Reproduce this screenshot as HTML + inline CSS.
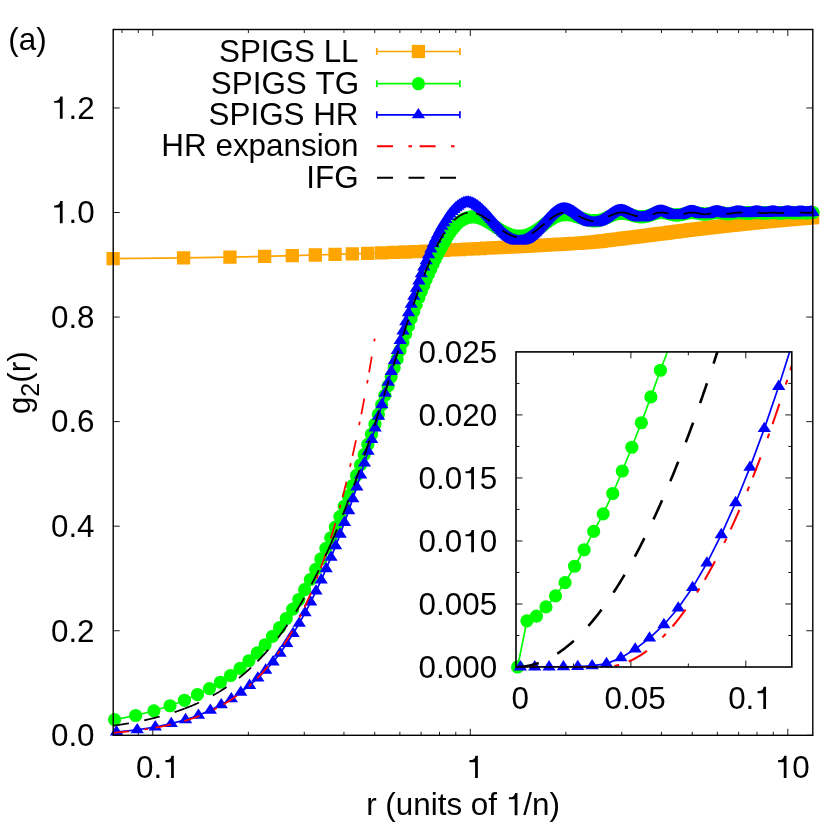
<!DOCTYPE html>
<html><head><meta charset="utf-8"><title>g2(r)</title>
<style>html,body{margin:0;padding:0;background:#fff}svg{display:block}</style></head>
<body><svg width="830" height="830" viewBox="0 0 830 830">
<rect width="830" height="830" fill="#fff"/>
<filter id="gf" x="0" y="0" width="830" height="830" filterUnits="userSpaceOnUse"><feOffset dx="0" dy="0"/></filter>
<path fill="none" stroke="#000" stroke-width="0.9" d="M122.03,735.3v-3.5M122.03,29.5v3.5M138.27,735.3v-3.5M138.27,29.5v3.5M152.8,735.3v-6.5M152.8,29.5v6.5M248.38,735.3v-3.5M248.38,29.5v3.5M304.29,735.3v-3.5M304.29,29.5v3.5M343.95,735.3v-3.5M343.95,29.5v3.5M374.72,735.3v-3.5M374.72,29.5v3.5M399.86,735.3v-3.5M399.86,29.5v3.5M421.12,735.3v-3.5M421.12,29.5v3.5M439.53,735.3v-3.5M439.53,29.5v3.5M455.77,735.3v-3.5M455.77,29.5v3.5M470.3,735.3v-6.5M470.3,29.5v6.5M565.88,735.3v-3.5M565.88,29.5v3.5M621.79,735.3v-3.5M621.79,29.5v3.5M661.45,735.3v-3.5M661.45,29.5v3.5M692.22,735.3v-3.5M692.22,29.5v3.5M717.36,735.3v-3.5M717.36,29.5v3.5M738.62,735.3v-3.5M738.62,29.5v3.5M757.03,735.3v-3.5M757.03,29.5v3.5M773.27,735.3v-3.5M773.27,29.5v3.5M787.8,735.3v-6.5M787.8,29.5v6.5M113.2,735.3h6.5M812.8,735.3h-6.5M113.2,630.74h6.5M812.8,630.74h-6.5M113.2,526.18h6.5M812.8,526.18h-6.5M113.2,421.62h6.5M812.8,421.62h-6.5M113.2,317.06h6.5M812.8,317.06h-6.5M113.2,212.5h6.5M812.8,212.5h-6.5M113.2,107.94h6.5M812.8,107.94h-6.5"/>
<g fill="none" stroke-width="1.7" stroke-linejoin="round">
<path stroke="#ffa500" d="M113.13,258.59L183.57,257.79L229.96,257.07L264.62,256.39L292.29,255.67L315.32,254.99L335.05,254.38L352.31,253.83L367.65,253.34L381.45,252.88L393.99,252.44L405.49,251.99L416.1,251.56L425.96,251.12L435.15,250.72L443.77,250.32L451.89,249.94L459.55,249.57L466.81,249.21L473.7,248.85L480.27,248.53L486.54,248.22L492.54,247.93L498.28,247.65L503.8,247.39L509.1,247.12L514.21,246.87L519.14,246.61L523.89,246.35L528.49,246.1L532.94,245.85L537.25,245.61L541.42,245.37L545.48,245.15L549.42,244.92L553.25,244.7L556.98,244.48L560.61,244.26L564.14,244.04L567.59,243.83L570.95,243.64L574.24,243.47L577.44,243.29L580.58,243.11L583.64,242.91L586.64,242.69L589.57,242.44L592.45,242.15L595.26,241.85L598.02,241.54L600.72,241.23L603.37,240.92L605.98,240.6L608.53,240.29L611.04,239.97L613.5,239.67L615.92,239.36L618.29,239.07L620.63,238.78L622.93,238.49L625.19,238.22L627.41,237.94L629.6,237.67L631.76,237.4L633.88,237.14L635.97,236.87L638.03,236.62L640.05,236.36L642.05,236.11L644.02,235.86L645.97,235.61L647.88,235.37L649.77,235.13L651.63,234.89L653.47,234.65L655.29,234.42L657.08,234.19L658.84,233.95L660.59,233.73L662.31,233.5L664.02,233.28L665.7,233.06L667.36,232.84L669,232.63L670.62,232.41L672.23,232.21L673.81,232L675.38,231.8L676.93,231.6L678.46,231.4L679.97,231.21L681.47,231.02L682.96,230.83L684.42,230.65L685.87,230.46L687.31,230.29L688.73,230.11L690.14,229.94L691.53,229.77L692.91,229.61L694.28,229.45L695.63,229.28L696.97,229.13L698.29,228.97L699.61,228.81L700.91,228.66L702.2,228.51L703.47,228.36L704.74,228.21L705.99,228.06L707.23,227.92L708.46,227.78L709.68,227.64L710.89,227.5L712.09,227.36L713.28,227.22L714.46,227.09L715.63,226.95L716.79,226.82L717.94,226.69L719.08,226.56L720.21,226.44L721.33,226.31L722.44,226.18L723.54,226.06L724.64,225.94L725.72,225.82L726.8,225.7L727.87,225.58L728.93,225.47L729.98,225.35L731.03,225.24L732.06,225.12L733.09,225.01L734.11,224.9L735.13,224.79L736.13,224.68L737.13,224.58L738.13,224.47L739.11,224.36L740.09,224.26L741.06,224.16L742.02,224.06L742.98,223.96L743.93,223.86L744.88,223.76L745.81,223.66L746.75,223.56L747.67,223.47L748.59,223.37L749.5,223.28L750.41,223.19L751.31,223.09L752.21,223L753.1,222.91L753.98,222.82L754.86,222.73L755.73,222.65L756.6,222.56L757.46,222.47L758.32,222.39L759.17,222.3L760.01,222.22L760.86,222.14L761.69,222.06L762.52,221.97L763.35,221.89L764.17,221.81L764.98,221.73L765.8,221.66L766.6,221.58L767.4,221.5L768.2,221.42L768.99,221.35L769.78,221.27L770.56,221.2L771.34,221.12L772.12,221.05L772.89,220.98L773.65,220.91L774.42,220.83L775.17,220.76L775.93,220.69L776.68,220.62L777.42,220.56L778.16,220.49L778.9,220.42L779.63,220.35L780.36,220.29L781.09,220.22L781.81,220.15L782.53,220.09L783.24,220.03L783.95,219.96L784.66,219.9L785.37,219.84L786.07,219.77L786.76,219.71L787.45,219.65L788.14,219.59L788.83,219.53L789.51,219.47L790.19,219.41L790.87,219.36L791.54,219.3L792.21,219.24L792.88,219.18L793.54,219.13L794.2,219.07L794.86,219.02L795.51,218.96L796.16,218.91L796.81,218.85L797.45,218.8L798.09,218.75L798.73,218.69L799.37,218.64L800,218.59L800.63,218.54L801.26,218.49L801.88,218.44L802.5,218.39L803.12,218.34L803.73,218.29L804.35,218.24L804.96,218.19L805.56,218.15L806.17,218.1L806.77,218.05L807.37,218.01L807.97,217.96L808.56,217.91L809.15,217.87L809.74,217.82L810.33,217.78L810.91,217.73L811.5,217.69L812.08,217.65L812.65,217.6"/>
<path fill="#ffa500" stroke="none" d="M106.48,251.94h13.3v13.3h-13.3zM176.92,251.14h13.3v13.3h-13.3zM223.31,250.42h13.3v13.3h-13.3zM257.97,249.74h13.3v13.3h-13.3zM285.64,249.02h13.3v13.3h-13.3zM308.67,248.34h13.3v13.3h-13.3zM328.4,247.73h13.3v13.3h-13.3zM345.66,247.18h13.3v13.3h-13.3zM361,246.69h13.3v13.3h-13.3zM374.8,246.23h13.3v13.3h-13.3zM387.34,245.79h13.3v13.3h-13.3zM398.84,245.34h13.3v13.3h-13.3zM409.45,244.91h13.3v13.3h-13.3zM419.31,244.47h13.3v13.3h-13.3zM428.5,244.07h13.3v13.3h-13.3zM437.12,243.67h13.3v13.3h-13.3zM445.24,243.29h13.3v13.3h-13.3zM452.9,242.92h13.3v13.3h-13.3zM460.16,242.56h13.3v13.3h-13.3zM467.05,242.2h13.3v13.3h-13.3zM473.62,241.88h13.3v13.3h-13.3zM479.89,241.57h13.3v13.3h-13.3zM485.89,241.28h13.3v13.3h-13.3zM491.63,241h13.3v13.3h-13.3zM497.15,240.74h13.3v13.3h-13.3zM502.45,240.47h13.3v13.3h-13.3zM507.56,240.22h13.3v13.3h-13.3zM512.49,239.96h13.3v13.3h-13.3zM517.24,239.7h13.3v13.3h-13.3zM521.84,239.45h13.3v13.3h-13.3zM526.29,239.2h13.3v13.3h-13.3zM530.6,238.96h13.3v13.3h-13.3zM534.77,238.72h13.3v13.3h-13.3zM538.83,238.5h13.3v13.3h-13.3zM542.77,238.27h13.3v13.3h-13.3zM546.6,238.05h13.3v13.3h-13.3zM550.33,237.83h13.3v13.3h-13.3zM553.96,237.61h13.3v13.3h-13.3zM557.49,237.39h13.3v13.3h-13.3zM560.94,237.18h13.3v13.3h-13.3zM564.3,236.99h13.3v13.3h-13.3zM567.59,236.82h13.3v13.3h-13.3zM570.79,236.64h13.3v13.3h-13.3zM573.93,236.46h13.3v13.3h-13.3zM576.99,236.26h13.3v13.3h-13.3zM579.99,236.04h13.3v13.3h-13.3zM582.92,235.79h13.3v13.3h-13.3zM585.8,235.5h13.3v13.3h-13.3zM588.61,235.2h13.3v13.3h-13.3zM591.37,234.89h13.3v13.3h-13.3zM594.07,234.58h13.3v13.3h-13.3zM596.72,234.27h13.3v13.3h-13.3zM599.33,233.95h13.3v13.3h-13.3zM601.88,233.64h13.3v13.3h-13.3zM604.39,233.32h13.3v13.3h-13.3zM606.85,233.02h13.3v13.3h-13.3zM609.27,232.71h13.3v13.3h-13.3zM611.64,232.42h13.3v13.3h-13.3zM613.98,232.13h13.3v13.3h-13.3zM616.28,231.84h13.3v13.3h-13.3zM618.54,231.57h13.3v13.3h-13.3zM620.76,231.29h13.3v13.3h-13.3zM622.95,231.02h13.3v13.3h-13.3zM625.11,230.75h13.3v13.3h-13.3zM627.23,230.49h13.3v13.3h-13.3zM629.32,230.22h13.3v13.3h-13.3zM631.38,229.97h13.3v13.3h-13.3zM633.4,229.71h13.3v13.3h-13.3zM635.4,229.46h13.3v13.3h-13.3zM637.37,229.21h13.3v13.3h-13.3zM639.32,228.96h13.3v13.3h-13.3zM641.23,228.72h13.3v13.3h-13.3zM643.12,228.48h13.3v13.3h-13.3zM644.98,228.24h13.3v13.3h-13.3zM646.82,228h13.3v13.3h-13.3zM648.64,227.77h13.3v13.3h-13.3zM650.43,227.54h13.3v13.3h-13.3zM652.19,227.3h13.3v13.3h-13.3zM653.94,227.08h13.3v13.3h-13.3zM655.66,226.85h13.3v13.3h-13.3zM657.37,226.63h13.3v13.3h-13.3zM659.05,226.41h13.3v13.3h-13.3zM660.71,226.19h13.3v13.3h-13.3zM662.35,225.98h13.3v13.3h-13.3zM663.97,225.76h13.3v13.3h-13.3zM665.58,225.56h13.3v13.3h-13.3zM667.16,225.35h13.3v13.3h-13.3zM668.73,225.15h13.3v13.3h-13.3zM670.28,224.95h13.3v13.3h-13.3zM671.81,224.75h13.3v13.3h-13.3zM673.32,224.56h13.3v13.3h-13.3zM674.82,224.37h13.3v13.3h-13.3zM676.31,224.18h13.3v13.3h-13.3zM677.77,224h13.3v13.3h-13.3zM679.22,223.81h13.3v13.3h-13.3zM680.66,223.64h13.3v13.3h-13.3zM682.08,223.46h13.3v13.3h-13.3zM683.49,223.29h13.3v13.3h-13.3zM684.88,223.12h13.3v13.3h-13.3zM686.26,222.96h13.3v13.3h-13.3zM687.63,222.8h13.3v13.3h-13.3zM688.98,222.63h13.3v13.3h-13.3zM690.32,222.48h13.3v13.3h-13.3zM691.64,222.32h13.3v13.3h-13.3zM692.96,222.16h13.3v13.3h-13.3zM694.26,222.01h13.3v13.3h-13.3zM695.55,221.86h13.3v13.3h-13.3zM696.82,221.71h13.3v13.3h-13.3zM698.09,221.56h13.3v13.3h-13.3zM699.34,221.41h13.3v13.3h-13.3zM700.58,221.27h13.3v13.3h-13.3zM701.81,221.13h13.3v13.3h-13.3zM703.03,220.99h13.3v13.3h-13.3zM704.24,220.85h13.3v13.3h-13.3zM705.44,220.71h13.3v13.3h-13.3zM706.63,220.57h13.3v13.3h-13.3zM707.81,220.44h13.3v13.3h-13.3zM708.98,220.3h13.3v13.3h-13.3zM710.14,220.17h13.3v13.3h-13.3zM711.29,220.04h13.3v13.3h-13.3zM712.43,219.91h13.3v13.3h-13.3zM713.56,219.79h13.3v13.3h-13.3zM714.68,219.66h13.3v13.3h-13.3zM715.79,219.53h13.3v13.3h-13.3zM716.89,219.41h13.3v13.3h-13.3zM717.99,219.29h13.3v13.3h-13.3zM719.07,219.17h13.3v13.3h-13.3zM720.15,219.05h13.3v13.3h-13.3zM721.22,218.93h13.3v13.3h-13.3zM722.28,218.82h13.3v13.3h-13.3zM723.33,218.7h13.3v13.3h-13.3zM724.38,218.59h13.3v13.3h-13.3zM725.41,218.47h13.3v13.3h-13.3zM726.44,218.36h13.3v13.3h-13.3zM727.46,218.25h13.3v13.3h-13.3zM728.48,218.14h13.3v13.3h-13.3zM729.48,218.03h13.3v13.3h-13.3zM730.48,217.93h13.3v13.3h-13.3zM731.48,217.82h13.3v13.3h-13.3zM732.46,217.71h13.3v13.3h-13.3zM733.44,217.61h13.3v13.3h-13.3zM734.41,217.51h13.3v13.3h-13.3zM735.37,217.41h13.3v13.3h-13.3zM736.33,217.31h13.3v13.3h-13.3zM737.28,217.21h13.3v13.3h-13.3zM738.23,217.11h13.3v13.3h-13.3zM739.16,217.01h13.3v13.3h-13.3zM740.1,216.91h13.3v13.3h-13.3zM741.02,216.82h13.3v13.3h-13.3zM741.94,216.72h13.3v13.3h-13.3zM742.85,216.63h13.3v13.3h-13.3zM743.76,216.54h13.3v13.3h-13.3zM744.66,216.44h13.3v13.3h-13.3zM745.56,216.35h13.3v13.3h-13.3zM746.45,216.26h13.3v13.3h-13.3zM747.33,216.17h13.3v13.3h-13.3zM748.21,216.08h13.3v13.3h-13.3zM749.08,216h13.3v13.3h-13.3zM749.95,215.91h13.3v13.3h-13.3zM750.81,215.82h13.3v13.3h-13.3zM751.67,215.74h13.3v13.3h-13.3zM752.52,215.65h13.3v13.3h-13.3zM753.36,215.57h13.3v13.3h-13.3zM754.21,215.49h13.3v13.3h-13.3zM755.04,215.41h13.3v13.3h-13.3zM755.87,215.32h13.3v13.3h-13.3zM756.7,215.24h13.3v13.3h-13.3zM757.52,215.16h13.3v13.3h-13.3zM758.33,215.08h13.3v13.3h-13.3zM759.15,215.01h13.3v13.3h-13.3zM759.95,214.93h13.3v13.3h-13.3zM760.75,214.85h13.3v13.3h-13.3zM761.55,214.77h13.3v13.3h-13.3zM762.34,214.7h13.3v13.3h-13.3zM763.13,214.62h13.3v13.3h-13.3zM763.91,214.55h13.3v13.3h-13.3zM764.69,214.47h13.3v13.3h-13.3zM765.47,214.4h13.3v13.3h-13.3zM766.24,214.33h13.3v13.3h-13.3zM767,214.26h13.3v13.3h-13.3zM767.77,214.18h13.3v13.3h-13.3zM768.52,214.11h13.3v13.3h-13.3zM769.28,214.04h13.3v13.3h-13.3zM770.03,213.97h13.3v13.3h-13.3zM770.77,213.91h13.3v13.3h-13.3zM771.51,213.84h13.3v13.3h-13.3zM772.25,213.77h13.3v13.3h-13.3zM772.98,213.7h13.3v13.3h-13.3zM773.71,213.64h13.3v13.3h-13.3zM774.44,213.57h13.3v13.3h-13.3zM775.16,213.5h13.3v13.3h-13.3zM775.88,213.44h13.3v13.3h-13.3zM776.59,213.38h13.3v13.3h-13.3zM777.3,213.31h13.3v13.3h-13.3zM778.01,213.25h13.3v13.3h-13.3zM778.72,213.19h13.3v13.3h-13.3zM779.42,213.12h13.3v13.3h-13.3zM780.11,213.06h13.3v13.3h-13.3zM780.8,213h13.3v13.3h-13.3zM781.49,212.94h13.3v13.3h-13.3zM782.18,212.88h13.3v13.3h-13.3zM782.86,212.82h13.3v13.3h-13.3zM783.54,212.76h13.3v13.3h-13.3zM784.22,212.71h13.3v13.3h-13.3zM784.89,212.65h13.3v13.3h-13.3zM785.56,212.59h13.3v13.3h-13.3zM786.23,212.53h13.3v13.3h-13.3zM786.89,212.48h13.3v13.3h-13.3zM787.55,212.42h13.3v13.3h-13.3zM788.21,212.37h13.3v13.3h-13.3zM788.86,212.31h13.3v13.3h-13.3zM789.51,212.26h13.3v13.3h-13.3zM790.16,212.2h13.3v13.3h-13.3zM790.8,212.15h13.3v13.3h-13.3zM791.44,212.1h13.3v13.3h-13.3zM792.08,212.04h13.3v13.3h-13.3zM792.72,211.99h13.3v13.3h-13.3zM793.35,211.94h13.3v13.3h-13.3zM793.98,211.89h13.3v13.3h-13.3zM794.61,211.84h13.3v13.3h-13.3zM795.23,211.79h13.3v13.3h-13.3zM795.85,211.74h13.3v13.3h-13.3zM796.47,211.69h13.3v13.3h-13.3zM797.08,211.64h13.3v13.3h-13.3zM797.7,211.59h13.3v13.3h-13.3zM798.31,211.54h13.3v13.3h-13.3zM798.91,211.5h13.3v13.3h-13.3zM799.52,211.45h13.3v13.3h-13.3zM800.12,211.4h13.3v13.3h-13.3zM800.72,211.36h13.3v13.3h-13.3zM801.32,211.31h13.3v13.3h-13.3zM801.91,211.26h13.3v13.3h-13.3zM802.5,211.22h13.3v13.3h-13.3zM803.09,211.17h13.3v13.3h-13.3zM803.68,211.13h13.3v13.3h-13.3zM804.26,211.08h13.3v13.3h-13.3zM804.85,211.04h13.3v13.3h-13.3zM805.43,211h13.3v13.3h-13.3zM806,210.95h13.3v13.3h-13.3z"/>
<path stroke="#00ff00" d="M114.59,719.64L135.64,715.5L153.9,710.8L170.02,705.74L184.45,700.29L197.51,694.54L209.44,688.56L220.42,682.23L230.59,675.48L240.06,668.31L248.93,660.74L257.25,652.87L265.11,644.73L272.54,636.29L279.59,627.55L286.29,618.5L292.69,609.16L298.8,599.54L304.65,589.67L310.27,579.59L315.66,569.34L320.85,558.94L325.86,548.43L330.68,537.83L335.35,527.17L339.86,516.62L344.23,506.23L348.46,495.93L352.57,485.63L356.56,475.3L360.44,464.94L364.21,454.63L367.88,444.4L371.46,434.27L374.94,424.27L378.34,414.43L381.66,404.76L384.9,395.26L388.07,385.92L391.16,376.73L394.19,367.72L397.15,358.92L400.05,350.34L402.89,342.01L405.67,333.94L408.4,326.15L411.07,318.65L413.69,311.44L416.27,304.5L418.79,297.85L421.28,291.48L423.71,285.43L426.11,279.69L428.46,274.2L430.78,268.92L433.06,263.9L435.3,259.19L437.5,254.78L439.67,250.67L441.8,246.66L443.91,242.73L445.98,239.02L448.02,235.67L450.03,232.65L452.01,229.91L453.97,227.46L455.89,225.31L457.79,223.44L459.67,221.83L461.52,220.47L463.34,219.36L465.14,218.49L466.92,217.84L468.68,217.38L470.41,217.09L472.12,216.94L473.81,216.94L475.48,217.08L477.13,217.36L478.76,217.77L480.37,218.29L481.97,218.9L483.54,219.6L485.1,220.38L486.64,221.21L488.16,222.09L489.67,223.01L491.16,223.96L492.63,224.92L494.09,225.88L495.53,226.84L496.96,227.77L498.37,228.67L499.77,229.53L501.16,230.35L502.53,231.12L503.89,231.84L505.23,232.51L506.56,233.13L507.88,233.69L509.19,234.19L510.48,234.64L511.76,235.02L513.03,235.35L514.29,235.62L515.54,235.83L516.77,235.98L518,236.08L519.21,236.12L520.42,236.11L521.61,236.04L522.79,235.92L523.97,235.73L525.13,235.48L526.28,235.18L527.43,234.82L528.56,234.41L529.69,233.95L530.8,233.45L531.91,232.9L533.01,232.3L534.1,231.68L535.18,231.01L536.25,230.32L537.31,229.6L538.37,228.86L539.42,228.11L540.46,227.33L541.49,226.55L542.52,225.76L543.53,224.97L544.54,224.18L545.54,223.42L546.54,222.67L547.53,221.94L548.51,221.24L549.48,220.56L550.45,219.92L551.41,219.3L552.36,218.72L553.31,218.18L554.25,217.67L555.19,217.2L556.11,216.77L557.04,216.37L557.95,216.02L558.86,215.71L559.77,215.43L560.66,215.2L561.56,215.01L562.44,214.85L563.32,214.73L564.2,214.65L565.07,214.61L565.93,214.59L566.79,214.61L567.64,214.65L568.49,214.72L569.34,214.81L570.17,214.93L571.01,215.07L571.83,215.23L572.66,215.41L573.48,215.61L574.29,215.82L575.1,216.05L575.9,216.29L576.7,216.53L577.49,216.79L578.28,217.05L579.07,217.32L579.85,217.59L580.63,217.86L581.4,218.12L582.17,218.38L582.93,218.64L583.69,218.88L584.45,219.12L585.2,219.35L585.94,219.56L586.69,219.76L587.43,219.95L588.16,220.12L588.89,220.27L589.62,220.41L590.34,220.53L591.06,220.63L591.78,220.71L592.49,220.78L593.2,220.82L593.91,220.85L594.61,220.86L595.3,220.84L596,220.8L596.69,220.74L597.38,220.66L598.06,220.55L598.74,220.43L599.42,220.28L600.09,220.12L600.76,219.94L601.43,219.74L602.1,219.53L602.76,219.3L603.42,219.07L604.07,218.82L604.72,218.56L605.37,218.29L606.02,218.02L606.66,217.75L607.3,217.47L607.94,217.19L608.57,216.91L609.2,216.63L609.83,216.36L610.45,216.09L611.08,215.82L611.7,215.57L612.31,215.32L612.93,215.09L613.54,214.86L614.15,214.65L614.75,214.45L615.36,214.26L615.96,214.09L616.55,213.94L617.15,213.8L617.74,213.68L618.33,213.57L618.92,213.48L619.51,213.41L620.09,213.35L620.67,213.31L621.25,213.29L621.82,213.28L622.4,213.29L622.97,213.32L623.54,213.35L624.1,213.4L624.67,213.47L625.23,213.54L625.79,213.63L626.34,213.73L626.9,213.83L627.45,213.95L628,214.08L628.55,214.21L629.09,214.35L629.64,214.49L630.18,214.63L630.72,214.78L631.26,214.93L631.79,215.09L632.33,215.24L632.86,215.39L633.39,215.53L633.91,215.68L634.44,215.81L634.96,215.95L635.48,216.07L636,216.19L636.52,216.3L637.03,216.41L637.55,216.5L638.06,216.58L638.57,216.66L639.08,216.72L639.58,216.77L640.09,216.81L640.59,216.84L641.09,216.86L641.59,216.87L642.08,216.86L642.58,216.85L643.07,216.82L643.56,216.78L644.05,216.73L644.54,216.67L645.03,216.6L645.51,216.51L646,216.41L646.48,216.31L646.96,216.19L647.43,216.06L647.91,215.93L648.39,215.79L648.86,215.65L649.33,215.5L649.8,215.34L650.27,215.18L650.73,215.02L651.2,214.86L651.66,214.7L652.12,214.53L652.58,214.37L653.04,214.21L653.5,214.06L653.96,213.91L654.41,213.76L654.86,213.62L655.31,213.48L655.76,213.35L656.21,213.23L656.66,213.12L657.1,213.01L657.55,212.91L657.99,212.83L658.43,212.75L658.87,212.68L659.31,212.63L659.75,212.58L660.18,212.54L660.62,212.52L661.05,212.5L661.48,212.5L661.91,212.51L662.34,212.52L662.77,212.55L663.19,212.58L663.62,212.63L664.04,212.68L664.46,212.74L664.89,212.81L665.31,212.88L665.72,212.96L666.14,213.05L666.56,213.14L666.97,213.24L667.38,213.34L667.8,213.44L668.21,213.54L668.62,213.65L669.03,213.76L669.43,213.87L669.84,213.97L670.24,214.08L670.65,214.18L671.05,214.28L671.45,214.38L671.85,214.47L672.25,214.56L672.65,214.65L673.05,214.73L673.44,214.8L673.84,214.87L674.23,214.93L674.62,214.98L675.01,215.02L675.4,215.06L675.79,215.09L676.18,215.11L676.57,215.12L676.95,215.13L677.34,215.13L677.72,215.11L678.1,215.1L678.48,215.07L678.86,215.03L679.24,214.99L679.62,214.94L680,214.89L680.37,214.83L680.75,214.76L681.12,214.69L681.5,214.61L681.87,214.53L682.24,214.44L682.61,214.35L682.98,214.26L683.35,214.16L683.71,214.06L684.08,213.96L684.45,213.87L684.81,213.77L685.17,213.67L685.54,213.57L685.9,213.47L686.26,213.38L686.62,213.29L686.98,213.2L687.33,213.12L687.69,213.04L688.05,212.96L688.4,212.89L688.75,212.82L689.11,212.76L689.46,212.71L689.81,212.66L690.16,212.62L690.51,212.58L690.86,212.55L691.21,212.53L691.55,212.51L691.9,212.5L692.25,212.5L692.59,212.5L692.93,212.51L693.28,212.53L693.62,212.55L693.96,212.58L694.3,212.61L694.64,212.65L694.98,212.7L695.31,212.75L695.65,212.8L695.99,212.86L696.32,212.92L696.65,212.98L696.99,213.04L697.32,213.11L697.65,213.18L697.98,213.25L698.31,213.32L698.64,213.39L698.97,213.47L699.3,213.54L699.63,213.61L699.95,213.67L700.28,213.74L700.6,213.8L700.93,213.86L701.25,213.92L701.57,213.97L701.89,214.02L702.22,214.07L702.54,214.11L702.86,214.15L703.17,214.18L703.49,214.2L703.81,214.22L704.13,214.24L704.44,214.25L704.76,214.26L705.07,214.26L705.39,214.25L705.7,214.24L706.01,214.22L706.32,214.2L706.63,214.18L706.94,214.14L707.25,214.11L707.56,214.07L707.87,214.02L708.18,213.98L708.48,213.93L708.79,213.87L709.09,213.81L709.4,213.75L709.7,213.69L710.01,213.63L710.31,213.56L710.61,213.5L710.91,213.43L711.21,213.36L711.51,213.3L711.81,213.23L712.11,213.17L712.41,213.1L712.71,213.04L713,212.98L713.3,212.92L713.6,212.87L713.89,212.82L714.19,212.77L714.48,212.72L714.77,212.68L715.06,212.64L715.36,212.61L715.65,212.58L715.94,212.56L716.23,212.54L716.52,212.52L716.81,212.51L717.09,212.5L717.38,212.5L717.67,212.5L717.95,212.51L718.24,212.52L718.53,212.54L718.81,212.56L719.09,212.58L719.38,212.61L719.66,212.64L719.94,212.67L720.22,212.71L720.51,212.75L720.79,212.79L721.07,212.84L721.35,212.88L721.62,212.93L721.9,212.98L722.18,213.03L722.46,213.08L722.73,213.13L723.01,213.18L723.29,213.23L723.56,213.28L723.83,213.33L724.11,213.38L724.38,213.42L724.65,213.47L724.93,213.51L725.2,213.55L725.47,213.58L725.74,213.61L726.01,213.64L726.28,213.67L726.55,213.69L726.82,213.71L727.08,213.73L727.35,213.74L727.62,213.75L727.89,213.76L728.15,213.76L728.42,213.75L728.68,213.75L728.95,213.74L729.21,213.72L729.47,213.7L729.74,213.68L730,213.66L730.26,213.63L730.52,213.6L730.78,213.56L731.04,213.53L731.3,213.49L731.56,213.45L731.82,213.41L732.08,213.36L732.34,213.32L732.6,213.27L732.85,213.22L733.11,213.17L733.36,213.13L733.62,213.08L733.88,213.03L734.13,212.98L734.38,212.94L734.64,212.89L734.89,212.85L735.14,212.81L735.4,212.77L735.65,212.73L735.9,212.69L736.15,212.66L736.4,212.63L736.65,212.6L736.9,212.58L737.15,212.56L737.4,212.54L737.65,212.53L737.89,212.51L738.14,212.51L738.39,212.5L738.63,212.5L738.88,212.5L739.13,212.51L739.37,212.52L739.62,212.53L739.86,212.54L740.1,212.56L740.35,212.58L740.59,212.6L740.83,212.63L741.07,212.65L741.32,212.68L741.56,212.72L741.8,212.75L742.04,212.78L742.28,212.82L742.52,212.86L742.76,212.89L743,212.93L743.23,212.97L743.47,213.01L743.71,213.04L743.95,213.08L744.18,213.12L744.42,213.15L744.66,213.19L744.89,213.22L745.13,213.25L745.36,213.28L745.6,213.31L745.83,213.33L746.06,213.36L746.3,213.38L746.53,213.39L746.76,213.41L746.99,213.42L747.22,213.43L747.46,213.44L747.69,213.44L747.92,213.44L748.15,213.44L748.38,213.44L748.61,213.43L748.83,213.42L749.06,213.41L749.29,213.39L749.52,213.37L749.75,213.35L749.97,213.33L750.2,213.3L750.43,213.28L750.65,213.25L750.88,213.22L751.1,213.18L751.33,213.15L751.55,213.12L751.78,213.08L752,213.05L752.22,213.01L752.44,212.97L752.67,212.94L752.89,212.9L753.11,212.87L753.33,212.83L753.55,212.8L753.77,212.77L754,212.73L754.22,212.7L754.44,212.68L754.65,212.65L754.87,212.62L755.09,212.6L755.31,212.58L755.53,212.56L755.75,212.54L755.96,212.53L756.18,212.52L756.4,212.51L756.61,212.5L756.83,212.5L757.04,212.5L757.26,212.5L757.48,212.51L757.69,212.51L757.9,212.52L758.12,212.53L758.33,212.55L758.54,212.56L758.76,212.58L758.97,212.6L759.18,212.62L759.39,212.64L759.61,212.67L759.82,212.69L760.03,212.72L760.24,212.75L760.45,212.77L760.66,212.8L760.87,212.83L761.08,212.86L761.29,212.89L761.5,212.92L761.7,212.95L761.91,212.98L762.12,213.01L762.33,213.03L762.54,213.06L762.74,213.08L762.95,213.1L763.15,213.13L763.36,213.15L763.57,213.16L763.77,213.18L763.98,213.19L764.18,213.21L764.39,213.22L764.59,213.22L764.79,213.23L765,213.23L765.2,213.23L765.4,213.23L765.61,213.23L765.81,213.22L766.01,213.22L766.21,213.21L766.41,213.19L766.61,213.18L766.82,213.16L767.02,213.15L767.22,213.13L767.42,213.11L767.62,213.08L767.82,213.06L768.01,213.04L768.21,213.01L768.41,212.98L768.61,212.96L768.81,212.93L769.01,212.9L769.2,212.87L769.4,212.84L769.6,212.82L769.79,212.79L769.99,212.76L770.19,212.73L770.38,212.71L770.58,212.68L770.77,212.66L770.97,212.64L771.16,212.62L771.36,212.6L771.55,212.58L771.74,212.56L771.94,212.55L772.13,212.54L772.32,212.52L772.52,212.52L772.71,212.51L772.9,212.5L773.09,212.5L773.28,212.5L773.48,212.5L773.67,212.5L773.86,212.51L774.05,212.52L774.24,212.53L774.43,212.54L774.62,212.55L774.81,212.56L775,212.58L775.19,212.59L775.37,212.61L775.56,212.63L775.75,212.65L775.94,212.67L776.13,212.7L776.31,212.72L776.5,212.74L776.69,212.76L776.88,212.79L777.06,212.81L777.25,212.83L777.43,212.86L777.62,212.88L777.81,212.9L777.99,212.92L778.18,212.94L778.36,212.96L778.54,212.98L778.73,213L778.91,213.02L779.1,213.03L779.28,213.04L779.46,213.05L779.65,213.06L779.83,213.07L780.01,213.08L780.19,213.08L780.38,213.09L780.56,213.09L780.74,213.09L780.92,213.08L781.1,213.08L781.28,213.07L781.46,213.07L781.64,213.06L781.82,213.05L782,213.03L782.18,213.02L782.36,213L782.54,212.99L782.72,212.97L782.9,212.95L783.08,212.93L783.26,212.91L783.43,212.89L783.61,212.87L783.79,212.84L783.97,212.82L784.14,212.8L784.32,212.78L784.5,212.75L784.67,212.73L784.85,212.71L785.03,212.69L785.2,212.67L785.38,212.65L785.55,212.63L785.73,212.61L785.9,212.59L786.08,212.58L786.25,212.56L786.43,212.55L786.6,212.54L786.77,212.53L786.95,212.52L787.12,212.51L787.29,212.51L787.47,212.5L787.64,212.5L787.81,212.5L787.98,212.5L788.16,212.5L788.33,212.51L788.5,212.51L788.67,212.52L788.84,212.53L789.01,212.54L789.18,212.55L789.35,212.56L789.52,212.58L789.69,212.59L789.86,212.61L790.03,212.62L790.2,212.64L790.37,212.66L790.54,212.68L790.71,212.7L790.88,212.71L791.05,212.73L791.22,212.75L791.38,212.77L791.55,212.79L791.72,212.81L791.89,212.83L792.05,212.85L792.22,212.86L792.39,212.88L792.55,212.89L792.72,212.91L792.89,212.92L793.05,212.93L793.22,212.94L793.38,212.95L793.55,212.96L793.71,212.97L793.88,212.97L794.04,212.98L794.21,212.98L794.37,212.98L794.54,212.98L794.7,212.98L794.87,212.97L795.03,212.97L795.19,212.96L795.36,212.96L795.52,212.95L795.68,212.94L795.85,212.93L796.01,212.91L796.17,212.9L796.33,212.89L796.49,212.87L796.66,212.85L796.82,212.84L796.98,212.82L797.14,212.8L797.3,212.78L797.46,212.77L797.62,212.75L797.78,212.73L797.94,212.71L798.1,212.69L798.26,212.67L798.42,212.66L798.58,212.64L798.74,212.62L798.9,212.61L799.06,212.59L799.22,212.58L799.38,212.56L799.53,212.55L799.69,212.54L799.85,212.53L800.01,212.52L800.17,212.52L800.32,212.51L800.48,212.51L800.64,212.5L800.8,212.5L800.95,212.5L801.11,212.5L801.27,212.5L801.42,212.51L801.58,212.51L801.73,212.52L801.89,212.52L802.04,212.53L802.2,212.54L802.36,212.55L802.51,212.56L802.67,212.58L802.82,212.59L802.97,212.6L803.13,212.62L803.28,212.63L803.44,212.65L803.59,212.66L803.74,212.68L803.9,212.69L804.05,212.71L804.2,212.73L804.36,212.74L804.51,212.76L804.66,212.77L804.81,212.79L804.97,212.8L805.12,212.81L805.27,212.83L805.42,212.84L805.57,212.85L805.73,212.86L805.88,212.87L806.03,212.88L806.18,212.88L806.33,212.89L806.48,212.89L806.63,212.9L806.78,212.9L806.93,212.9L807.08,212.9L807.23,212.9L807.38,212.9L807.53,212.89L807.68,212.89L807.83,212.88L807.98,212.87L808.13,212.86L808.27,212.86L808.42,212.85L808.57,212.83L808.72,212.82L808.87,212.81L809.02,212.8L809.16,212.78L809.31,212.77L809.46,212.75L809.61,212.74L809.75,212.72L809.9,212.71L810.05,212.69L810.19,212.68L810.34,212.66L810.49,212.65L810.63,212.63L810.78,212.62L810.92,212.6L811.07,212.59L811.21,212.58L811.36,212.57L811.51,212.55L811.65,212.54L811.8,212.54L811.94,212.53L812.08,212.52L812.23,212.51L812.37,212.51L812.52,212.5L812.66,212.5L812.81,212.5L812.95,212.5L813.09,212.5"/>
<path fill="#00ff00" stroke="none" d="M107.99,719.64a6.6,6.6 0 1,0 13.2,0a6.6,6.6 0 1,0 -13.2,0zM129.04,715.5a6.6,6.6 0 1,0 13.2,0a6.6,6.6 0 1,0 -13.2,0zM147.3,710.8a6.6,6.6 0 1,0 13.2,0a6.6,6.6 0 1,0 -13.2,0zM163.42,705.74a6.6,6.6 0 1,0 13.2,0a6.6,6.6 0 1,0 -13.2,0zM177.85,700.29a6.6,6.6 0 1,0 13.2,0a6.6,6.6 0 1,0 -13.2,0zM190.91,694.54a6.6,6.6 0 1,0 13.2,0a6.6,6.6 0 1,0 -13.2,0zM202.84,688.56a6.6,6.6 0 1,0 13.2,0a6.6,6.6 0 1,0 -13.2,0zM213.82,682.23a6.6,6.6 0 1,0 13.2,0a6.6,6.6 0 1,0 -13.2,0zM223.99,675.48a6.6,6.6 0 1,0 13.2,0a6.6,6.6 0 1,0 -13.2,0zM233.46,668.31a6.6,6.6 0 1,0 13.2,0a6.6,6.6 0 1,0 -13.2,0zM242.33,660.74a6.6,6.6 0 1,0 13.2,0a6.6,6.6 0 1,0 -13.2,0zM250.65,652.87a6.6,6.6 0 1,0 13.2,0a6.6,6.6 0 1,0 -13.2,0zM258.51,644.73a6.6,6.6 0 1,0 13.2,0a6.6,6.6 0 1,0 -13.2,0zM265.94,636.29a6.6,6.6 0 1,0 13.2,0a6.6,6.6 0 1,0 -13.2,0zM272.99,627.55a6.6,6.6 0 1,0 13.2,0a6.6,6.6 0 1,0 -13.2,0zM279.69,618.5a6.6,6.6 0 1,0 13.2,0a6.6,6.6 0 1,0 -13.2,0zM286.09,609.16a6.6,6.6 0 1,0 13.2,0a6.6,6.6 0 1,0 -13.2,0zM292.2,599.54a6.6,6.6 0 1,0 13.2,0a6.6,6.6 0 1,0 -13.2,0zM298.05,589.67a6.6,6.6 0 1,0 13.2,0a6.6,6.6 0 1,0 -13.2,0zM303.67,579.59a6.6,6.6 0 1,0 13.2,0a6.6,6.6 0 1,0 -13.2,0zM309.06,569.34a6.6,6.6 0 1,0 13.2,0a6.6,6.6 0 1,0 -13.2,0zM314.25,558.94a6.6,6.6 0 1,0 13.2,0a6.6,6.6 0 1,0 -13.2,0zM319.26,548.43a6.6,6.6 0 1,0 13.2,0a6.6,6.6 0 1,0 -13.2,0zM324.08,537.83a6.6,6.6 0 1,0 13.2,0a6.6,6.6 0 1,0 -13.2,0zM328.75,527.17a6.6,6.6 0 1,0 13.2,0a6.6,6.6 0 1,0 -13.2,0zM333.26,516.62a6.6,6.6 0 1,0 13.2,0a6.6,6.6 0 1,0 -13.2,0zM337.63,506.23a6.6,6.6 0 1,0 13.2,0a6.6,6.6 0 1,0 -13.2,0zM341.86,495.93a6.6,6.6 0 1,0 13.2,0a6.6,6.6 0 1,0 -13.2,0zM345.97,485.63a6.6,6.6 0 1,0 13.2,0a6.6,6.6 0 1,0 -13.2,0zM349.96,475.3a6.6,6.6 0 1,0 13.2,0a6.6,6.6 0 1,0 -13.2,0zM353.84,464.94a6.6,6.6 0 1,0 13.2,0a6.6,6.6 0 1,0 -13.2,0zM357.61,454.63a6.6,6.6 0 1,0 13.2,0a6.6,6.6 0 1,0 -13.2,0zM361.28,444.4a6.6,6.6 0 1,0 13.2,0a6.6,6.6 0 1,0 -13.2,0zM364.86,434.27a6.6,6.6 0 1,0 13.2,0a6.6,6.6 0 1,0 -13.2,0zM368.34,424.27a6.6,6.6 0 1,0 13.2,0a6.6,6.6 0 1,0 -13.2,0zM371.74,414.43a6.6,6.6 0 1,0 13.2,0a6.6,6.6 0 1,0 -13.2,0zM375.06,404.76a6.6,6.6 0 1,0 13.2,0a6.6,6.6 0 1,0 -13.2,0zM378.3,395.26a6.6,6.6 0 1,0 13.2,0a6.6,6.6 0 1,0 -13.2,0zM381.47,385.92a6.6,6.6 0 1,0 13.2,0a6.6,6.6 0 1,0 -13.2,0zM384.56,376.73a6.6,6.6 0 1,0 13.2,0a6.6,6.6 0 1,0 -13.2,0zM387.59,367.72a6.6,6.6 0 1,0 13.2,0a6.6,6.6 0 1,0 -13.2,0zM390.55,358.92a6.6,6.6 0 1,0 13.2,0a6.6,6.6 0 1,0 -13.2,0zM393.45,350.34a6.6,6.6 0 1,0 13.2,0a6.6,6.6 0 1,0 -13.2,0zM396.29,342.01a6.6,6.6 0 1,0 13.2,0a6.6,6.6 0 1,0 -13.2,0zM399.07,333.94a6.6,6.6 0 1,0 13.2,0a6.6,6.6 0 1,0 -13.2,0zM401.8,326.15a6.6,6.6 0 1,0 13.2,0a6.6,6.6 0 1,0 -13.2,0zM404.47,318.65a6.6,6.6 0 1,0 13.2,0a6.6,6.6 0 1,0 -13.2,0zM407.09,311.44a6.6,6.6 0 1,0 13.2,0a6.6,6.6 0 1,0 -13.2,0zM409.67,304.5a6.6,6.6 0 1,0 13.2,0a6.6,6.6 0 1,0 -13.2,0zM412.19,297.85a6.6,6.6 0 1,0 13.2,0a6.6,6.6 0 1,0 -13.2,0zM414.68,291.48a6.6,6.6 0 1,0 13.2,0a6.6,6.6 0 1,0 -13.2,0zM417.11,285.43a6.6,6.6 0 1,0 13.2,0a6.6,6.6 0 1,0 -13.2,0zM419.51,279.69a6.6,6.6 0 1,0 13.2,0a6.6,6.6 0 1,0 -13.2,0zM421.86,274.2a6.6,6.6 0 1,0 13.2,0a6.6,6.6 0 1,0 -13.2,0zM424.18,268.92a6.6,6.6 0 1,0 13.2,0a6.6,6.6 0 1,0 -13.2,0zM426.46,263.9a6.6,6.6 0 1,0 13.2,0a6.6,6.6 0 1,0 -13.2,0zM428.7,259.19a6.6,6.6 0 1,0 13.2,0a6.6,6.6 0 1,0 -13.2,0zM430.9,254.78a6.6,6.6 0 1,0 13.2,0a6.6,6.6 0 1,0 -13.2,0zM433.07,250.67a6.6,6.6 0 1,0 13.2,0a6.6,6.6 0 1,0 -13.2,0zM435.2,246.66a6.6,6.6 0 1,0 13.2,0a6.6,6.6 0 1,0 -13.2,0zM437.31,242.73a6.6,6.6 0 1,0 13.2,0a6.6,6.6 0 1,0 -13.2,0zM439.38,239.02a6.6,6.6 0 1,0 13.2,0a6.6,6.6 0 1,0 -13.2,0zM441.42,235.67a6.6,6.6 0 1,0 13.2,0a6.6,6.6 0 1,0 -13.2,0zM443.43,232.65a6.6,6.6 0 1,0 13.2,0a6.6,6.6 0 1,0 -13.2,0zM445.41,229.91a6.6,6.6 0 1,0 13.2,0a6.6,6.6 0 1,0 -13.2,0zM447.37,227.46a6.6,6.6 0 1,0 13.2,0a6.6,6.6 0 1,0 -13.2,0zM449.29,225.31a6.6,6.6 0 1,0 13.2,0a6.6,6.6 0 1,0 -13.2,0zM451.19,223.44a6.6,6.6 0 1,0 13.2,0a6.6,6.6 0 1,0 -13.2,0zM453.07,221.83a6.6,6.6 0 1,0 13.2,0a6.6,6.6 0 1,0 -13.2,0zM454.92,220.47a6.6,6.6 0 1,0 13.2,0a6.6,6.6 0 1,0 -13.2,0zM456.74,219.36a6.6,6.6 0 1,0 13.2,0a6.6,6.6 0 1,0 -13.2,0zM458.54,218.49a6.6,6.6 0 1,0 13.2,0a6.6,6.6 0 1,0 -13.2,0zM460.32,217.84a6.6,6.6 0 1,0 13.2,0a6.6,6.6 0 1,0 -13.2,0zM462.08,217.38a6.6,6.6 0 1,0 13.2,0a6.6,6.6 0 1,0 -13.2,0zM463.81,217.09a6.6,6.6 0 1,0 13.2,0a6.6,6.6 0 1,0 -13.2,0zM465.52,216.94a6.6,6.6 0 1,0 13.2,0a6.6,6.6 0 1,0 -13.2,0zM467.21,216.94a6.6,6.6 0 1,0 13.2,0a6.6,6.6 0 1,0 -13.2,0zM468.88,217.08a6.6,6.6 0 1,0 13.2,0a6.6,6.6 0 1,0 -13.2,0zM470.53,217.36a6.6,6.6 0 1,0 13.2,0a6.6,6.6 0 1,0 -13.2,0zM472.16,217.77a6.6,6.6 0 1,0 13.2,0a6.6,6.6 0 1,0 -13.2,0zM473.77,218.29a6.6,6.6 0 1,0 13.2,0a6.6,6.6 0 1,0 -13.2,0zM475.37,218.9a6.6,6.6 0 1,0 13.2,0a6.6,6.6 0 1,0 -13.2,0zM476.94,219.6a6.6,6.6 0 1,0 13.2,0a6.6,6.6 0 1,0 -13.2,0zM478.5,220.38a6.6,6.6 0 1,0 13.2,0a6.6,6.6 0 1,0 -13.2,0zM480.04,221.21a6.6,6.6 0 1,0 13.2,0a6.6,6.6 0 1,0 -13.2,0zM481.56,222.09a6.6,6.6 0 1,0 13.2,0a6.6,6.6 0 1,0 -13.2,0zM483.07,223.01a6.6,6.6 0 1,0 13.2,0a6.6,6.6 0 1,0 -13.2,0zM484.56,223.96a6.6,6.6 0 1,0 13.2,0a6.6,6.6 0 1,0 -13.2,0zM486.03,224.92a6.6,6.6 0 1,0 13.2,0a6.6,6.6 0 1,0 -13.2,0zM487.49,225.88a6.6,6.6 0 1,0 13.2,0a6.6,6.6 0 1,0 -13.2,0zM488.93,226.84a6.6,6.6 0 1,0 13.2,0a6.6,6.6 0 1,0 -13.2,0zM490.36,227.77a6.6,6.6 0 1,0 13.2,0a6.6,6.6 0 1,0 -13.2,0zM491.77,228.67a6.6,6.6 0 1,0 13.2,0a6.6,6.6 0 1,0 -13.2,0zM493.17,229.53a6.6,6.6 0 1,0 13.2,0a6.6,6.6 0 1,0 -13.2,0zM494.56,230.35a6.6,6.6 0 1,0 13.2,0a6.6,6.6 0 1,0 -13.2,0zM495.93,231.12a6.6,6.6 0 1,0 13.2,0a6.6,6.6 0 1,0 -13.2,0zM497.29,231.84a6.6,6.6 0 1,0 13.2,0a6.6,6.6 0 1,0 -13.2,0zM498.63,232.51a6.6,6.6 0 1,0 13.2,0a6.6,6.6 0 1,0 -13.2,0zM499.96,233.13a6.6,6.6 0 1,0 13.2,0a6.6,6.6 0 1,0 -13.2,0zM501.28,233.69a6.6,6.6 0 1,0 13.2,0a6.6,6.6 0 1,0 -13.2,0zM502.59,234.19a6.6,6.6 0 1,0 13.2,0a6.6,6.6 0 1,0 -13.2,0zM503.88,234.64a6.6,6.6 0 1,0 13.2,0a6.6,6.6 0 1,0 -13.2,0zM505.16,235.02a6.6,6.6 0 1,0 13.2,0a6.6,6.6 0 1,0 -13.2,0zM506.43,235.35a6.6,6.6 0 1,0 13.2,0a6.6,6.6 0 1,0 -13.2,0zM507.69,235.62a6.6,6.6 0 1,0 13.2,0a6.6,6.6 0 1,0 -13.2,0zM508.94,235.83a6.6,6.6 0 1,0 13.2,0a6.6,6.6 0 1,0 -13.2,0zM510.17,235.98a6.6,6.6 0 1,0 13.2,0a6.6,6.6 0 1,0 -13.2,0zM511.4,236.08a6.6,6.6 0 1,0 13.2,0a6.6,6.6 0 1,0 -13.2,0zM512.61,236.12a6.6,6.6 0 1,0 13.2,0a6.6,6.6 0 1,0 -13.2,0zM513.82,236.11a6.6,6.6 0 1,0 13.2,0a6.6,6.6 0 1,0 -13.2,0zM515.01,236.04a6.6,6.6 0 1,0 13.2,0a6.6,6.6 0 1,0 -13.2,0zM516.19,235.92a6.6,6.6 0 1,0 13.2,0a6.6,6.6 0 1,0 -13.2,0zM517.37,235.73a6.6,6.6 0 1,0 13.2,0a6.6,6.6 0 1,0 -13.2,0zM518.53,235.48a6.6,6.6 0 1,0 13.2,0a6.6,6.6 0 1,0 -13.2,0zM519.68,235.18a6.6,6.6 0 1,0 13.2,0a6.6,6.6 0 1,0 -13.2,0zM520.83,234.82a6.6,6.6 0 1,0 13.2,0a6.6,6.6 0 1,0 -13.2,0zM521.96,234.41a6.6,6.6 0 1,0 13.2,0a6.6,6.6 0 1,0 -13.2,0zM523.09,233.95a6.6,6.6 0 1,0 13.2,0a6.6,6.6 0 1,0 -13.2,0zM524.2,233.45a6.6,6.6 0 1,0 13.2,0a6.6,6.6 0 1,0 -13.2,0zM525.31,232.9a6.6,6.6 0 1,0 13.2,0a6.6,6.6 0 1,0 -13.2,0zM526.41,232.3a6.6,6.6 0 1,0 13.2,0a6.6,6.6 0 1,0 -13.2,0zM527.5,231.68a6.6,6.6 0 1,0 13.2,0a6.6,6.6 0 1,0 -13.2,0zM528.58,231.01a6.6,6.6 0 1,0 13.2,0a6.6,6.6 0 1,0 -13.2,0zM529.65,230.32a6.6,6.6 0 1,0 13.2,0a6.6,6.6 0 1,0 -13.2,0zM530.71,229.6a6.6,6.6 0 1,0 13.2,0a6.6,6.6 0 1,0 -13.2,0zM531.77,228.86a6.6,6.6 0 1,0 13.2,0a6.6,6.6 0 1,0 -13.2,0zM532.82,228.11a6.6,6.6 0 1,0 13.2,0a6.6,6.6 0 1,0 -13.2,0zM533.86,227.33a6.6,6.6 0 1,0 13.2,0a6.6,6.6 0 1,0 -13.2,0zM534.89,226.55a6.6,6.6 0 1,0 13.2,0a6.6,6.6 0 1,0 -13.2,0zM535.92,225.76a6.6,6.6 0 1,0 13.2,0a6.6,6.6 0 1,0 -13.2,0zM536.93,224.97a6.6,6.6 0 1,0 13.2,0a6.6,6.6 0 1,0 -13.2,0zM537.94,224.18a6.6,6.6 0 1,0 13.2,0a6.6,6.6 0 1,0 -13.2,0zM538.94,223.42a6.6,6.6 0 1,0 13.2,0a6.6,6.6 0 1,0 -13.2,0zM539.94,222.67a6.6,6.6 0 1,0 13.2,0a6.6,6.6 0 1,0 -13.2,0zM540.93,221.94a6.6,6.6 0 1,0 13.2,0a6.6,6.6 0 1,0 -13.2,0zM541.91,221.24a6.6,6.6 0 1,0 13.2,0a6.6,6.6 0 1,0 -13.2,0zM542.88,220.56a6.6,6.6 0 1,0 13.2,0a6.6,6.6 0 1,0 -13.2,0zM543.85,219.92a6.6,6.6 0 1,0 13.2,0a6.6,6.6 0 1,0 -13.2,0zM544.81,219.3a6.6,6.6 0 1,0 13.2,0a6.6,6.6 0 1,0 -13.2,0zM545.76,218.72a6.6,6.6 0 1,0 13.2,0a6.6,6.6 0 1,0 -13.2,0zM546.71,218.18a6.6,6.6 0 1,0 13.2,0a6.6,6.6 0 1,0 -13.2,0zM547.65,217.67a6.6,6.6 0 1,0 13.2,0a6.6,6.6 0 1,0 -13.2,0zM548.59,217.2a6.6,6.6 0 1,0 13.2,0a6.6,6.6 0 1,0 -13.2,0zM549.51,216.77a6.6,6.6 0 1,0 13.2,0a6.6,6.6 0 1,0 -13.2,0zM550.44,216.37a6.6,6.6 0 1,0 13.2,0a6.6,6.6 0 1,0 -13.2,0zM551.35,216.02a6.6,6.6 0 1,0 13.2,0a6.6,6.6 0 1,0 -13.2,0zM552.26,215.71a6.6,6.6 0 1,0 13.2,0a6.6,6.6 0 1,0 -13.2,0zM553.17,215.43a6.6,6.6 0 1,0 13.2,0a6.6,6.6 0 1,0 -13.2,0zM554.06,215.2a6.6,6.6 0 1,0 13.2,0a6.6,6.6 0 1,0 -13.2,0zM554.96,215.01a6.6,6.6 0 1,0 13.2,0a6.6,6.6 0 1,0 -13.2,0zM555.84,214.85a6.6,6.6 0 1,0 13.2,0a6.6,6.6 0 1,0 -13.2,0zM556.72,214.73a6.6,6.6 0 1,0 13.2,0a6.6,6.6 0 1,0 -13.2,0zM557.6,214.65a6.6,6.6 0 1,0 13.2,0a6.6,6.6 0 1,0 -13.2,0zM558.47,214.61a6.6,6.6 0 1,0 13.2,0a6.6,6.6 0 1,0 -13.2,0zM559.33,214.59a6.6,6.6 0 1,0 13.2,0a6.6,6.6 0 1,0 -13.2,0zM560.19,214.61a6.6,6.6 0 1,0 13.2,0a6.6,6.6 0 1,0 -13.2,0zM561.04,214.65a6.6,6.6 0 1,0 13.2,0a6.6,6.6 0 1,0 -13.2,0zM561.89,214.72a6.6,6.6 0 1,0 13.2,0a6.6,6.6 0 1,0 -13.2,0zM562.74,214.81a6.6,6.6 0 1,0 13.2,0a6.6,6.6 0 1,0 -13.2,0zM563.57,214.93a6.6,6.6 0 1,0 13.2,0a6.6,6.6 0 1,0 -13.2,0zM564.41,215.07a6.6,6.6 0 1,0 13.2,0a6.6,6.6 0 1,0 -13.2,0zM565.23,215.23a6.6,6.6 0 1,0 13.2,0a6.6,6.6 0 1,0 -13.2,0zM566.06,215.41a6.6,6.6 0 1,0 13.2,0a6.6,6.6 0 1,0 -13.2,0zM566.88,215.61a6.6,6.6 0 1,0 13.2,0a6.6,6.6 0 1,0 -13.2,0zM567.69,215.82a6.6,6.6 0 1,0 13.2,0a6.6,6.6 0 1,0 -13.2,0zM568.5,216.05a6.6,6.6 0 1,0 13.2,0a6.6,6.6 0 1,0 -13.2,0zM569.3,216.29a6.6,6.6 0 1,0 13.2,0a6.6,6.6 0 1,0 -13.2,0zM570.1,216.53a6.6,6.6 0 1,0 13.2,0a6.6,6.6 0 1,0 -13.2,0zM570.89,216.79a6.6,6.6 0 1,0 13.2,0a6.6,6.6 0 1,0 -13.2,0zM571.68,217.05a6.6,6.6 0 1,0 13.2,0a6.6,6.6 0 1,0 -13.2,0zM572.47,217.32a6.6,6.6 0 1,0 13.2,0a6.6,6.6 0 1,0 -13.2,0zM573.25,217.59a6.6,6.6 0 1,0 13.2,0a6.6,6.6 0 1,0 -13.2,0zM574.03,217.86a6.6,6.6 0 1,0 13.2,0a6.6,6.6 0 1,0 -13.2,0zM574.8,218.12a6.6,6.6 0 1,0 13.2,0a6.6,6.6 0 1,0 -13.2,0zM575.57,218.38a6.6,6.6 0 1,0 13.2,0a6.6,6.6 0 1,0 -13.2,0zM576.33,218.64a6.6,6.6 0 1,0 13.2,0a6.6,6.6 0 1,0 -13.2,0zM577.09,218.88a6.6,6.6 0 1,0 13.2,0a6.6,6.6 0 1,0 -13.2,0zM577.85,219.12a6.6,6.6 0 1,0 13.2,0a6.6,6.6 0 1,0 -13.2,0zM578.6,219.35a6.6,6.6 0 1,0 13.2,0a6.6,6.6 0 1,0 -13.2,0zM579.34,219.56a6.6,6.6 0 1,0 13.2,0a6.6,6.6 0 1,0 -13.2,0zM580.09,219.76a6.6,6.6 0 1,0 13.2,0a6.6,6.6 0 1,0 -13.2,0zM580.83,219.95a6.6,6.6 0 1,0 13.2,0a6.6,6.6 0 1,0 -13.2,0zM581.56,220.12a6.6,6.6 0 1,0 13.2,0a6.6,6.6 0 1,0 -13.2,0zM582.29,220.27a6.6,6.6 0 1,0 13.2,0a6.6,6.6 0 1,0 -13.2,0zM583.02,220.41a6.6,6.6 0 1,0 13.2,0a6.6,6.6 0 1,0 -13.2,0zM583.74,220.53a6.6,6.6 0 1,0 13.2,0a6.6,6.6 0 1,0 -13.2,0zM584.46,220.63a6.6,6.6 0 1,0 13.2,0a6.6,6.6 0 1,0 -13.2,0zM585.18,220.71a6.6,6.6 0 1,0 13.2,0a6.6,6.6 0 1,0 -13.2,0zM585.89,220.78a6.6,6.6 0 1,0 13.2,0a6.6,6.6 0 1,0 -13.2,0zM586.6,220.82a6.6,6.6 0 1,0 13.2,0a6.6,6.6 0 1,0 -13.2,0zM587.31,220.85a6.6,6.6 0 1,0 13.2,0a6.6,6.6 0 1,0 -13.2,0zM588.01,220.86a6.6,6.6 0 1,0 13.2,0a6.6,6.6 0 1,0 -13.2,0zM588.7,220.84a6.6,6.6 0 1,0 13.2,0a6.6,6.6 0 1,0 -13.2,0zM589.4,220.8a6.6,6.6 0 1,0 13.2,0a6.6,6.6 0 1,0 -13.2,0zM590.09,220.74a6.6,6.6 0 1,0 13.2,0a6.6,6.6 0 1,0 -13.2,0zM590.78,220.66a6.6,6.6 0 1,0 13.2,0a6.6,6.6 0 1,0 -13.2,0zM591.46,220.55a6.6,6.6 0 1,0 13.2,0a6.6,6.6 0 1,0 -13.2,0zM592.14,220.43a6.6,6.6 0 1,0 13.2,0a6.6,6.6 0 1,0 -13.2,0zM592.82,220.28a6.6,6.6 0 1,0 13.2,0a6.6,6.6 0 1,0 -13.2,0zM593.49,220.12a6.6,6.6 0 1,0 13.2,0a6.6,6.6 0 1,0 -13.2,0zM594.16,219.94a6.6,6.6 0 1,0 13.2,0a6.6,6.6 0 1,0 -13.2,0zM594.83,219.74a6.6,6.6 0 1,0 13.2,0a6.6,6.6 0 1,0 -13.2,0zM595.5,219.53a6.6,6.6 0 1,0 13.2,0a6.6,6.6 0 1,0 -13.2,0zM596.16,219.3a6.6,6.6 0 1,0 13.2,0a6.6,6.6 0 1,0 -13.2,0zM596.82,219.07a6.6,6.6 0 1,0 13.2,0a6.6,6.6 0 1,0 -13.2,0zM597.47,218.82a6.6,6.6 0 1,0 13.2,0a6.6,6.6 0 1,0 -13.2,0zM598.12,218.56a6.6,6.6 0 1,0 13.2,0a6.6,6.6 0 1,0 -13.2,0zM598.77,218.29a6.6,6.6 0 1,0 13.2,0a6.6,6.6 0 1,0 -13.2,0zM599.42,218.02a6.6,6.6 0 1,0 13.2,0a6.6,6.6 0 1,0 -13.2,0zM600.06,217.75a6.6,6.6 0 1,0 13.2,0a6.6,6.6 0 1,0 -13.2,0zM600.7,217.47a6.6,6.6 0 1,0 13.2,0a6.6,6.6 0 1,0 -13.2,0zM601.34,217.19a6.6,6.6 0 1,0 13.2,0a6.6,6.6 0 1,0 -13.2,0zM601.97,216.91a6.6,6.6 0 1,0 13.2,0a6.6,6.6 0 1,0 -13.2,0zM602.6,216.63a6.6,6.6 0 1,0 13.2,0a6.6,6.6 0 1,0 -13.2,0zM603.23,216.36a6.6,6.6 0 1,0 13.2,0a6.6,6.6 0 1,0 -13.2,0zM603.85,216.09a6.6,6.6 0 1,0 13.2,0a6.6,6.6 0 1,0 -13.2,0zM604.48,215.82a6.6,6.6 0 1,0 13.2,0a6.6,6.6 0 1,0 -13.2,0zM605.1,215.57a6.6,6.6 0 1,0 13.2,0a6.6,6.6 0 1,0 -13.2,0zM605.71,215.32a6.6,6.6 0 1,0 13.2,0a6.6,6.6 0 1,0 -13.2,0zM606.33,215.09a6.6,6.6 0 1,0 13.2,0a6.6,6.6 0 1,0 -13.2,0zM606.94,214.86a6.6,6.6 0 1,0 13.2,0a6.6,6.6 0 1,0 -13.2,0zM607.55,214.65a6.6,6.6 0 1,0 13.2,0a6.6,6.6 0 1,0 -13.2,0zM608.15,214.45a6.6,6.6 0 1,0 13.2,0a6.6,6.6 0 1,0 -13.2,0zM608.76,214.26a6.6,6.6 0 1,0 13.2,0a6.6,6.6 0 1,0 -13.2,0zM609.36,214.09a6.6,6.6 0 1,0 13.2,0a6.6,6.6 0 1,0 -13.2,0zM609.95,213.94a6.6,6.6 0 1,0 13.2,0a6.6,6.6 0 1,0 -13.2,0zM610.55,213.8a6.6,6.6 0 1,0 13.2,0a6.6,6.6 0 1,0 -13.2,0zM611.14,213.68a6.6,6.6 0 1,0 13.2,0a6.6,6.6 0 1,0 -13.2,0zM611.73,213.57a6.6,6.6 0 1,0 13.2,0a6.6,6.6 0 1,0 -13.2,0zM612.32,213.48a6.6,6.6 0 1,0 13.2,0a6.6,6.6 0 1,0 -13.2,0zM612.91,213.41a6.6,6.6 0 1,0 13.2,0a6.6,6.6 0 1,0 -13.2,0zM613.49,213.35a6.6,6.6 0 1,0 13.2,0a6.6,6.6 0 1,0 -13.2,0zM614.07,213.31a6.6,6.6 0 1,0 13.2,0a6.6,6.6 0 1,0 -13.2,0zM614.65,213.29a6.6,6.6 0 1,0 13.2,0a6.6,6.6 0 1,0 -13.2,0zM615.22,213.28a6.6,6.6 0 1,0 13.2,0a6.6,6.6 0 1,0 -13.2,0zM615.8,213.29a6.6,6.6 0 1,0 13.2,0a6.6,6.6 0 1,0 -13.2,0zM616.37,213.32a6.6,6.6 0 1,0 13.2,0a6.6,6.6 0 1,0 -13.2,0zM616.94,213.35a6.6,6.6 0 1,0 13.2,0a6.6,6.6 0 1,0 -13.2,0zM617.5,213.4a6.6,6.6 0 1,0 13.2,0a6.6,6.6 0 1,0 -13.2,0zM618.07,213.47a6.6,6.6 0 1,0 13.2,0a6.6,6.6 0 1,0 -13.2,0zM618.63,213.54a6.6,6.6 0 1,0 13.2,0a6.6,6.6 0 1,0 -13.2,0zM619.19,213.63a6.6,6.6 0 1,0 13.2,0a6.6,6.6 0 1,0 -13.2,0zM619.74,213.73a6.6,6.6 0 1,0 13.2,0a6.6,6.6 0 1,0 -13.2,0zM620.3,213.83a6.6,6.6 0 1,0 13.2,0a6.6,6.6 0 1,0 -13.2,0zM620.85,213.95a6.6,6.6 0 1,0 13.2,0a6.6,6.6 0 1,0 -13.2,0zM621.4,214.08a6.6,6.6 0 1,0 13.2,0a6.6,6.6 0 1,0 -13.2,0zM621.95,214.21a6.6,6.6 0 1,0 13.2,0a6.6,6.6 0 1,0 -13.2,0zM622.49,214.35a6.6,6.6 0 1,0 13.2,0a6.6,6.6 0 1,0 -13.2,0zM623.04,214.49a6.6,6.6 0 1,0 13.2,0a6.6,6.6 0 1,0 -13.2,0zM623.58,214.63a6.6,6.6 0 1,0 13.2,0a6.6,6.6 0 1,0 -13.2,0zM624.12,214.78a6.6,6.6 0 1,0 13.2,0a6.6,6.6 0 1,0 -13.2,0zM624.66,214.93a6.6,6.6 0 1,0 13.2,0a6.6,6.6 0 1,0 -13.2,0zM625.19,215.09a6.6,6.6 0 1,0 13.2,0a6.6,6.6 0 1,0 -13.2,0zM625.73,215.24a6.6,6.6 0 1,0 13.2,0a6.6,6.6 0 1,0 -13.2,0zM626.26,215.39a6.6,6.6 0 1,0 13.2,0a6.6,6.6 0 1,0 -13.2,0zM626.79,215.53a6.6,6.6 0 1,0 13.2,0a6.6,6.6 0 1,0 -13.2,0zM627.31,215.68a6.6,6.6 0 1,0 13.2,0a6.6,6.6 0 1,0 -13.2,0zM627.84,215.81a6.6,6.6 0 1,0 13.2,0a6.6,6.6 0 1,0 -13.2,0zM628.36,215.95a6.6,6.6 0 1,0 13.2,0a6.6,6.6 0 1,0 -13.2,0zM628.88,216.07a6.6,6.6 0 1,0 13.2,0a6.6,6.6 0 1,0 -13.2,0zM629.4,216.19a6.6,6.6 0 1,0 13.2,0a6.6,6.6 0 1,0 -13.2,0zM629.92,216.3a6.6,6.6 0 1,0 13.2,0a6.6,6.6 0 1,0 -13.2,0zM630.43,216.41a6.6,6.6 0 1,0 13.2,0a6.6,6.6 0 1,0 -13.2,0zM630.95,216.5a6.6,6.6 0 1,0 13.2,0a6.6,6.6 0 1,0 -13.2,0zM631.46,216.58a6.6,6.6 0 1,0 13.2,0a6.6,6.6 0 1,0 -13.2,0zM631.97,216.66a6.6,6.6 0 1,0 13.2,0a6.6,6.6 0 1,0 -13.2,0zM632.48,216.72a6.6,6.6 0 1,0 13.2,0a6.6,6.6 0 1,0 -13.2,0zM632.98,216.77a6.6,6.6 0 1,0 13.2,0a6.6,6.6 0 1,0 -13.2,0zM633.49,216.81a6.6,6.6 0 1,0 13.2,0a6.6,6.6 0 1,0 -13.2,0zM633.99,216.84a6.6,6.6 0 1,0 13.2,0a6.6,6.6 0 1,0 -13.2,0zM634.49,216.86a6.6,6.6 0 1,0 13.2,0a6.6,6.6 0 1,0 -13.2,0zM634.99,216.87a6.6,6.6 0 1,0 13.2,0a6.6,6.6 0 1,0 -13.2,0zM635.48,216.86a6.6,6.6 0 1,0 13.2,0a6.6,6.6 0 1,0 -13.2,0zM635.98,216.85a6.6,6.6 0 1,0 13.2,0a6.6,6.6 0 1,0 -13.2,0zM636.47,216.82a6.6,6.6 0 1,0 13.2,0a6.6,6.6 0 1,0 -13.2,0zM636.96,216.78a6.6,6.6 0 1,0 13.2,0a6.6,6.6 0 1,0 -13.2,0zM637.45,216.73a6.6,6.6 0 1,0 13.2,0a6.6,6.6 0 1,0 -13.2,0zM637.94,216.67a6.6,6.6 0 1,0 13.2,0a6.6,6.6 0 1,0 -13.2,0zM638.43,216.6a6.6,6.6 0 1,0 13.2,0a6.6,6.6 0 1,0 -13.2,0zM638.91,216.51a6.6,6.6 0 1,0 13.2,0a6.6,6.6 0 1,0 -13.2,0zM639.4,216.41a6.6,6.6 0 1,0 13.2,0a6.6,6.6 0 1,0 -13.2,0zM639.88,216.31a6.6,6.6 0 1,0 13.2,0a6.6,6.6 0 1,0 -13.2,0zM640.36,216.19a6.6,6.6 0 1,0 13.2,0a6.6,6.6 0 1,0 -13.2,0zM640.83,216.06a6.6,6.6 0 1,0 13.2,0a6.6,6.6 0 1,0 -13.2,0zM641.31,215.93a6.6,6.6 0 1,0 13.2,0a6.6,6.6 0 1,0 -13.2,0zM641.79,215.79a6.6,6.6 0 1,0 13.2,0a6.6,6.6 0 1,0 -13.2,0zM642.26,215.65a6.6,6.6 0 1,0 13.2,0a6.6,6.6 0 1,0 -13.2,0zM642.73,215.5a6.6,6.6 0 1,0 13.2,0a6.6,6.6 0 1,0 -13.2,0zM643.2,215.34a6.6,6.6 0 1,0 13.2,0a6.6,6.6 0 1,0 -13.2,0zM643.67,215.18a6.6,6.6 0 1,0 13.2,0a6.6,6.6 0 1,0 -13.2,0zM644.13,215.02a6.6,6.6 0 1,0 13.2,0a6.6,6.6 0 1,0 -13.2,0zM644.6,214.86a6.6,6.6 0 1,0 13.2,0a6.6,6.6 0 1,0 -13.2,0zM645.06,214.7a6.6,6.6 0 1,0 13.2,0a6.6,6.6 0 1,0 -13.2,0zM645.52,214.53a6.6,6.6 0 1,0 13.2,0a6.6,6.6 0 1,0 -13.2,0zM645.98,214.37a6.6,6.6 0 1,0 13.2,0a6.6,6.6 0 1,0 -13.2,0zM646.44,214.21a6.6,6.6 0 1,0 13.2,0a6.6,6.6 0 1,0 -13.2,0zM646.9,214.06a6.6,6.6 0 1,0 13.2,0a6.6,6.6 0 1,0 -13.2,0zM647.36,213.91a6.6,6.6 0 1,0 13.2,0a6.6,6.6 0 1,0 -13.2,0zM647.81,213.76a6.6,6.6 0 1,0 13.2,0a6.6,6.6 0 1,0 -13.2,0zM648.26,213.62a6.6,6.6 0 1,0 13.2,0a6.6,6.6 0 1,0 -13.2,0zM648.71,213.48a6.6,6.6 0 1,0 13.2,0a6.6,6.6 0 1,0 -13.2,0zM649.16,213.35a6.6,6.6 0 1,0 13.2,0a6.6,6.6 0 1,0 -13.2,0zM649.61,213.23a6.6,6.6 0 1,0 13.2,0a6.6,6.6 0 1,0 -13.2,0zM650.06,213.12a6.6,6.6 0 1,0 13.2,0a6.6,6.6 0 1,0 -13.2,0zM650.5,213.01a6.6,6.6 0 1,0 13.2,0a6.6,6.6 0 1,0 -13.2,0zM650.95,212.91a6.6,6.6 0 1,0 13.2,0a6.6,6.6 0 1,0 -13.2,0zM651.39,212.83a6.6,6.6 0 1,0 13.2,0a6.6,6.6 0 1,0 -13.2,0zM651.83,212.75a6.6,6.6 0 1,0 13.2,0a6.6,6.6 0 1,0 -13.2,0zM652.27,212.68a6.6,6.6 0 1,0 13.2,0a6.6,6.6 0 1,0 -13.2,0zM652.71,212.63a6.6,6.6 0 1,0 13.2,0a6.6,6.6 0 1,0 -13.2,0zM653.15,212.58a6.6,6.6 0 1,0 13.2,0a6.6,6.6 0 1,0 -13.2,0zM653.58,212.54a6.6,6.6 0 1,0 13.2,0a6.6,6.6 0 1,0 -13.2,0zM654.02,212.52a6.6,6.6 0 1,0 13.2,0a6.6,6.6 0 1,0 -13.2,0zM654.45,212.5a6.6,6.6 0 1,0 13.2,0a6.6,6.6 0 1,0 -13.2,0zM654.88,212.5a6.6,6.6 0 1,0 13.2,0a6.6,6.6 0 1,0 -13.2,0zM655.31,212.51a6.6,6.6 0 1,0 13.2,0a6.6,6.6 0 1,0 -13.2,0zM655.74,212.52a6.6,6.6 0 1,0 13.2,0a6.6,6.6 0 1,0 -13.2,0zM656.17,212.55a6.6,6.6 0 1,0 13.2,0a6.6,6.6 0 1,0 -13.2,0zM656.59,212.58a6.6,6.6 0 1,0 13.2,0a6.6,6.6 0 1,0 -13.2,0zM657.02,212.63a6.6,6.6 0 1,0 13.2,0a6.6,6.6 0 1,0 -13.2,0zM657.44,212.68a6.6,6.6 0 1,0 13.2,0a6.6,6.6 0 1,0 -13.2,0zM657.86,212.74a6.6,6.6 0 1,0 13.2,0a6.6,6.6 0 1,0 -13.2,0zM658.29,212.81a6.6,6.6 0 1,0 13.2,0a6.6,6.6 0 1,0 -13.2,0zM658.71,212.88a6.6,6.6 0 1,0 13.2,0a6.6,6.6 0 1,0 -13.2,0zM659.12,212.96a6.6,6.6 0 1,0 13.2,0a6.6,6.6 0 1,0 -13.2,0zM659.54,213.05a6.6,6.6 0 1,0 13.2,0a6.6,6.6 0 1,0 -13.2,0zM659.96,213.14a6.6,6.6 0 1,0 13.2,0a6.6,6.6 0 1,0 -13.2,0zM660.37,213.24a6.6,6.6 0 1,0 13.2,0a6.6,6.6 0 1,0 -13.2,0zM660.78,213.34a6.6,6.6 0 1,0 13.2,0a6.6,6.6 0 1,0 -13.2,0zM661.2,213.44a6.6,6.6 0 1,0 13.2,0a6.6,6.6 0 1,0 -13.2,0zM661.61,213.54a6.6,6.6 0 1,0 13.2,0a6.6,6.6 0 1,0 -13.2,0zM662.02,213.65a6.6,6.6 0 1,0 13.2,0a6.6,6.6 0 1,0 -13.2,0zM662.43,213.76a6.6,6.6 0 1,0 13.2,0a6.6,6.6 0 1,0 -13.2,0zM662.83,213.87a6.6,6.6 0 1,0 13.2,0a6.6,6.6 0 1,0 -13.2,0zM663.24,213.97a6.6,6.6 0 1,0 13.2,0a6.6,6.6 0 1,0 -13.2,0zM663.64,214.08a6.6,6.6 0 1,0 13.2,0a6.6,6.6 0 1,0 -13.2,0zM664.05,214.18a6.6,6.6 0 1,0 13.2,0a6.6,6.6 0 1,0 -13.2,0zM664.45,214.28a6.6,6.6 0 1,0 13.2,0a6.6,6.6 0 1,0 -13.2,0zM664.85,214.38a6.6,6.6 0 1,0 13.2,0a6.6,6.6 0 1,0 -13.2,0zM665.25,214.47a6.6,6.6 0 1,0 13.2,0a6.6,6.6 0 1,0 -13.2,0zM665.65,214.56a6.6,6.6 0 1,0 13.2,0a6.6,6.6 0 1,0 -13.2,0zM666.05,214.65a6.6,6.6 0 1,0 13.2,0a6.6,6.6 0 1,0 -13.2,0zM666.45,214.73a6.6,6.6 0 1,0 13.2,0a6.6,6.6 0 1,0 -13.2,0zM666.84,214.8a6.6,6.6 0 1,0 13.2,0a6.6,6.6 0 1,0 -13.2,0zM667.24,214.87a6.6,6.6 0 1,0 13.2,0a6.6,6.6 0 1,0 -13.2,0zM667.63,214.93a6.6,6.6 0 1,0 13.2,0a6.6,6.6 0 1,0 -13.2,0zM668.02,214.98a6.6,6.6 0 1,0 13.2,0a6.6,6.6 0 1,0 -13.2,0zM668.41,215.02a6.6,6.6 0 1,0 13.2,0a6.6,6.6 0 1,0 -13.2,0zM668.8,215.06a6.6,6.6 0 1,0 13.2,0a6.6,6.6 0 1,0 -13.2,0zM669.19,215.09a6.6,6.6 0 1,0 13.2,0a6.6,6.6 0 1,0 -13.2,0zM669.58,215.11a6.6,6.6 0 1,0 13.2,0a6.6,6.6 0 1,0 -13.2,0zM669.97,215.12a6.6,6.6 0 1,0 13.2,0a6.6,6.6 0 1,0 -13.2,0zM670.35,215.13a6.6,6.6 0 1,0 13.2,0a6.6,6.6 0 1,0 -13.2,0zM670.74,215.13a6.6,6.6 0 1,0 13.2,0a6.6,6.6 0 1,0 -13.2,0zM671.12,215.11a6.6,6.6 0 1,0 13.2,0a6.6,6.6 0 1,0 -13.2,0zM671.5,215.1a6.6,6.6 0 1,0 13.2,0a6.6,6.6 0 1,0 -13.2,0zM671.88,215.07a6.6,6.6 0 1,0 13.2,0a6.6,6.6 0 1,0 -13.2,0zM672.26,215.03a6.6,6.6 0 1,0 13.2,0a6.6,6.6 0 1,0 -13.2,0zM672.64,214.99a6.6,6.6 0 1,0 13.2,0a6.6,6.6 0 1,0 -13.2,0zM673.02,214.94a6.6,6.6 0 1,0 13.2,0a6.6,6.6 0 1,0 -13.2,0zM673.4,214.89a6.6,6.6 0 1,0 13.2,0a6.6,6.6 0 1,0 -13.2,0zM673.77,214.83a6.6,6.6 0 1,0 13.2,0a6.6,6.6 0 1,0 -13.2,0zM674.15,214.76a6.6,6.6 0 1,0 13.2,0a6.6,6.6 0 1,0 -13.2,0zM674.52,214.69a6.6,6.6 0 1,0 13.2,0a6.6,6.6 0 1,0 -13.2,0zM674.9,214.61a6.6,6.6 0 1,0 13.2,0a6.6,6.6 0 1,0 -13.2,0zM675.27,214.53a6.6,6.6 0 1,0 13.2,0a6.6,6.6 0 1,0 -13.2,0zM675.64,214.44a6.6,6.6 0 1,0 13.2,0a6.6,6.6 0 1,0 -13.2,0zM676.01,214.35a6.6,6.6 0 1,0 13.2,0a6.6,6.6 0 1,0 -13.2,0zM676.38,214.26a6.6,6.6 0 1,0 13.2,0a6.6,6.6 0 1,0 -13.2,0zM676.75,214.16a6.6,6.6 0 1,0 13.2,0a6.6,6.6 0 1,0 -13.2,0zM677.11,214.06a6.6,6.6 0 1,0 13.2,0a6.6,6.6 0 1,0 -13.2,0zM677.48,213.96a6.6,6.6 0 1,0 13.2,0a6.6,6.6 0 1,0 -13.2,0zM677.85,213.87a6.6,6.6 0 1,0 13.2,0a6.6,6.6 0 1,0 -13.2,0zM678.21,213.77a6.6,6.6 0 1,0 13.2,0a6.6,6.6 0 1,0 -13.2,0zM678.57,213.67a6.6,6.6 0 1,0 13.2,0a6.6,6.6 0 1,0 -13.2,0zM678.94,213.57a6.6,6.6 0 1,0 13.2,0a6.6,6.6 0 1,0 -13.2,0zM679.3,213.47a6.6,6.6 0 1,0 13.2,0a6.6,6.6 0 1,0 -13.2,0zM679.66,213.38a6.6,6.6 0 1,0 13.2,0a6.6,6.6 0 1,0 -13.2,0zM680.02,213.29a6.6,6.6 0 1,0 13.2,0a6.6,6.6 0 1,0 -13.2,0zM680.38,213.2a6.6,6.6 0 1,0 13.2,0a6.6,6.6 0 1,0 -13.2,0zM680.73,213.12a6.6,6.6 0 1,0 13.2,0a6.6,6.6 0 1,0 -13.2,0zM681.09,213.04a6.6,6.6 0 1,0 13.2,0a6.6,6.6 0 1,0 -13.2,0zM681.45,212.96a6.6,6.6 0 1,0 13.2,0a6.6,6.6 0 1,0 -13.2,0zM681.8,212.89a6.6,6.6 0 1,0 13.2,0a6.6,6.6 0 1,0 -13.2,0zM682.15,212.82a6.6,6.6 0 1,0 13.2,0a6.6,6.6 0 1,0 -13.2,0zM682.51,212.76a6.6,6.6 0 1,0 13.2,0a6.6,6.6 0 1,0 -13.2,0zM682.86,212.71a6.6,6.6 0 1,0 13.2,0a6.6,6.6 0 1,0 -13.2,0zM683.21,212.66a6.6,6.6 0 1,0 13.2,0a6.6,6.6 0 1,0 -13.2,0zM683.56,212.62a6.6,6.6 0 1,0 13.2,0a6.6,6.6 0 1,0 -13.2,0zM683.91,212.58a6.6,6.6 0 1,0 13.2,0a6.6,6.6 0 1,0 -13.2,0zM684.26,212.55a6.6,6.6 0 1,0 13.2,0a6.6,6.6 0 1,0 -13.2,0zM684.61,212.53a6.6,6.6 0 1,0 13.2,0a6.6,6.6 0 1,0 -13.2,0zM684.95,212.51a6.6,6.6 0 1,0 13.2,0a6.6,6.6 0 1,0 -13.2,0zM685.3,212.5a6.6,6.6 0 1,0 13.2,0a6.6,6.6 0 1,0 -13.2,0zM685.65,212.5a6.6,6.6 0 1,0 13.2,0a6.6,6.6 0 1,0 -13.2,0zM685.99,212.5a6.6,6.6 0 1,0 13.2,0a6.6,6.6 0 1,0 -13.2,0zM686.33,212.51a6.6,6.6 0 1,0 13.2,0a6.6,6.6 0 1,0 -13.2,0zM686.68,212.53a6.6,6.6 0 1,0 13.2,0a6.6,6.6 0 1,0 -13.2,0zM687.02,212.55a6.6,6.6 0 1,0 13.2,0a6.6,6.6 0 1,0 -13.2,0zM687.36,212.58a6.6,6.6 0 1,0 13.2,0a6.6,6.6 0 1,0 -13.2,0zM687.7,212.61a6.6,6.6 0 1,0 13.2,0a6.6,6.6 0 1,0 -13.2,0zM688.04,212.65a6.6,6.6 0 1,0 13.2,0a6.6,6.6 0 1,0 -13.2,0zM688.38,212.7a6.6,6.6 0 1,0 13.2,0a6.6,6.6 0 1,0 -13.2,0zM688.71,212.75a6.6,6.6 0 1,0 13.2,0a6.6,6.6 0 1,0 -13.2,0zM689.05,212.8a6.6,6.6 0 1,0 13.2,0a6.6,6.6 0 1,0 -13.2,0zM689.39,212.86a6.6,6.6 0 1,0 13.2,0a6.6,6.6 0 1,0 -13.2,0zM689.72,212.92a6.6,6.6 0 1,0 13.2,0a6.6,6.6 0 1,0 -13.2,0zM690.05,212.98a6.6,6.6 0 1,0 13.2,0a6.6,6.6 0 1,0 -13.2,0zM690.39,213.04a6.6,6.6 0 1,0 13.2,0a6.6,6.6 0 1,0 -13.2,0zM690.72,213.11a6.6,6.6 0 1,0 13.2,0a6.6,6.6 0 1,0 -13.2,0zM691.05,213.18a6.6,6.6 0 1,0 13.2,0a6.6,6.6 0 1,0 -13.2,0zM691.38,213.25a6.6,6.6 0 1,0 13.2,0a6.6,6.6 0 1,0 -13.2,0zM691.71,213.32a6.6,6.6 0 1,0 13.2,0a6.6,6.6 0 1,0 -13.2,0zM692.04,213.39a6.6,6.6 0 1,0 13.2,0a6.6,6.6 0 1,0 -13.2,0zM692.37,213.47a6.6,6.6 0 1,0 13.2,0a6.6,6.6 0 1,0 -13.2,0zM692.7,213.54a6.6,6.6 0 1,0 13.2,0a6.6,6.6 0 1,0 -13.2,0zM693.03,213.61a6.6,6.6 0 1,0 13.2,0a6.6,6.6 0 1,0 -13.2,0zM693.35,213.67a6.6,6.6 0 1,0 13.2,0a6.6,6.6 0 1,0 -13.2,0zM693.68,213.74a6.6,6.6 0 1,0 13.2,0a6.6,6.6 0 1,0 -13.2,0zM694,213.8a6.6,6.6 0 1,0 13.2,0a6.6,6.6 0 1,0 -13.2,0zM694.33,213.86a6.6,6.6 0 1,0 13.2,0a6.6,6.6 0 1,0 -13.2,0zM694.65,213.92a6.6,6.6 0 1,0 13.2,0a6.6,6.6 0 1,0 -13.2,0zM694.97,213.97a6.6,6.6 0 1,0 13.2,0a6.6,6.6 0 1,0 -13.2,0zM695.29,214.02a6.6,6.6 0 1,0 13.2,0a6.6,6.6 0 1,0 -13.2,0zM695.62,214.07a6.6,6.6 0 1,0 13.2,0a6.6,6.6 0 1,0 -13.2,0zM695.94,214.11a6.6,6.6 0 1,0 13.2,0a6.6,6.6 0 1,0 -13.2,0zM696.26,214.15a6.6,6.6 0 1,0 13.2,0a6.6,6.6 0 1,0 -13.2,0zM696.57,214.18a6.6,6.6 0 1,0 13.2,0a6.6,6.6 0 1,0 -13.2,0zM696.89,214.2a6.6,6.6 0 1,0 13.2,0a6.6,6.6 0 1,0 -13.2,0zM697.21,214.22a6.6,6.6 0 1,0 13.2,0a6.6,6.6 0 1,0 -13.2,0zM697.53,214.24a6.6,6.6 0 1,0 13.2,0a6.6,6.6 0 1,0 -13.2,0zM697.84,214.25a6.6,6.6 0 1,0 13.2,0a6.6,6.6 0 1,0 -13.2,0zM698.16,214.26a6.6,6.6 0 1,0 13.2,0a6.6,6.6 0 1,0 -13.2,0zM698.47,214.26a6.6,6.6 0 1,0 13.2,0a6.6,6.6 0 1,0 -13.2,0zM698.79,214.25a6.6,6.6 0 1,0 13.2,0a6.6,6.6 0 1,0 -13.2,0zM699.1,214.24a6.6,6.6 0 1,0 13.2,0a6.6,6.6 0 1,0 -13.2,0zM699.41,214.22a6.6,6.6 0 1,0 13.2,0a6.6,6.6 0 1,0 -13.2,0zM699.72,214.2a6.6,6.6 0 1,0 13.2,0a6.6,6.6 0 1,0 -13.2,0zM700.03,214.18a6.6,6.6 0 1,0 13.2,0a6.6,6.6 0 1,0 -13.2,0zM700.34,214.14a6.6,6.6 0 1,0 13.2,0a6.6,6.6 0 1,0 -13.2,0zM700.65,214.11a6.6,6.6 0 1,0 13.2,0a6.6,6.6 0 1,0 -13.2,0zM700.96,214.07a6.6,6.6 0 1,0 13.2,0a6.6,6.6 0 1,0 -13.2,0zM701.27,214.02a6.6,6.6 0 1,0 13.2,0a6.6,6.6 0 1,0 -13.2,0zM701.58,213.98a6.6,6.6 0 1,0 13.2,0a6.6,6.6 0 1,0 -13.2,0zM701.88,213.93a6.6,6.6 0 1,0 13.2,0a6.6,6.6 0 1,0 -13.2,0zM702.19,213.87a6.6,6.6 0 1,0 13.2,0a6.6,6.6 0 1,0 -13.2,0zM702.49,213.81a6.6,6.6 0 1,0 13.2,0a6.6,6.6 0 1,0 -13.2,0zM702.8,213.75a6.6,6.6 0 1,0 13.2,0a6.6,6.6 0 1,0 -13.2,0zM703.1,213.69a6.6,6.6 0 1,0 13.2,0a6.6,6.6 0 1,0 -13.2,0zM703.41,213.63a6.6,6.6 0 1,0 13.2,0a6.6,6.6 0 1,0 -13.2,0zM703.71,213.56a6.6,6.6 0 1,0 13.2,0a6.6,6.6 0 1,0 -13.2,0zM704.01,213.5a6.6,6.6 0 1,0 13.2,0a6.6,6.6 0 1,0 -13.2,0zM704.31,213.43a6.6,6.6 0 1,0 13.2,0a6.6,6.6 0 1,0 -13.2,0zM704.61,213.36a6.6,6.6 0 1,0 13.2,0a6.6,6.6 0 1,0 -13.2,0zM704.91,213.3a6.6,6.6 0 1,0 13.2,0a6.6,6.6 0 1,0 -13.2,0zM705.21,213.23a6.6,6.6 0 1,0 13.2,0a6.6,6.6 0 1,0 -13.2,0zM705.51,213.17a6.6,6.6 0 1,0 13.2,0a6.6,6.6 0 1,0 -13.2,0zM705.81,213.1a6.6,6.6 0 1,0 13.2,0a6.6,6.6 0 1,0 -13.2,0zM706.11,213.04a6.6,6.6 0 1,0 13.2,0a6.6,6.6 0 1,0 -13.2,0zM706.4,212.98a6.6,6.6 0 1,0 13.2,0a6.6,6.6 0 1,0 -13.2,0zM706.7,212.92a6.6,6.6 0 1,0 13.2,0a6.6,6.6 0 1,0 -13.2,0zM707,212.87a6.6,6.6 0 1,0 13.2,0a6.6,6.6 0 1,0 -13.2,0zM707.29,212.82a6.6,6.6 0 1,0 13.2,0a6.6,6.6 0 1,0 -13.2,0zM707.59,212.77a6.6,6.6 0 1,0 13.2,0a6.6,6.6 0 1,0 -13.2,0zM707.88,212.72a6.6,6.6 0 1,0 13.2,0a6.6,6.6 0 1,0 -13.2,0zM708.17,212.68a6.6,6.6 0 1,0 13.2,0a6.6,6.6 0 1,0 -13.2,0zM708.46,212.64a6.6,6.6 0 1,0 13.2,0a6.6,6.6 0 1,0 -13.2,0zM708.76,212.61a6.6,6.6 0 1,0 13.2,0a6.6,6.6 0 1,0 -13.2,0zM709.05,212.58a6.6,6.6 0 1,0 13.2,0a6.6,6.6 0 1,0 -13.2,0zM709.34,212.56a6.6,6.6 0 1,0 13.2,0a6.6,6.6 0 1,0 -13.2,0zM709.63,212.54a6.6,6.6 0 1,0 13.2,0a6.6,6.6 0 1,0 -13.2,0zM709.92,212.52a6.6,6.6 0 1,0 13.2,0a6.6,6.6 0 1,0 -13.2,0zM710.21,212.51a6.6,6.6 0 1,0 13.2,0a6.6,6.6 0 1,0 -13.2,0zM710.49,212.5a6.6,6.6 0 1,0 13.2,0a6.6,6.6 0 1,0 -13.2,0zM710.78,212.5a6.6,6.6 0 1,0 13.2,0a6.6,6.6 0 1,0 -13.2,0zM711.07,212.5a6.6,6.6 0 1,0 13.2,0a6.6,6.6 0 1,0 -13.2,0zM711.35,212.51a6.6,6.6 0 1,0 13.2,0a6.6,6.6 0 1,0 -13.2,0zM711.64,212.52a6.6,6.6 0 1,0 13.2,0a6.6,6.6 0 1,0 -13.2,0zM711.93,212.54a6.6,6.6 0 1,0 13.2,0a6.6,6.6 0 1,0 -13.2,0zM712.21,212.56a6.6,6.6 0 1,0 13.2,0a6.6,6.6 0 1,0 -13.2,0zM712.49,212.58a6.6,6.6 0 1,0 13.2,0a6.6,6.6 0 1,0 -13.2,0zM712.78,212.61a6.6,6.6 0 1,0 13.2,0a6.6,6.6 0 1,0 -13.2,0zM713.06,212.64a6.6,6.6 0 1,0 13.2,0a6.6,6.6 0 1,0 -13.2,0zM713.34,212.67a6.6,6.6 0 1,0 13.2,0a6.6,6.6 0 1,0 -13.2,0zM713.62,212.71a6.6,6.6 0 1,0 13.2,0a6.6,6.6 0 1,0 -13.2,0zM713.91,212.75a6.6,6.6 0 1,0 13.2,0a6.6,6.6 0 1,0 -13.2,0zM714.19,212.79a6.6,6.6 0 1,0 13.2,0a6.6,6.6 0 1,0 -13.2,0zM714.47,212.84a6.6,6.6 0 1,0 13.2,0a6.6,6.6 0 1,0 -13.2,0zM714.75,212.88a6.6,6.6 0 1,0 13.2,0a6.6,6.6 0 1,0 -13.2,0zM715.02,212.93a6.6,6.6 0 1,0 13.2,0a6.6,6.6 0 1,0 -13.2,0zM715.3,212.98a6.6,6.6 0 1,0 13.2,0a6.6,6.6 0 1,0 -13.2,0zM715.58,213.03a6.6,6.6 0 1,0 13.2,0a6.6,6.6 0 1,0 -13.2,0zM715.86,213.08a6.6,6.6 0 1,0 13.2,0a6.6,6.6 0 1,0 -13.2,0zM716.13,213.13a6.6,6.6 0 1,0 13.2,0a6.6,6.6 0 1,0 -13.2,0zM716.41,213.18a6.6,6.6 0 1,0 13.2,0a6.6,6.6 0 1,0 -13.2,0zM716.69,213.23a6.6,6.6 0 1,0 13.2,0a6.6,6.6 0 1,0 -13.2,0zM716.96,213.28a6.6,6.6 0 1,0 13.2,0a6.6,6.6 0 1,0 -13.2,0zM717.23,213.33a6.6,6.6 0 1,0 13.2,0a6.6,6.6 0 1,0 -13.2,0zM717.51,213.38a6.6,6.6 0 1,0 13.2,0a6.6,6.6 0 1,0 -13.2,0zM717.78,213.42a6.6,6.6 0 1,0 13.2,0a6.6,6.6 0 1,0 -13.2,0zM718.05,213.47a6.6,6.6 0 1,0 13.2,0a6.6,6.6 0 1,0 -13.2,0zM718.33,213.51a6.6,6.6 0 1,0 13.2,0a6.6,6.6 0 1,0 -13.2,0zM718.6,213.55a6.6,6.6 0 1,0 13.2,0a6.6,6.6 0 1,0 -13.2,0zM718.87,213.58a6.6,6.6 0 1,0 13.2,0a6.6,6.6 0 1,0 -13.2,0zM719.14,213.61a6.6,6.6 0 1,0 13.2,0a6.6,6.6 0 1,0 -13.2,0zM719.41,213.64a6.6,6.6 0 1,0 13.2,0a6.6,6.6 0 1,0 -13.2,0zM719.68,213.67a6.6,6.6 0 1,0 13.2,0a6.6,6.6 0 1,0 -13.2,0zM719.95,213.69a6.6,6.6 0 1,0 13.2,0a6.6,6.6 0 1,0 -13.2,0zM720.22,213.71a6.6,6.6 0 1,0 13.2,0a6.6,6.6 0 1,0 -13.2,0zM720.48,213.73a6.6,6.6 0 1,0 13.2,0a6.6,6.6 0 1,0 -13.2,0zM720.75,213.74a6.6,6.6 0 1,0 13.2,0a6.6,6.6 0 1,0 -13.2,0zM721.02,213.75a6.6,6.6 0 1,0 13.2,0a6.6,6.6 0 1,0 -13.2,0zM721.29,213.76a6.6,6.6 0 1,0 13.2,0a6.6,6.6 0 1,0 -13.2,0zM721.55,213.76a6.6,6.6 0 1,0 13.2,0a6.6,6.6 0 1,0 -13.2,0zM721.82,213.75a6.6,6.6 0 1,0 13.2,0a6.6,6.6 0 1,0 -13.2,0zM722.08,213.75a6.6,6.6 0 1,0 13.2,0a6.6,6.6 0 1,0 -13.2,0zM722.35,213.74a6.6,6.6 0 1,0 13.2,0a6.6,6.6 0 1,0 -13.2,0zM722.61,213.72a6.6,6.6 0 1,0 13.2,0a6.6,6.6 0 1,0 -13.2,0zM722.87,213.7a6.6,6.6 0 1,0 13.2,0a6.6,6.6 0 1,0 -13.2,0zM723.14,213.68a6.6,6.6 0 1,0 13.2,0a6.6,6.6 0 1,0 -13.2,0zM723.4,213.66a6.6,6.6 0 1,0 13.2,0a6.6,6.6 0 1,0 -13.2,0zM723.66,213.63a6.6,6.6 0 1,0 13.2,0a6.6,6.6 0 1,0 -13.2,0zM723.92,213.6a6.6,6.6 0 1,0 13.2,0a6.6,6.6 0 1,0 -13.2,0zM724.18,213.56a6.6,6.6 0 1,0 13.2,0a6.6,6.6 0 1,0 -13.2,0zM724.44,213.53a6.6,6.6 0 1,0 13.2,0a6.6,6.6 0 1,0 -13.2,0zM724.7,213.49a6.6,6.6 0 1,0 13.2,0a6.6,6.6 0 1,0 -13.2,0zM724.96,213.45a6.6,6.6 0 1,0 13.2,0a6.6,6.6 0 1,0 -13.2,0zM725.22,213.41a6.6,6.6 0 1,0 13.2,0a6.6,6.6 0 1,0 -13.2,0zM725.48,213.36a6.6,6.6 0 1,0 13.2,0a6.6,6.6 0 1,0 -13.2,0zM725.74,213.32a6.6,6.6 0 1,0 13.2,0a6.6,6.6 0 1,0 -13.2,0zM726,213.27a6.6,6.6 0 1,0 13.2,0a6.6,6.6 0 1,0 -13.2,0zM726.25,213.22a6.6,6.6 0 1,0 13.2,0a6.6,6.6 0 1,0 -13.2,0zM726.51,213.17a6.6,6.6 0 1,0 13.2,0a6.6,6.6 0 1,0 -13.2,0zM726.76,213.13a6.6,6.6 0 1,0 13.2,0a6.6,6.6 0 1,0 -13.2,0zM727.02,213.08a6.6,6.6 0 1,0 13.2,0a6.6,6.6 0 1,0 -13.2,0zM727.28,213.03a6.6,6.6 0 1,0 13.2,0a6.6,6.6 0 1,0 -13.2,0zM727.53,212.98a6.6,6.6 0 1,0 13.2,0a6.6,6.6 0 1,0 -13.2,0zM727.78,212.94a6.6,6.6 0 1,0 13.2,0a6.6,6.6 0 1,0 -13.2,0zM728.04,212.89a6.6,6.6 0 1,0 13.2,0a6.6,6.6 0 1,0 -13.2,0zM728.29,212.85a6.6,6.6 0 1,0 13.2,0a6.6,6.6 0 1,0 -13.2,0zM728.54,212.81a6.6,6.6 0 1,0 13.2,0a6.6,6.6 0 1,0 -13.2,0zM728.8,212.77a6.6,6.6 0 1,0 13.2,0a6.6,6.6 0 1,0 -13.2,0zM729.05,212.73a6.6,6.6 0 1,0 13.2,0a6.6,6.6 0 1,0 -13.2,0zM729.3,212.69a6.6,6.6 0 1,0 13.2,0a6.6,6.6 0 1,0 -13.2,0zM729.55,212.66a6.6,6.6 0 1,0 13.2,0a6.6,6.6 0 1,0 -13.2,0zM729.8,212.63a6.6,6.6 0 1,0 13.2,0a6.6,6.6 0 1,0 -13.2,0zM730.05,212.6a6.6,6.6 0 1,0 13.2,0a6.6,6.6 0 1,0 -13.2,0zM730.3,212.58a6.6,6.6 0 1,0 13.2,0a6.6,6.6 0 1,0 -13.2,0zM730.55,212.56a6.6,6.6 0 1,0 13.2,0a6.6,6.6 0 1,0 -13.2,0zM730.8,212.54a6.6,6.6 0 1,0 13.2,0a6.6,6.6 0 1,0 -13.2,0zM731.05,212.53a6.6,6.6 0 1,0 13.2,0a6.6,6.6 0 1,0 -13.2,0zM731.29,212.51a6.6,6.6 0 1,0 13.2,0a6.6,6.6 0 1,0 -13.2,0zM731.54,212.51a6.6,6.6 0 1,0 13.2,0a6.6,6.6 0 1,0 -13.2,0zM731.79,212.5a6.6,6.6 0 1,0 13.2,0a6.6,6.6 0 1,0 -13.2,0zM732.03,212.5a6.6,6.6 0 1,0 13.2,0a6.6,6.6 0 1,0 -13.2,0zM732.28,212.5a6.6,6.6 0 1,0 13.2,0a6.6,6.6 0 1,0 -13.2,0zM732.53,212.51a6.6,6.6 0 1,0 13.2,0a6.6,6.6 0 1,0 -13.2,0zM732.77,212.52a6.6,6.6 0 1,0 13.2,0a6.6,6.6 0 1,0 -13.2,0zM733.02,212.53a6.6,6.6 0 1,0 13.2,0a6.6,6.6 0 1,0 -13.2,0zM733.26,212.54a6.6,6.6 0 1,0 13.2,0a6.6,6.6 0 1,0 -13.2,0zM733.5,212.56a6.6,6.6 0 1,0 13.2,0a6.6,6.6 0 1,0 -13.2,0zM733.75,212.58a6.6,6.6 0 1,0 13.2,0a6.6,6.6 0 1,0 -13.2,0zM733.99,212.6a6.6,6.6 0 1,0 13.2,0a6.6,6.6 0 1,0 -13.2,0zM734.23,212.63a6.6,6.6 0 1,0 13.2,0a6.6,6.6 0 1,0 -13.2,0zM734.47,212.65a6.6,6.6 0 1,0 13.2,0a6.6,6.6 0 1,0 -13.2,0zM734.72,212.68a6.6,6.6 0 1,0 13.2,0a6.6,6.6 0 1,0 -13.2,0zM734.96,212.72a6.6,6.6 0 1,0 13.2,0a6.6,6.6 0 1,0 -13.2,0zM735.2,212.75a6.6,6.6 0 1,0 13.2,0a6.6,6.6 0 1,0 -13.2,0zM735.44,212.78a6.6,6.6 0 1,0 13.2,0a6.6,6.6 0 1,0 -13.2,0zM735.68,212.82a6.6,6.6 0 1,0 13.2,0a6.6,6.6 0 1,0 -13.2,0zM735.92,212.86a6.6,6.6 0 1,0 13.2,0a6.6,6.6 0 1,0 -13.2,0zM736.16,212.89a6.6,6.6 0 1,0 13.2,0a6.6,6.6 0 1,0 -13.2,0zM736.4,212.93a6.6,6.6 0 1,0 13.2,0a6.6,6.6 0 1,0 -13.2,0zM736.63,212.97a6.6,6.6 0 1,0 13.2,0a6.6,6.6 0 1,0 -13.2,0zM736.87,213.01a6.6,6.6 0 1,0 13.2,0a6.6,6.6 0 1,0 -13.2,0zM737.11,213.04a6.6,6.6 0 1,0 13.2,0a6.6,6.6 0 1,0 -13.2,0zM737.35,213.08a6.6,6.6 0 1,0 13.2,0a6.6,6.6 0 1,0 -13.2,0zM737.58,213.12a6.6,6.6 0 1,0 13.2,0a6.6,6.6 0 1,0 -13.2,0zM737.82,213.15a6.6,6.6 0 1,0 13.2,0a6.6,6.6 0 1,0 -13.2,0zM738.06,213.19a6.6,6.6 0 1,0 13.2,0a6.6,6.6 0 1,0 -13.2,0zM738.29,213.22a6.6,6.6 0 1,0 13.2,0a6.6,6.6 0 1,0 -13.2,0zM738.53,213.25a6.6,6.6 0 1,0 13.2,0a6.6,6.6 0 1,0 -13.2,0zM738.76,213.28a6.6,6.6 0 1,0 13.2,0a6.6,6.6 0 1,0 -13.2,0zM739,213.31a6.6,6.6 0 1,0 13.2,0a6.6,6.6 0 1,0 -13.2,0zM739.23,213.33a6.6,6.6 0 1,0 13.2,0a6.6,6.6 0 1,0 -13.2,0zM739.46,213.36a6.6,6.6 0 1,0 13.2,0a6.6,6.6 0 1,0 -13.2,0zM739.7,213.38a6.6,6.6 0 1,0 13.2,0a6.6,6.6 0 1,0 -13.2,0zM739.93,213.39a6.6,6.6 0 1,0 13.2,0a6.6,6.6 0 1,0 -13.2,0zM740.16,213.41a6.6,6.6 0 1,0 13.2,0a6.6,6.6 0 1,0 -13.2,0zM740.39,213.42a6.6,6.6 0 1,0 13.2,0a6.6,6.6 0 1,0 -13.2,0zM740.62,213.43a6.6,6.6 0 1,0 13.2,0a6.6,6.6 0 1,0 -13.2,0zM740.86,213.44a6.6,6.6 0 1,0 13.2,0a6.6,6.6 0 1,0 -13.2,0zM741.09,213.44a6.6,6.6 0 1,0 13.2,0a6.6,6.6 0 1,0 -13.2,0zM741.32,213.44a6.6,6.6 0 1,0 13.2,0a6.6,6.6 0 1,0 -13.2,0zM741.55,213.44a6.6,6.6 0 1,0 13.2,0a6.6,6.6 0 1,0 -13.2,0zM741.78,213.44a6.6,6.6 0 1,0 13.2,0a6.6,6.6 0 1,0 -13.2,0zM742.01,213.43a6.6,6.6 0 1,0 13.2,0a6.6,6.6 0 1,0 -13.2,0zM742.23,213.42a6.6,6.6 0 1,0 13.2,0a6.6,6.6 0 1,0 -13.2,0zM742.46,213.41a6.6,6.6 0 1,0 13.2,0a6.6,6.6 0 1,0 -13.2,0zM742.69,213.39a6.6,6.6 0 1,0 13.2,0a6.6,6.6 0 1,0 -13.2,0zM742.92,213.37a6.6,6.6 0 1,0 13.2,0a6.6,6.6 0 1,0 -13.2,0zM743.15,213.35a6.6,6.6 0 1,0 13.2,0a6.6,6.6 0 1,0 -13.2,0zM743.37,213.33a6.6,6.6 0 1,0 13.2,0a6.6,6.6 0 1,0 -13.2,0zM743.6,213.3a6.6,6.6 0 1,0 13.2,0a6.6,6.6 0 1,0 -13.2,0zM743.83,213.28a6.6,6.6 0 1,0 13.2,0a6.6,6.6 0 1,0 -13.2,0zM744.05,213.25a6.6,6.6 0 1,0 13.2,0a6.6,6.6 0 1,0 -13.2,0zM744.28,213.22a6.6,6.6 0 1,0 13.2,0a6.6,6.6 0 1,0 -13.2,0zM744.5,213.18a6.6,6.6 0 1,0 13.2,0a6.6,6.6 0 1,0 -13.2,0zM744.73,213.15a6.6,6.6 0 1,0 13.2,0a6.6,6.6 0 1,0 -13.2,0zM744.95,213.12a6.6,6.6 0 1,0 13.2,0a6.6,6.6 0 1,0 -13.2,0zM745.18,213.08a6.6,6.6 0 1,0 13.2,0a6.6,6.6 0 1,0 -13.2,0zM745.4,213.05a6.6,6.6 0 1,0 13.2,0a6.6,6.6 0 1,0 -13.2,0zM745.62,213.01a6.6,6.6 0 1,0 13.2,0a6.6,6.6 0 1,0 -13.2,0zM745.84,212.97a6.6,6.6 0 1,0 13.2,0a6.6,6.6 0 1,0 -13.2,0zM746.07,212.94a6.6,6.6 0 1,0 13.2,0a6.6,6.6 0 1,0 -13.2,0zM746.29,212.9a6.6,6.6 0 1,0 13.2,0a6.6,6.6 0 1,0 -13.2,0zM746.51,212.87a6.6,6.6 0 1,0 13.2,0a6.6,6.6 0 1,0 -13.2,0zM746.73,212.83a6.6,6.6 0 1,0 13.2,0a6.6,6.6 0 1,0 -13.2,0zM746.95,212.8a6.6,6.6 0 1,0 13.2,0a6.6,6.6 0 1,0 -13.2,0zM747.17,212.77a6.6,6.6 0 1,0 13.2,0a6.6,6.6 0 1,0 -13.2,0zM747.4,212.73a6.6,6.6 0 1,0 13.2,0a6.6,6.6 0 1,0 -13.2,0zM747.62,212.7a6.6,6.6 0 1,0 13.2,0a6.6,6.6 0 1,0 -13.2,0zM747.84,212.68a6.6,6.6 0 1,0 13.2,0a6.6,6.6 0 1,0 -13.2,0zM748.05,212.65a6.6,6.6 0 1,0 13.2,0a6.6,6.6 0 1,0 -13.2,0zM748.27,212.62a6.6,6.6 0 1,0 13.2,0a6.6,6.6 0 1,0 -13.2,0zM748.49,212.6a6.6,6.6 0 1,0 13.2,0a6.6,6.6 0 1,0 -13.2,0zM748.71,212.58a6.6,6.6 0 1,0 13.2,0a6.6,6.6 0 1,0 -13.2,0zM748.93,212.56a6.6,6.6 0 1,0 13.2,0a6.6,6.6 0 1,0 -13.2,0zM749.15,212.54a6.6,6.6 0 1,0 13.2,0a6.6,6.6 0 1,0 -13.2,0zM749.36,212.53a6.6,6.6 0 1,0 13.2,0a6.6,6.6 0 1,0 -13.2,0zM749.58,212.52a6.6,6.6 0 1,0 13.2,0a6.6,6.6 0 1,0 -13.2,0zM749.8,212.51a6.6,6.6 0 1,0 13.2,0a6.6,6.6 0 1,0 -13.2,0zM750.01,212.5a6.6,6.6 0 1,0 13.2,0a6.6,6.6 0 1,0 -13.2,0zM750.23,212.5a6.6,6.6 0 1,0 13.2,0a6.6,6.6 0 1,0 -13.2,0zM750.44,212.5a6.6,6.6 0 1,0 13.2,0a6.6,6.6 0 1,0 -13.2,0zM750.66,212.5a6.6,6.6 0 1,0 13.2,0a6.6,6.6 0 1,0 -13.2,0zM750.88,212.51a6.6,6.6 0 1,0 13.2,0a6.6,6.6 0 1,0 -13.2,0zM751.09,212.51a6.6,6.6 0 1,0 13.2,0a6.6,6.6 0 1,0 -13.2,0zM751.3,212.52a6.6,6.6 0 1,0 13.2,0a6.6,6.6 0 1,0 -13.2,0zM751.52,212.53a6.6,6.6 0 1,0 13.2,0a6.6,6.6 0 1,0 -13.2,0zM751.73,212.55a6.6,6.6 0 1,0 13.2,0a6.6,6.6 0 1,0 -13.2,0zM751.94,212.56a6.6,6.6 0 1,0 13.2,0a6.6,6.6 0 1,0 -13.2,0zM752.16,212.58a6.6,6.6 0 1,0 13.2,0a6.6,6.6 0 1,0 -13.2,0zM752.37,212.6a6.6,6.6 0 1,0 13.2,0a6.6,6.6 0 1,0 -13.2,0zM752.58,212.62a6.6,6.6 0 1,0 13.2,0a6.6,6.6 0 1,0 -13.2,0zM752.79,212.64a6.6,6.6 0 1,0 13.2,0a6.6,6.6 0 1,0 -13.2,0zM753.01,212.67a6.6,6.6 0 1,0 13.2,0a6.6,6.6 0 1,0 -13.2,0zM753.22,212.69a6.6,6.6 0 1,0 13.2,0a6.6,6.6 0 1,0 -13.2,0zM753.43,212.72a6.6,6.6 0 1,0 13.2,0a6.6,6.6 0 1,0 -13.2,0zM753.64,212.75a6.6,6.6 0 1,0 13.2,0a6.6,6.6 0 1,0 -13.2,0zM753.85,212.77a6.6,6.6 0 1,0 13.2,0a6.6,6.6 0 1,0 -13.2,0zM754.06,212.8a6.6,6.6 0 1,0 13.2,0a6.6,6.6 0 1,0 -13.2,0zM754.27,212.83a6.6,6.6 0 1,0 13.2,0a6.6,6.6 0 1,0 -13.2,0zM754.48,212.86a6.6,6.6 0 1,0 13.2,0a6.6,6.6 0 1,0 -13.2,0zM754.69,212.89a6.6,6.6 0 1,0 13.2,0a6.6,6.6 0 1,0 -13.2,0zM754.9,212.92a6.6,6.6 0 1,0 13.2,0a6.6,6.6 0 1,0 -13.2,0zM755.1,212.95a6.6,6.6 0 1,0 13.2,0a6.6,6.6 0 1,0 -13.2,0zM755.31,212.98a6.6,6.6 0 1,0 13.2,0a6.6,6.6 0 1,0 -13.2,0zM755.52,213.01a6.6,6.6 0 1,0 13.2,0a6.6,6.6 0 1,0 -13.2,0zM755.73,213.03a6.6,6.6 0 1,0 13.2,0a6.6,6.6 0 1,0 -13.2,0zM755.94,213.06a6.6,6.6 0 1,0 13.2,0a6.6,6.6 0 1,0 -13.2,0zM756.14,213.08a6.6,6.6 0 1,0 13.2,0a6.6,6.6 0 1,0 -13.2,0zM756.35,213.1a6.6,6.6 0 1,0 13.2,0a6.6,6.6 0 1,0 -13.2,0zM756.55,213.13a6.6,6.6 0 1,0 13.2,0a6.6,6.6 0 1,0 -13.2,0zM756.76,213.15a6.6,6.6 0 1,0 13.2,0a6.6,6.6 0 1,0 -13.2,0zM756.97,213.16a6.6,6.6 0 1,0 13.2,0a6.6,6.6 0 1,0 -13.2,0zM757.17,213.18a6.6,6.6 0 1,0 13.2,0a6.6,6.6 0 1,0 -13.2,0zM757.38,213.19a6.6,6.6 0 1,0 13.2,0a6.6,6.6 0 1,0 -13.2,0zM757.58,213.21a6.6,6.6 0 1,0 13.2,0a6.6,6.6 0 1,0 -13.2,0zM757.79,213.22a6.6,6.6 0 1,0 13.2,0a6.6,6.6 0 1,0 -13.2,0zM757.99,213.22a6.6,6.6 0 1,0 13.2,0a6.6,6.6 0 1,0 -13.2,0zM758.19,213.23a6.6,6.6 0 1,0 13.2,0a6.6,6.6 0 1,0 -13.2,0zM758.4,213.23a6.6,6.6 0 1,0 13.2,0a6.6,6.6 0 1,0 -13.2,0zM758.6,213.23a6.6,6.6 0 1,0 13.2,0a6.6,6.6 0 1,0 -13.2,0zM758.8,213.23a6.6,6.6 0 1,0 13.2,0a6.6,6.6 0 1,0 -13.2,0zM759.01,213.23a6.6,6.6 0 1,0 13.2,0a6.6,6.6 0 1,0 -13.2,0zM759.21,213.22a6.6,6.6 0 1,0 13.2,0a6.6,6.6 0 1,0 -13.2,0zM759.41,213.22a6.6,6.6 0 1,0 13.2,0a6.6,6.6 0 1,0 -13.2,0zM759.61,213.21a6.6,6.6 0 1,0 13.2,0a6.6,6.6 0 1,0 -13.2,0zM759.81,213.19a6.6,6.6 0 1,0 13.2,0a6.6,6.6 0 1,0 -13.2,0zM760.01,213.18a6.6,6.6 0 1,0 13.2,0a6.6,6.6 0 1,0 -13.2,0zM760.22,213.16a6.6,6.6 0 1,0 13.2,0a6.6,6.6 0 1,0 -13.2,0zM760.42,213.15a6.6,6.6 0 1,0 13.2,0a6.6,6.6 0 1,0 -13.2,0zM760.62,213.13a6.6,6.6 0 1,0 13.2,0a6.6,6.6 0 1,0 -13.2,0zM760.82,213.11a6.6,6.6 0 1,0 13.2,0a6.6,6.6 0 1,0 -13.2,0zM761.02,213.08a6.6,6.6 0 1,0 13.2,0a6.6,6.6 0 1,0 -13.2,0zM761.22,213.06a6.6,6.6 0 1,0 13.2,0a6.6,6.6 0 1,0 -13.2,0zM761.41,213.04a6.6,6.6 0 1,0 13.2,0a6.6,6.6 0 1,0 -13.2,0zM761.61,213.01a6.6,6.6 0 1,0 13.2,0a6.6,6.6 0 1,0 -13.2,0zM761.81,212.98a6.6,6.6 0 1,0 13.2,0a6.6,6.6 0 1,0 -13.2,0zM762.01,212.96a6.6,6.6 0 1,0 13.2,0a6.6,6.6 0 1,0 -13.2,0zM762.21,212.93a6.6,6.6 0 1,0 13.2,0a6.6,6.6 0 1,0 -13.2,0zM762.41,212.9a6.6,6.6 0 1,0 13.2,0a6.6,6.6 0 1,0 -13.2,0zM762.6,212.87a6.6,6.6 0 1,0 13.2,0a6.6,6.6 0 1,0 -13.2,0zM762.8,212.84a6.6,6.6 0 1,0 13.2,0a6.6,6.6 0 1,0 -13.2,0zM763,212.82a6.6,6.6 0 1,0 13.2,0a6.6,6.6 0 1,0 -13.2,0zM763.19,212.79a6.6,6.6 0 1,0 13.2,0a6.6,6.6 0 1,0 -13.2,0zM763.39,212.76a6.6,6.6 0 1,0 13.2,0a6.6,6.6 0 1,0 -13.2,0zM763.59,212.73a6.6,6.6 0 1,0 13.2,0a6.6,6.6 0 1,0 -13.2,0zM763.78,212.71a6.6,6.6 0 1,0 13.2,0a6.6,6.6 0 1,0 -13.2,0zM763.98,212.68a6.6,6.6 0 1,0 13.2,0a6.6,6.6 0 1,0 -13.2,0zM764.17,212.66a6.6,6.6 0 1,0 13.2,0a6.6,6.6 0 1,0 -13.2,0zM764.37,212.64a6.6,6.6 0 1,0 13.2,0a6.6,6.6 0 1,0 -13.2,0zM764.56,212.62a6.6,6.6 0 1,0 13.2,0a6.6,6.6 0 1,0 -13.2,0zM764.76,212.6a6.6,6.6 0 1,0 13.2,0a6.6,6.6 0 1,0 -13.2,0zM764.95,212.58a6.6,6.6 0 1,0 13.2,0a6.6,6.6 0 1,0 -13.2,0zM765.14,212.56a6.6,6.6 0 1,0 13.2,0a6.6,6.6 0 1,0 -13.2,0zM765.34,212.55a6.6,6.6 0 1,0 13.2,0a6.6,6.6 0 1,0 -13.2,0zM765.53,212.54a6.6,6.6 0 1,0 13.2,0a6.6,6.6 0 1,0 -13.2,0zM765.72,212.52a6.6,6.6 0 1,0 13.2,0a6.6,6.6 0 1,0 -13.2,0zM765.92,212.52a6.6,6.6 0 1,0 13.2,0a6.6,6.6 0 1,0 -13.2,0zM766.11,212.51a6.6,6.6 0 1,0 13.2,0a6.6,6.6 0 1,0 -13.2,0zM766.3,212.5a6.6,6.6 0 1,0 13.2,0a6.6,6.6 0 1,0 -13.2,0zM766.49,212.5a6.6,6.6 0 1,0 13.2,0a6.6,6.6 0 1,0 -13.2,0zM766.68,212.5a6.6,6.6 0 1,0 13.2,0a6.6,6.6 0 1,0 -13.2,0zM766.88,212.5a6.6,6.6 0 1,0 13.2,0a6.6,6.6 0 1,0 -13.2,0zM767.07,212.5a6.6,6.6 0 1,0 13.2,0a6.6,6.6 0 1,0 -13.2,0zM767.26,212.51a6.6,6.6 0 1,0 13.2,0a6.6,6.6 0 1,0 -13.2,0zM767.45,212.52a6.6,6.6 0 1,0 13.2,0a6.6,6.6 0 1,0 -13.2,0zM767.64,212.53a6.6,6.6 0 1,0 13.2,0a6.6,6.6 0 1,0 -13.2,0zM767.83,212.54a6.6,6.6 0 1,0 13.2,0a6.6,6.6 0 1,0 -13.2,0zM768.02,212.55a6.6,6.6 0 1,0 13.2,0a6.6,6.6 0 1,0 -13.2,0zM768.21,212.56a6.6,6.6 0 1,0 13.2,0a6.6,6.6 0 1,0 -13.2,0zM768.4,212.58a6.6,6.6 0 1,0 13.2,0a6.6,6.6 0 1,0 -13.2,0zM768.59,212.59a6.6,6.6 0 1,0 13.2,0a6.6,6.6 0 1,0 -13.2,0zM768.77,212.61a6.6,6.6 0 1,0 13.2,0a6.6,6.6 0 1,0 -13.2,0zM768.96,212.63a6.6,6.6 0 1,0 13.2,0a6.6,6.6 0 1,0 -13.2,0zM769.15,212.65a6.6,6.6 0 1,0 13.2,0a6.6,6.6 0 1,0 -13.2,0zM769.34,212.67a6.6,6.6 0 1,0 13.2,0a6.6,6.6 0 1,0 -13.2,0zM769.53,212.7a6.6,6.6 0 1,0 13.2,0a6.6,6.6 0 1,0 -13.2,0zM769.71,212.72a6.6,6.6 0 1,0 13.2,0a6.6,6.6 0 1,0 -13.2,0zM769.9,212.74a6.6,6.6 0 1,0 13.2,0a6.6,6.6 0 1,0 -13.2,0zM770.09,212.76a6.6,6.6 0 1,0 13.2,0a6.6,6.6 0 1,0 -13.2,0zM770.28,212.79a6.6,6.6 0 1,0 13.2,0a6.6,6.6 0 1,0 -13.2,0zM770.46,212.81a6.6,6.6 0 1,0 13.2,0a6.6,6.6 0 1,0 -13.2,0zM770.65,212.83a6.6,6.6 0 1,0 13.2,0a6.6,6.6 0 1,0 -13.2,0zM770.83,212.86a6.6,6.6 0 1,0 13.2,0a6.6,6.6 0 1,0 -13.2,0zM771.02,212.88a6.6,6.6 0 1,0 13.2,0a6.6,6.6 0 1,0 -13.2,0zM771.21,212.9a6.6,6.6 0 1,0 13.2,0a6.6,6.6 0 1,0 -13.2,0zM771.39,212.92a6.6,6.6 0 1,0 13.2,0a6.6,6.6 0 1,0 -13.2,0zM771.58,212.94a6.6,6.6 0 1,0 13.2,0a6.6,6.6 0 1,0 -13.2,0zM771.76,212.96a6.6,6.6 0 1,0 13.2,0a6.6,6.6 0 1,0 -13.2,0zM771.94,212.98a6.6,6.6 0 1,0 13.2,0a6.6,6.6 0 1,0 -13.2,0zM772.13,213a6.6,6.6 0 1,0 13.2,0a6.6,6.6 0 1,0 -13.2,0zM772.31,213.02a6.6,6.6 0 1,0 13.2,0a6.6,6.6 0 1,0 -13.2,0zM772.5,213.03a6.6,6.6 0 1,0 13.2,0a6.6,6.6 0 1,0 -13.2,0zM772.68,213.04a6.6,6.6 0 1,0 13.2,0a6.6,6.6 0 1,0 -13.2,0zM772.86,213.05a6.6,6.6 0 1,0 13.2,0a6.6,6.6 0 1,0 -13.2,0zM773.05,213.06a6.6,6.6 0 1,0 13.2,0a6.6,6.6 0 1,0 -13.2,0zM773.23,213.07a6.6,6.6 0 1,0 13.2,0a6.6,6.6 0 1,0 -13.2,0zM773.41,213.08a6.6,6.6 0 1,0 13.2,0a6.6,6.6 0 1,0 -13.2,0zM773.59,213.08a6.6,6.6 0 1,0 13.2,0a6.6,6.6 0 1,0 -13.2,0zM773.78,213.09a6.6,6.6 0 1,0 13.2,0a6.6,6.6 0 1,0 -13.2,0zM773.96,213.09a6.6,6.6 0 1,0 13.2,0a6.6,6.6 0 1,0 -13.2,0zM774.14,213.09a6.6,6.6 0 1,0 13.2,0a6.6,6.6 0 1,0 -13.2,0zM774.32,213.08a6.6,6.6 0 1,0 13.2,0a6.6,6.6 0 1,0 -13.2,0zM774.5,213.08a6.6,6.6 0 1,0 13.2,0a6.6,6.6 0 1,0 -13.2,0zM774.68,213.07a6.6,6.6 0 1,0 13.2,0a6.6,6.6 0 1,0 -13.2,0zM774.86,213.07a6.6,6.6 0 1,0 13.2,0a6.6,6.6 0 1,0 -13.2,0zM775.04,213.06a6.6,6.6 0 1,0 13.2,0a6.6,6.6 0 1,0 -13.2,0zM775.22,213.05a6.6,6.6 0 1,0 13.2,0a6.6,6.6 0 1,0 -13.2,0zM775.4,213.03a6.6,6.6 0 1,0 13.2,0a6.6,6.6 0 1,0 -13.2,0zM775.58,213.02a6.6,6.6 0 1,0 13.2,0a6.6,6.6 0 1,0 -13.2,0zM775.76,213a6.6,6.6 0 1,0 13.2,0a6.6,6.6 0 1,0 -13.2,0zM775.94,212.99a6.6,6.6 0 1,0 13.2,0a6.6,6.6 0 1,0 -13.2,0zM776.12,212.97a6.6,6.6 0 1,0 13.2,0a6.6,6.6 0 1,0 -13.2,0zM776.3,212.95a6.6,6.6 0 1,0 13.2,0a6.6,6.6 0 1,0 -13.2,0zM776.48,212.93a6.6,6.6 0 1,0 13.2,0a6.6,6.6 0 1,0 -13.2,0zM776.66,212.91a6.6,6.6 0 1,0 13.2,0a6.6,6.6 0 1,0 -13.2,0zM776.83,212.89a6.6,6.6 0 1,0 13.2,0a6.6,6.6 0 1,0 -13.2,0zM777.01,212.87a6.6,6.6 0 1,0 13.2,0a6.6,6.6 0 1,0 -13.2,0zM777.19,212.84a6.6,6.6 0 1,0 13.2,0a6.6,6.6 0 1,0 -13.2,0zM777.37,212.82a6.6,6.6 0 1,0 13.2,0a6.6,6.6 0 1,0 -13.2,0zM777.54,212.8a6.6,6.6 0 1,0 13.2,0a6.6,6.6 0 1,0 -13.2,0zM777.72,212.78a6.6,6.6 0 1,0 13.2,0a6.6,6.6 0 1,0 -13.2,0zM777.9,212.75a6.6,6.6 0 1,0 13.2,0a6.6,6.6 0 1,0 -13.2,0zM778.07,212.73a6.6,6.6 0 1,0 13.2,0a6.6,6.6 0 1,0 -13.2,0zM778.25,212.71a6.6,6.6 0 1,0 13.2,0a6.6,6.6 0 1,0 -13.2,0zM778.43,212.69a6.6,6.6 0 1,0 13.2,0a6.6,6.6 0 1,0 -13.2,0zM778.6,212.67a6.6,6.6 0 1,0 13.2,0a6.6,6.6 0 1,0 -13.2,0zM778.78,212.65a6.6,6.6 0 1,0 13.2,0a6.6,6.6 0 1,0 -13.2,0zM778.95,212.63a6.6,6.6 0 1,0 13.2,0a6.6,6.6 0 1,0 -13.2,0zM779.13,212.61a6.6,6.6 0 1,0 13.2,0a6.6,6.6 0 1,0 -13.2,0zM779.3,212.59a6.6,6.6 0 1,0 13.2,0a6.6,6.6 0 1,0 -13.2,0zM779.48,212.58a6.6,6.6 0 1,0 13.2,0a6.6,6.6 0 1,0 -13.2,0zM779.65,212.56a6.6,6.6 0 1,0 13.2,0a6.6,6.6 0 1,0 -13.2,0zM779.83,212.55a6.6,6.6 0 1,0 13.2,0a6.6,6.6 0 1,0 -13.2,0zM780,212.54a6.6,6.6 0 1,0 13.2,0a6.6,6.6 0 1,0 -13.2,0zM780.17,212.53a6.6,6.6 0 1,0 13.2,0a6.6,6.6 0 1,0 -13.2,0zM780.35,212.52a6.6,6.6 0 1,0 13.2,0a6.6,6.6 0 1,0 -13.2,0zM780.52,212.51a6.6,6.6 0 1,0 13.2,0a6.6,6.6 0 1,0 -13.2,0zM780.69,212.51a6.6,6.6 0 1,0 13.2,0a6.6,6.6 0 1,0 -13.2,0zM780.87,212.5a6.6,6.6 0 1,0 13.2,0a6.6,6.6 0 1,0 -13.2,0zM781.04,212.5a6.6,6.6 0 1,0 13.2,0a6.6,6.6 0 1,0 -13.2,0zM781.21,212.5a6.6,6.6 0 1,0 13.2,0a6.6,6.6 0 1,0 -13.2,0zM781.38,212.5a6.6,6.6 0 1,0 13.2,0a6.6,6.6 0 1,0 -13.2,0zM781.56,212.5a6.6,6.6 0 1,0 13.2,0a6.6,6.6 0 1,0 -13.2,0zM781.73,212.51a6.6,6.6 0 1,0 13.2,0a6.6,6.6 0 1,0 -13.2,0zM781.9,212.51a6.6,6.6 0 1,0 13.2,0a6.6,6.6 0 1,0 -13.2,0zM782.07,212.52a6.6,6.6 0 1,0 13.2,0a6.6,6.6 0 1,0 -13.2,0zM782.24,212.53a6.6,6.6 0 1,0 13.2,0a6.6,6.6 0 1,0 -13.2,0zM782.41,212.54a6.6,6.6 0 1,0 13.2,0a6.6,6.6 0 1,0 -13.2,0zM782.58,212.55a6.6,6.6 0 1,0 13.2,0a6.6,6.6 0 1,0 -13.2,0zM782.75,212.56a6.6,6.6 0 1,0 13.2,0a6.6,6.6 0 1,0 -13.2,0zM782.92,212.58a6.6,6.6 0 1,0 13.2,0a6.6,6.6 0 1,0 -13.2,0zM783.09,212.59a6.6,6.6 0 1,0 13.2,0a6.6,6.6 0 1,0 -13.2,0zM783.26,212.61a6.6,6.6 0 1,0 13.2,0a6.6,6.6 0 1,0 -13.2,0zM783.43,212.62a6.6,6.6 0 1,0 13.2,0a6.6,6.6 0 1,0 -13.2,0zM783.6,212.64a6.6,6.6 0 1,0 13.2,0a6.6,6.6 0 1,0 -13.2,0zM783.77,212.66a6.6,6.6 0 1,0 13.2,0a6.6,6.6 0 1,0 -13.2,0zM783.94,212.68a6.6,6.6 0 1,0 13.2,0a6.6,6.6 0 1,0 -13.2,0zM784.11,212.7a6.6,6.6 0 1,0 13.2,0a6.6,6.6 0 1,0 -13.2,0zM784.28,212.71a6.6,6.6 0 1,0 13.2,0a6.6,6.6 0 1,0 -13.2,0zM784.45,212.73a6.6,6.6 0 1,0 13.2,0a6.6,6.6 0 1,0 -13.2,0zM784.62,212.75a6.6,6.6 0 1,0 13.2,0a6.6,6.6 0 1,0 -13.2,0zM784.78,212.77a6.6,6.6 0 1,0 13.2,0a6.6,6.6 0 1,0 -13.2,0zM784.95,212.79a6.6,6.6 0 1,0 13.2,0a6.6,6.6 0 1,0 -13.2,0zM785.12,212.81a6.6,6.6 0 1,0 13.2,0a6.6,6.6 0 1,0 -13.2,0zM785.29,212.83a6.6,6.6 0 1,0 13.2,0a6.6,6.6 0 1,0 -13.2,0zM785.45,212.85a6.6,6.6 0 1,0 13.2,0a6.6,6.6 0 1,0 -13.2,0zM785.62,212.86a6.6,6.6 0 1,0 13.2,0a6.6,6.6 0 1,0 -13.2,0zM785.79,212.88a6.6,6.6 0 1,0 13.2,0a6.6,6.6 0 1,0 -13.2,0zM785.95,212.89a6.6,6.6 0 1,0 13.2,0a6.6,6.6 0 1,0 -13.2,0zM786.12,212.91a6.6,6.6 0 1,0 13.2,0a6.6,6.6 0 1,0 -13.2,0zM786.29,212.92a6.6,6.6 0 1,0 13.2,0a6.6,6.6 0 1,0 -13.2,0zM786.45,212.93a6.6,6.6 0 1,0 13.2,0a6.6,6.6 0 1,0 -13.2,0zM786.62,212.94a6.6,6.6 0 1,0 13.2,0a6.6,6.6 0 1,0 -13.2,0zM786.78,212.95a6.6,6.6 0 1,0 13.2,0a6.6,6.6 0 1,0 -13.2,0zM786.95,212.96a6.6,6.6 0 1,0 13.2,0a6.6,6.6 0 1,0 -13.2,0zM787.11,212.97a6.6,6.6 0 1,0 13.2,0a6.6,6.6 0 1,0 -13.2,0zM787.28,212.97a6.6,6.6 0 1,0 13.2,0a6.6,6.6 0 1,0 -13.2,0zM787.44,212.98a6.6,6.6 0 1,0 13.2,0a6.6,6.6 0 1,0 -13.2,0zM787.61,212.98a6.6,6.6 0 1,0 13.2,0a6.6,6.6 0 1,0 -13.2,0zM787.77,212.98a6.6,6.6 0 1,0 13.2,0a6.6,6.6 0 1,0 -13.2,0zM787.94,212.98a6.6,6.6 0 1,0 13.2,0a6.6,6.6 0 1,0 -13.2,0zM788.1,212.98a6.6,6.6 0 1,0 13.2,0a6.6,6.6 0 1,0 -13.2,0zM788.27,212.97a6.6,6.6 0 1,0 13.2,0a6.6,6.6 0 1,0 -13.2,0zM788.43,212.97a6.6,6.6 0 1,0 13.2,0a6.6,6.6 0 1,0 -13.2,0zM788.59,212.96a6.6,6.6 0 1,0 13.2,0a6.6,6.6 0 1,0 -13.2,0zM788.76,212.96a6.6,6.6 0 1,0 13.2,0a6.6,6.6 0 1,0 -13.2,0zM788.92,212.95a6.6,6.6 0 1,0 13.2,0a6.6,6.6 0 1,0 -13.2,0zM789.08,212.94a6.6,6.6 0 1,0 13.2,0a6.6,6.6 0 1,0 -13.2,0zM789.25,212.93a6.6,6.6 0 1,0 13.2,0a6.6,6.6 0 1,0 -13.2,0zM789.41,212.91a6.6,6.6 0 1,0 13.2,0a6.6,6.6 0 1,0 -13.2,0zM789.57,212.9a6.6,6.6 0 1,0 13.2,0a6.6,6.6 0 1,0 -13.2,0zM789.73,212.89a6.6,6.6 0 1,0 13.2,0a6.6,6.6 0 1,0 -13.2,0zM789.89,212.87a6.6,6.6 0 1,0 13.2,0a6.6,6.6 0 1,0 -13.2,0zM790.06,212.85a6.6,6.6 0 1,0 13.2,0a6.6,6.6 0 1,0 -13.2,0zM790.22,212.84a6.6,6.6 0 1,0 13.2,0a6.6,6.6 0 1,0 -13.2,0zM790.38,212.82a6.6,6.6 0 1,0 13.2,0a6.6,6.6 0 1,0 -13.2,0zM790.54,212.8a6.6,6.6 0 1,0 13.2,0a6.6,6.6 0 1,0 -13.2,0zM790.7,212.78a6.6,6.6 0 1,0 13.2,0a6.6,6.6 0 1,0 -13.2,0zM790.86,212.77a6.6,6.6 0 1,0 13.2,0a6.6,6.6 0 1,0 -13.2,0zM791.02,212.75a6.6,6.6 0 1,0 13.2,0a6.6,6.6 0 1,0 -13.2,0zM791.18,212.73a6.6,6.6 0 1,0 13.2,0a6.6,6.6 0 1,0 -13.2,0zM791.34,212.71a6.6,6.6 0 1,0 13.2,0a6.6,6.6 0 1,0 -13.2,0zM791.5,212.69a6.6,6.6 0 1,0 13.2,0a6.6,6.6 0 1,0 -13.2,0zM791.66,212.67a6.6,6.6 0 1,0 13.2,0a6.6,6.6 0 1,0 -13.2,0zM791.82,212.66a6.6,6.6 0 1,0 13.2,0a6.6,6.6 0 1,0 -13.2,0zM791.98,212.64a6.6,6.6 0 1,0 13.2,0a6.6,6.6 0 1,0 -13.2,0zM792.14,212.62a6.6,6.6 0 1,0 13.2,0a6.6,6.6 0 1,0 -13.2,0zM792.3,212.61a6.6,6.6 0 1,0 13.2,0a6.6,6.6 0 1,0 -13.2,0zM792.46,212.59a6.6,6.6 0 1,0 13.2,0a6.6,6.6 0 1,0 -13.2,0zM792.62,212.58a6.6,6.6 0 1,0 13.2,0a6.6,6.6 0 1,0 -13.2,0zM792.78,212.56a6.6,6.6 0 1,0 13.2,0a6.6,6.6 0 1,0 -13.2,0zM792.93,212.55a6.6,6.6 0 1,0 13.2,0a6.6,6.6 0 1,0 -13.2,0zM793.09,212.54a6.6,6.6 0 1,0 13.2,0a6.6,6.6 0 1,0 -13.2,0zM793.25,212.53a6.6,6.6 0 1,0 13.2,0a6.6,6.6 0 1,0 -13.2,0zM793.41,212.52a6.6,6.6 0 1,0 13.2,0a6.6,6.6 0 1,0 -13.2,0zM793.57,212.52a6.6,6.6 0 1,0 13.2,0a6.6,6.6 0 1,0 -13.2,0zM793.72,212.51a6.6,6.6 0 1,0 13.2,0a6.6,6.6 0 1,0 -13.2,0zM793.88,212.51a6.6,6.6 0 1,0 13.2,0a6.6,6.6 0 1,0 -13.2,0zM794.04,212.5a6.6,6.6 0 1,0 13.2,0a6.6,6.6 0 1,0 -13.2,0zM794.2,212.5a6.6,6.6 0 1,0 13.2,0a6.6,6.6 0 1,0 -13.2,0zM794.35,212.5a6.6,6.6 0 1,0 13.2,0a6.6,6.6 0 1,0 -13.2,0zM794.51,212.5a6.6,6.6 0 1,0 13.2,0a6.6,6.6 0 1,0 -13.2,0zM794.67,212.5a6.6,6.6 0 1,0 13.2,0a6.6,6.6 0 1,0 -13.2,0zM794.82,212.51a6.6,6.6 0 1,0 13.2,0a6.6,6.6 0 1,0 -13.2,0zM794.98,212.51a6.6,6.6 0 1,0 13.2,0a6.6,6.6 0 1,0 -13.2,0zM795.13,212.52a6.6,6.6 0 1,0 13.2,0a6.6,6.6 0 1,0 -13.2,0zM795.29,212.52a6.6,6.6 0 1,0 13.2,0a6.6,6.6 0 1,0 -13.2,0zM795.44,212.53a6.6,6.6 0 1,0 13.2,0a6.6,6.6 0 1,0 -13.2,0zM795.6,212.54a6.6,6.6 0 1,0 13.2,0a6.6,6.6 0 1,0 -13.2,0zM795.76,212.55a6.6,6.6 0 1,0 13.2,0a6.6,6.6 0 1,0 -13.2,0zM795.91,212.56a6.6,6.6 0 1,0 13.2,0a6.6,6.6 0 1,0 -13.2,0zM796.07,212.58a6.6,6.6 0 1,0 13.2,0a6.6,6.6 0 1,0 -13.2,0zM796.22,212.59a6.6,6.6 0 1,0 13.2,0a6.6,6.6 0 1,0 -13.2,0zM796.37,212.6a6.6,6.6 0 1,0 13.2,0a6.6,6.6 0 1,0 -13.2,0zM796.53,212.62a6.6,6.6 0 1,0 13.2,0a6.6,6.6 0 1,0 -13.2,0zM796.68,212.63a6.6,6.6 0 1,0 13.2,0a6.6,6.6 0 1,0 -13.2,0zM796.84,212.65a6.6,6.6 0 1,0 13.2,0a6.6,6.6 0 1,0 -13.2,0zM796.99,212.66a6.6,6.6 0 1,0 13.2,0a6.6,6.6 0 1,0 -13.2,0zM797.14,212.68a6.6,6.6 0 1,0 13.2,0a6.6,6.6 0 1,0 -13.2,0zM797.3,212.69a6.6,6.6 0 1,0 13.2,0a6.6,6.6 0 1,0 -13.2,0zM797.45,212.71a6.6,6.6 0 1,0 13.2,0a6.6,6.6 0 1,0 -13.2,0zM797.6,212.73a6.6,6.6 0 1,0 13.2,0a6.6,6.6 0 1,0 -13.2,0zM797.76,212.74a6.6,6.6 0 1,0 13.2,0a6.6,6.6 0 1,0 -13.2,0zM797.91,212.76a6.6,6.6 0 1,0 13.2,0a6.6,6.6 0 1,0 -13.2,0zM798.06,212.77a6.6,6.6 0 1,0 13.2,0a6.6,6.6 0 1,0 -13.2,0zM798.21,212.79a6.6,6.6 0 1,0 13.2,0a6.6,6.6 0 1,0 -13.2,0zM798.37,212.8a6.6,6.6 0 1,0 13.2,0a6.6,6.6 0 1,0 -13.2,0zM798.52,212.81a6.6,6.6 0 1,0 13.2,0a6.6,6.6 0 1,0 -13.2,0zM798.67,212.83a6.6,6.6 0 1,0 13.2,0a6.6,6.6 0 1,0 -13.2,0zM798.82,212.84a6.6,6.6 0 1,0 13.2,0a6.6,6.6 0 1,0 -13.2,0zM798.97,212.85a6.6,6.6 0 1,0 13.2,0a6.6,6.6 0 1,0 -13.2,0zM799.13,212.86a6.6,6.6 0 1,0 13.2,0a6.6,6.6 0 1,0 -13.2,0zM799.28,212.87a6.6,6.6 0 1,0 13.2,0a6.6,6.6 0 1,0 -13.2,0zM799.43,212.88a6.6,6.6 0 1,0 13.2,0a6.6,6.6 0 1,0 -13.2,0zM799.58,212.88a6.6,6.6 0 1,0 13.2,0a6.6,6.6 0 1,0 -13.2,0zM799.73,212.89a6.6,6.6 0 1,0 13.2,0a6.6,6.6 0 1,0 -13.2,0zM799.88,212.89a6.6,6.6 0 1,0 13.2,0a6.6,6.6 0 1,0 -13.2,0zM800.03,212.9a6.6,6.6 0 1,0 13.2,0a6.6,6.6 0 1,0 -13.2,0zM800.18,212.9a6.6,6.6 0 1,0 13.2,0a6.6,6.6 0 1,0 -13.2,0zM800.33,212.9a6.6,6.6 0 1,0 13.2,0a6.6,6.6 0 1,0 -13.2,0zM800.48,212.9a6.6,6.6 0 1,0 13.2,0a6.6,6.6 0 1,0 -13.2,0zM800.63,212.9a6.6,6.6 0 1,0 13.2,0a6.6,6.6 0 1,0 -13.2,0zM800.78,212.9a6.6,6.6 0 1,0 13.2,0a6.6,6.6 0 1,0 -13.2,0zM800.93,212.89a6.6,6.6 0 1,0 13.2,0a6.6,6.6 0 1,0 -13.2,0zM801.08,212.89a6.6,6.6 0 1,0 13.2,0a6.6,6.6 0 1,0 -13.2,0zM801.23,212.88a6.6,6.6 0 1,0 13.2,0a6.6,6.6 0 1,0 -13.2,0zM801.38,212.87a6.6,6.6 0 1,0 13.2,0a6.6,6.6 0 1,0 -13.2,0zM801.53,212.86a6.6,6.6 0 1,0 13.2,0a6.6,6.6 0 1,0 -13.2,0zM801.67,212.86a6.6,6.6 0 1,0 13.2,0a6.6,6.6 0 1,0 -13.2,0zM801.82,212.85a6.6,6.6 0 1,0 13.2,0a6.6,6.6 0 1,0 -13.2,0zM801.97,212.83a6.6,6.6 0 1,0 13.2,0a6.6,6.6 0 1,0 -13.2,0zM802.12,212.82a6.6,6.6 0 1,0 13.2,0a6.6,6.6 0 1,0 -13.2,0zM802.27,212.81a6.6,6.6 0 1,0 13.2,0a6.6,6.6 0 1,0 -13.2,0zM802.42,212.8a6.6,6.6 0 1,0 13.2,0a6.6,6.6 0 1,0 -13.2,0zM802.56,212.78a6.6,6.6 0 1,0 13.2,0a6.6,6.6 0 1,0 -13.2,0zM802.71,212.77a6.6,6.6 0 1,0 13.2,0a6.6,6.6 0 1,0 -13.2,0zM802.86,212.75a6.6,6.6 0 1,0 13.2,0a6.6,6.6 0 1,0 -13.2,0zM803.01,212.74a6.6,6.6 0 1,0 13.2,0a6.6,6.6 0 1,0 -13.2,0zM803.15,212.72a6.6,6.6 0 1,0 13.2,0a6.6,6.6 0 1,0 -13.2,0zM803.3,212.71a6.6,6.6 0 1,0 13.2,0a6.6,6.6 0 1,0 -13.2,0zM803.45,212.69a6.6,6.6 0 1,0 13.2,0a6.6,6.6 0 1,0 -13.2,0zM803.59,212.68a6.6,6.6 0 1,0 13.2,0a6.6,6.6 0 1,0 -13.2,0zM803.74,212.66a6.6,6.6 0 1,0 13.2,0a6.6,6.6 0 1,0 -13.2,0zM803.89,212.65a6.6,6.6 0 1,0 13.2,0a6.6,6.6 0 1,0 -13.2,0zM804.03,212.63a6.6,6.6 0 1,0 13.2,0a6.6,6.6 0 1,0 -13.2,0zM804.18,212.62a6.6,6.6 0 1,0 13.2,0a6.6,6.6 0 1,0 -13.2,0zM804.32,212.6a6.6,6.6 0 1,0 13.2,0a6.6,6.6 0 1,0 -13.2,0zM804.47,212.59a6.6,6.6 0 1,0 13.2,0a6.6,6.6 0 1,0 -13.2,0zM804.61,212.58a6.6,6.6 0 1,0 13.2,0a6.6,6.6 0 1,0 -13.2,0zM804.76,212.57a6.6,6.6 0 1,0 13.2,0a6.6,6.6 0 1,0 -13.2,0zM804.91,212.55a6.6,6.6 0 1,0 13.2,0a6.6,6.6 0 1,0 -13.2,0zM805.05,212.54a6.6,6.6 0 1,0 13.2,0a6.6,6.6 0 1,0 -13.2,0zM805.2,212.54a6.6,6.6 0 1,0 13.2,0a6.6,6.6 0 1,0 -13.2,0zM805.34,212.53a6.6,6.6 0 1,0 13.2,0a6.6,6.6 0 1,0 -13.2,0zM805.48,212.52a6.6,6.6 0 1,0 13.2,0a6.6,6.6 0 1,0 -13.2,0zM805.63,212.51a6.6,6.6 0 1,0 13.2,0a6.6,6.6 0 1,0 -13.2,0zM805.77,212.51a6.6,6.6 0 1,0 13.2,0a6.6,6.6 0 1,0 -13.2,0zM805.92,212.5a6.6,6.6 0 1,0 13.2,0a6.6,6.6 0 1,0 -13.2,0zM806.06,212.5a6.6,6.6 0 1,0 13.2,0a6.6,6.6 0 1,0 -13.2,0zM806.21,212.5a6.6,6.6 0 1,0 13.2,0a6.6,6.6 0 1,0 -13.2,0zM806.35,212.5a6.6,6.6 0 1,0 13.2,0a6.6,6.6 0 1,0 -13.2,0zM806.49,212.5a6.6,6.6 0 1,0 13.2,0a6.6,6.6 0 1,0 -13.2,0z"/>
<path stroke="#0000ff" d="M116.47,732.01L137.24,729.81L155.29,727.02L171.24,723.67L185.54,719.76L198.49,715.31L210.34,710.34L221.24,704.85L231.34,698.86L240.76,692.38L249.57,685.43L257.85,678.03L265.67,670.2L273.06,661.96L280.08,653.24L286.76,643.57L293.13,633.58L299.22,623.31L305.05,612.79L310.64,602.05L316.02,591.12L321.19,580.02L326.18,568.76L330.99,557.36L335.64,545.83L340.14,534.2L344.5,522.49L348.72,510.7L352.82,498.83L356.8,486.94L360.67,475.04L364.43,463.17L368.09,451.34L371.66,439.6L375.14,427.95L378.53,416.27L381.84,404.69L385.07,393.37L388.23,382.28L391.32,371.43L394.34,360.86L397.3,350.61L400.19,340.64L403.02,331L405.8,321.74L408.52,312.91L411.19,304.41L413.81,296.23L416.38,288.4L418.9,280.93L421.38,273.82L423.82,267.08L426.21,260.71L428.56,254.73L430.87,249.13L433.14,243.89L435.38,239L437.58,234.44L439.75,230.22L441.88,226.34L443.98,222.78L446.05,219.55L448.09,216.62L450.1,213.98L452.08,211.63L454.03,209.55L455.95,207.73L457.85,206.18L459.72,204.87L461.57,203.79L463.39,202.95L465.19,202.32L466.97,202.08L468.72,202.25L470.45,202.64L472.16,203.21L473.85,203.96L475.52,204.87L477.17,205.93L478.8,207.11L480.41,208.41L482,209.81L483.57,211.29L485.13,212.84L486.66,214.45L488.18,216.09L489.69,217.76L491.18,219.44L492.65,221.13L494.11,222.8L495.55,224.45L496.97,226.07L498.39,227.64L499.78,229.16L501.17,230.62L502.54,232.01L503.89,233.32L505.24,234.54L506.57,235.68L507.89,236.72L509.19,237.66L510.48,238.49L511.76,239.22L513.03,239.84L514.29,240.35L515.54,240.75L516.77,241.04L518,241.22L519.21,241.29L520.41,241.26L521.6,241.11L522.79,240.87L523.96,240.53L525.12,240.09L526.27,239.57L527.42,238.96L528.55,238.27L529.67,237.5L530.79,236.67L531.9,235.77L532.99,234.81L534.08,233.81L535.16,232.76L536.23,231.68L537.3,230.56L538.35,229.42L539.4,228.26L540.44,227.09L541.47,225.92L542.49,224.75L543.51,223.59L544.52,222.44L545.52,221.31L546.52,220.21L547.5,219.14L548.48,218.1L549.46,217.11L550.42,216.15L551.38,215.25L552.34,214.4L553.28,213.6L554.22,212.86L555.16,212.18L556.09,211.56L557.01,211.01L557.92,210.52L558.83,210.09L559.74,209.74L560.63,209.45L561.52,209.22L562.41,209.06L563.29,208.96L564.16,208.93L565.03,208.96L565.9,209.04L566.76,209.18L567.61,209.38L568.46,209.63L569.3,209.92L570.14,210.26L570.97,210.64L571.8,211.06L572.62,211.51L573.44,212L574.25,212.5L575.06,213.03L575.86,213.58L576.66,214.14L577.45,214.72L578.24,215.29L579.03,215.87L579.81,216.45L580.58,217.02L581.36,217.59L582.12,218.14L582.89,218.67L583.65,219.18L584.4,219.68L585.15,220.14L585.9,220.58L586.64,220.99L587.38,221.36L588.12,221.7L588.85,222.01L589.57,222.27L590.3,222.5L591.02,222.69L591.73,222.84L592.44,222.95L593.15,223.01L593.86,223.04L594.56,223.02L595.26,222.97L595.95,222.88L596.64,222.75L597.33,222.58L598.01,222.37L598.69,222.14L599.37,221.87L600.04,221.57L600.71,221.25L601.38,220.9L602.04,220.52L602.71,220.13L603.36,219.71L604.02,219.29L604.67,218.84L605.32,218.39L605.96,217.93L606.61,217.47L607.24,217.01L607.88,216.54L608.51,216.08L609.15,215.62L609.77,215.18L610.4,214.74L611.02,214.32L611.64,213.91L612.26,213.52L612.87,213.15L613.48,212.8L614.09,212.47L614.69,212.16L615.3,211.88L615.9,211.63L616.5,211.41L617.09,211.21L617.68,211.04L618.27,210.9L618.86,210.79L619.45,210.71L620.03,210.66L620.61,210.64L621.19,210.65L621.76,210.68L622.34,210.74L622.91,210.83L623.47,210.94L624.04,211.08L624.6,211.24L625.17,211.42L625.72,211.62L626.28,211.84L626.84,212.08L627.39,212.33L627.94,212.59L628.49,212.87L629.03,213.15L629.58,213.44L630.12,213.73L630.66,214.03L631.19,214.33L631.73,214.62L632.26,214.92L632.79,215.21L633.32,215.49L633.85,215.76L634.37,216.03L634.9,216.28L635.42,216.52L635.94,216.75L636.45,216.96L636.97,217.15L637.48,217.33L637.99,217.48L638.5,217.62L639.01,217.74L639.52,217.83L640.02,217.91L640.52,217.96L641.02,217.99L641.52,218L642.02,217.99L642.51,217.96L643.01,217.91L643.5,217.83L643.99,217.74L644.47,217.63L644.96,217.5L645.45,217.35L645.93,217.19L646.41,217.01L646.89,216.82L647.37,216.61L647.84,216.4L648.32,216.17L648.79,215.94L649.26,215.7L649.73,215.45L650.2,215.2L650.66,214.95L651.13,214.69L651.59,214.44L652.05,214.19L652.51,213.94L652.97,213.7L653.43,213.46L653.89,213.23L654.34,213.01L654.79,212.8L655.24,212.6L655.69,212.41L656.14,212.24L656.59,212.08L657.03,211.93L657.48,211.8L657.92,211.68L658.36,211.58L658.8,211.5L659.24,211.43L659.68,211.39L660.11,211.35L660.55,211.34L660.98,211.34L661.41,211.36L661.84,211.39L662.27,211.44L662.7,211.51L663.12,211.59L663.55,211.68L663.97,211.79L664.39,211.9L664.81,212.03L665.23,212.17L665.65,212.32L666.07,212.48L666.48,212.65L666.9,212.82L667.31,212.99L667.72,213.17L668.13,213.35L668.54,213.54L668.95,213.72L669.36,213.9L669.76,214.08L670.17,214.26L670.57,214.43L670.98,214.6L671.38,214.76L671.78,214.91L672.18,215.05L672.57,215.19L672.97,215.31L673.37,215.43L673.76,215.53L674.15,215.62L674.55,215.7L674.94,215.77L675.33,215.82L675.72,215.86L676.1,215.88L676.49,215.9L676.88,215.9L677.26,215.88L677.64,215.86L678.03,215.82L678.41,215.76L678.79,215.7L679.17,215.62L679.54,215.53L679.92,215.44L680.3,215.33L680.67,215.21L681.05,215.08L681.42,214.95L681.79,214.81L682.16,214.67L682.53,214.51L682.9,214.36L683.27,214.2L683.64,214.04L684,213.88L684.37,213.72L684.73,213.56L685.1,213.4L685.46,213.25L685.82,213.09L686.18,212.94L686.54,212.8L686.9,212.66L687.25,212.53L687.61,212.41L687.97,212.3L688.32,212.19L688.68,212.09L689.03,212.01L689.38,211.93L689.73,211.86L690.08,211.81L690.43,211.76L690.78,211.73L691.13,211.71L691.47,211.7L691.82,211.7L692.17,211.71L692.51,211.73L692.85,211.76L693.19,211.8L693.54,211.85L693.88,211.92L694.22,211.99L694.56,212.06L694.89,212.15L695.23,212.24L695.57,212.34L695.9,212.45L696.24,212.56L696.57,212.67L696.91,212.79L697.24,212.91L697.57,213.04L697.9,213.16L698.23,213.29L698.56,213.41L698.89,213.53L699.22,213.65L699.54,213.77L699.87,213.89L700.2,214L700.52,214.1L700.85,214.2L701.17,214.3L701.49,214.39L701.81,214.47L702.13,214.54L702.45,214.61L702.77,214.66L703.09,214.71L703.41,214.75L703.73,214.78L704.04,214.8L704.36,214.81L704.67,214.82L704.99,214.81L705.3,214.79L705.62,214.77L705.93,214.73L706.24,214.69L706.55,214.64L706.86,214.58L707.17,214.52L707.48,214.45L707.79,214.37L708.09,214.28L708.4,214.19L708.71,214.09L709.01,213.99L709.32,213.89L709.62,213.78L709.92,213.68L710.23,213.56L710.53,213.45L710.83,213.34L711.13,213.23L711.43,213.12L711.73,213.01L712.03,212.9L712.33,212.8L712.62,212.7L712.92,212.6L713.22,212.51L713.51,212.42L713.81,212.34L714.1,212.26L714.39,212.2L714.69,212.13L714.98,212.08L715.27,212.03L715.56,211.99L715.85,211.96L716.14,211.93L716.43,211.92L716.72,211.91L717.01,211.91L717.3,211.91L717.58,211.93L717.87,211.95L718.16,211.98L718.44,212.02L718.72,212.06L719.01,212.11L719.29,212.16L719.57,212.23L719.86,212.29L720.14,212.36L720.42,212.44L720.7,212.52L720.98,212.6L721.26,212.69L721.54,212.78L721.82,212.86L722.09,212.96L722.37,213.05L722.65,213.14L722.92,213.23L723.2,213.31L723.47,213.4L723.75,213.49L724.02,213.57L724.3,213.65L724.57,213.72L724.84,213.79L725.11,213.85L725.38,213.92L725.65,213.97L725.92,214.02L726.19,214.06L726.46,214.1L726.73,214.13L727,214.15L727.27,214.17L727.53,214.18L727.8,214.18L728.06,214.18L728.33,214.17L728.59,214.15L728.86,214.13L729.12,214.1L729.39,214.07L729.65,214.02L729.91,213.98L730.17,213.93L730.43,213.87L730.7,213.81L730.96,213.74L731.22,213.67L731.47,213.6L731.73,213.52L731.99,213.44L732.25,213.36L732.51,213.28L732.76,213.2L733.02,213.12L733.28,213.03L733.53,212.95L733.79,212.87L734.04,212.79L734.3,212.71L734.55,212.64L734.8,212.57L735.06,212.5L735.31,212.43L735.56,212.37L735.81,212.31L736.06,212.26L736.31,212.22L736.56,212.17L736.81,212.14L737.06,212.11L737.31,212.08L737.56,212.06L737.81,212.05L738.05,212.04L738.3,212.04L738.55,212.05L738.79,212.06L739.04,212.07L739.28,212.09L739.53,212.12L739.77,212.15L740.01,212.19L740.26,212.23L740.5,212.28L740.74,212.33L740.99,212.38L741.23,212.44L741.47,212.5L741.71,212.56L741.95,212.63L742.19,212.69L742.43,212.76L742.67,212.83L742.91,212.9L743.15,212.97L743.38,213.04L743.62,213.1L743.86,213.17L744.09,213.24L744.33,213.3L744.57,213.36L744.8,213.42L745.04,213.47L745.27,213.52L745.51,213.57L745.74,213.61L745.97,213.65L746.21,213.68L746.44,213.71L746.67,213.74L746.9,213.76L747.13,213.77L747.37,213.78L747.6,213.78L747.83,213.78L748.06,213.77L748.29,213.76L748.52,213.75L748.74,213.72L748.97,213.7L749.2,213.67L749.43,213.63L749.66,213.59L749.88,213.55L750.11,213.5L750.34,213.45L750.56,213.4L750.79,213.34L751.01,213.28L751.24,213.22L751.46,213.16L751.68,213.1L751.91,213.04L752.13,212.97L752.35,212.91L752.58,212.85L752.8,212.78L753.02,212.72L753.24,212.66L753.46,212.6L753.68,212.55L753.9,212.49L754.12,212.44L754.34,212.39L754.56,212.35L754.78,212.31L755,212.27L755.22,212.24L755.44,212.21L755.65,212.19L755.87,212.17L756.09,212.15L756.31,212.14L756.52,212.13L756.74,212.13L756.95,212.14L757.17,212.14L757.38,212.16L757.6,212.17L757.81,212.19L758.03,212.22L758.24,212.25L758.45,212.28L758.67,212.32L758.88,212.35L759.09,212.4L759.3,212.44L759.51,212.49L759.73,212.54L759.94,212.59L760.15,212.64L760.36,212.69L760.57,212.75L760.78,212.8L760.99,212.86L761.2,212.91L761.4,212.97L761.61,213.02L761.82,213.07L762.03,213.12L762.24,213.17L762.44,213.21L762.65,213.26L762.86,213.3L763.06,213.33L763.27,213.37L763.47,213.4L763.68,213.43L763.88,213.45L764.09,213.47L764.29,213.49L764.5,213.5L764.7,213.51L764.9,213.51L765.11,213.51L765.31,213.51L765.51,213.5L765.72,213.48L765.92,213.47L766.12,213.45L766.32,213.42L766.52,213.39L766.72,213.36L766.92,213.33L767.12,213.29L767.32,213.25L767.52,213.21L767.72,213.17L767.92,213.12L768.12,213.07L768.32,213.03L768.52,212.98L768.72,212.93L768.91,212.87L769.11,212.82L769.31,212.77L769.5,212.72L769.7,212.67L769.9,212.63L770.09,212.58L770.29,212.53L770.48,212.49L770.68,212.45L770.87,212.41L771.07,212.38L771.26,212.34L771.46,212.31L771.65,212.29L771.84,212.26L772.04,212.24L772.23,212.23L772.42,212.21L772.62,212.21L772.81,212.2L773,212.2L773.19,212.2L773.38,212.21L773.57,212.22L773.76,212.23L773.95,212.25L774.14,212.27L774.33,212.29L774.52,212.32L774.71,212.34L774.9,212.38L775.09,212.41L775.28,212.45L775.47,212.48L775.66,212.52L775.85,212.56L776.03,212.61L776.22,212.65L776.41,212.69L776.59,212.74L776.78,212.78L776.97,212.83L777.15,212.87L777.34,212.91L777.53,212.95L777.71,212.99L777.9,213.03L778.08,213.07L778.27,213.11L778.45,213.14L778.63,213.17L778.82,213.2L779,213.22L779.19,213.25L779.37,213.27L779.55,213.28L779.73,213.3L779.92,213.31L780.1,213.31L780.28,213.32L780.46,213.32L780.64,213.31L780.83,213.31L781.01,213.3L781.19,213.28L781.37,213.27L781.55,213.25L781.73,213.23L781.91,213.2L782.09,213.17L782.27,213.15L782.45,213.11L782.63,213.08L782.8,213.04L782.98,213.01L783.16,212.97L783.34,212.93L783.52,212.89L783.69,212.85L783.87,212.8L784.05,212.76L784.23,212.72L784.4,212.68L784.58,212.64L784.75,212.6L784.93,212.56L785.11,212.53L785.28,212.49L785.46,212.46L785.63,212.43L785.81,212.4L785.98,212.37L786.16,212.34L786.33,212.32L786.5,212.3L786.68,212.29L786.85,212.27L787.02,212.26L787.2,212.25L787.37,212.25L787.54,212.25L787.72,212.25L787.89,212.25L788.06,212.26L788.23,212.27L788.4,212.29L788.57,212.3L788.75,212.32L788.92,212.34L789.09,212.37L789.26,212.39L789.43,212.42L789.6,212.45L789.77,212.48L789.94,212.51L790.11,212.55L790.28,212.58L790.45,212.62L790.61,212.65L790.78,212.69L790.95,212.73L791.12,212.76L791.29,212.8L791.46,212.84L791.62,212.87L791.79,212.9L791.96,212.94L792.13,212.97L792.29,213L792.46,213.03L792.62,213.05L792.79,213.08L792.96,213.1L793.12,213.12L793.29,213.13L793.45,213.15L793.62,213.16L793.78,213.17L793.95,213.17L794.11,213.18L794.28,213.18L794.44,213.17L794.61,213.17L794.77,213.16L794.93,213.15L795.1,213.14L795.26,213.12L795.42,213.1L795.59,213.08L795.75,213.06L795.91,213.04L796.07,213.01L796.24,212.98L796.4,212.95L796.56,212.92L796.72,212.89L796.88,212.86L797.04,212.82L797.2,212.79L797.37,212.75L797.53,212.72L797.69,212.68L797.85,212.65L798.01,212.62L798.17,212.58L798.33,212.55L798.49,212.52L798.64,212.49L798.8,212.46L798.96,212.44L799.12,212.41L799.28,212.39L799.44,212.37L799.6,212.35L799.75,212.33L799.91,212.32L800.07,212.31L800.23,212.3L800.38,212.29L800.54,212.29L800.7,212.29L800.86,212.29L801.01,212.29L801.17,212.3L801.32,212.31L801.48,212.32L801.64,212.33L801.79,212.35L801.95,212.36L802.1,212.38L802.26,212.4L802.41,212.43L802.57,212.45L802.72,212.48L802.88,212.51L803.03,212.53L803.19,212.56L803.34,212.59L803.49,212.62L803.65,212.66L803.8,212.69L803.95,212.72L804.11,212.75L804.26,212.78L804.41,212.81L804.57,212.84L804.72,212.86L804.87,212.89L805.02,212.92L805.17,212.94L805.33,212.96L805.48,212.98L805.63,213L805.78,213.02L805.93,213.03L806.08,213.04L806.23,213.05L806.38,213.06L806.53,213.07L806.68,213.07L806.83,213.07L806.98,213.07L807.13,213.06L807.28,213.06L807.43,213.05L807.58,213.04L807.73,213.02L807.88,213.01L808.03,212.99L808.18,212.97L808.33,212.95L808.47,212.93L808.62,212.91L808.77,212.88L808.92,212.86L809.07,212.83L809.21,212.8L809.36,212.77L809.51,212.74L809.66,212.71L809.8,212.68L809.95,212.66L810.1,212.63L810.24,212.6L810.39,212.57L810.53,212.54L810.68,212.52L810.83,212.49L810.97,212.47L811.12,212.44L811.26,212.42L811.41,212.4L811.55,212.39L811.7,212.37L811.84,212.36L811.99,212.34L812.13,212.33L812.28,212.33L812.42,212.32L812.56,212.32L812.71,212.32L812.85,212.32"/>
<path fill="#0000ff" stroke="none" d="M116.47,725.11l6.65,10.35h-13.3zM137.24,722.91l6.65,10.35h-13.3zM155.29,720.12l6.65,10.35h-13.3zM171.24,716.77l6.65,10.35h-13.3zM185.54,712.86l6.65,10.35h-13.3zM198.49,708.41l6.65,10.35h-13.3zM210.34,703.44l6.65,10.35h-13.3zM221.24,697.95l6.65,10.35h-13.3zM231.34,691.96l6.65,10.35h-13.3zM240.76,685.48l6.65,10.35h-13.3zM249.57,678.53l6.65,10.35h-13.3zM257.85,671.13l6.65,10.35h-13.3zM265.67,663.3l6.65,10.35h-13.3zM273.06,655.06l6.65,10.35h-13.3zM280.08,646.34l6.65,10.35h-13.3zM286.76,636.67l6.65,10.35h-13.3zM293.13,626.68l6.65,10.35h-13.3zM299.22,616.41l6.65,10.35h-13.3zM305.05,605.89l6.65,10.35h-13.3zM310.64,595.15l6.65,10.35h-13.3zM316.02,584.22l6.65,10.35h-13.3zM321.19,573.12l6.65,10.35h-13.3zM326.18,561.86l6.65,10.35h-13.3zM330.99,550.46l6.65,10.35h-13.3zM335.64,538.93l6.65,10.35h-13.3zM340.14,527.3l6.65,10.35h-13.3zM344.5,515.59l6.65,10.35h-13.3zM348.72,503.8l6.65,10.35h-13.3zM352.82,491.93l6.65,10.35h-13.3zM356.8,480.04l6.65,10.35h-13.3zM360.67,468.14l6.65,10.35h-13.3zM364.43,456.27l6.65,10.35h-13.3zM368.09,444.44l6.65,10.35h-13.3zM371.66,432.7l6.65,10.35h-13.3zM375.14,421.05l6.65,10.35h-13.3zM378.53,409.37l6.65,10.35h-13.3zM381.84,397.79l6.65,10.35h-13.3zM385.07,386.47l6.65,10.35h-13.3zM388.23,375.38l6.65,10.35h-13.3zM391.32,364.53l6.65,10.35h-13.3zM394.34,353.96l6.65,10.35h-13.3zM397.3,343.71l6.65,10.35h-13.3zM400.19,333.74l6.65,10.35h-13.3zM403.02,324.1l6.65,10.35h-13.3zM405.8,314.84l6.65,10.35h-13.3zM408.52,306.01l6.65,10.35h-13.3zM411.19,297.51l6.65,10.35h-13.3zM413.81,289.33l6.65,10.35h-13.3zM416.38,281.5l6.65,10.35h-13.3zM418.9,274.03l6.65,10.35h-13.3zM421.38,266.92l6.65,10.35h-13.3zM423.82,260.18l6.65,10.35h-13.3zM426.21,253.81l6.65,10.35h-13.3zM428.56,247.83l6.65,10.35h-13.3zM430.87,242.23l6.65,10.35h-13.3zM433.14,236.99l6.65,10.35h-13.3zM435.38,232.1l6.65,10.35h-13.3zM437.58,227.54l6.65,10.35h-13.3zM439.75,223.32l6.65,10.35h-13.3zM441.88,219.44l6.65,10.35h-13.3zM443.98,215.88l6.65,10.35h-13.3zM446.05,212.65l6.65,10.35h-13.3zM448.09,209.72l6.65,10.35h-13.3zM450.1,207.08l6.65,10.35h-13.3zM452.08,204.73l6.65,10.35h-13.3zM454.03,202.65l6.65,10.35h-13.3zM455.95,200.83l6.65,10.35h-13.3zM457.85,199.28l6.65,10.35h-13.3zM459.72,197.97l6.65,10.35h-13.3zM461.57,196.89l6.65,10.35h-13.3zM463.39,196.05l6.65,10.35h-13.3zM465.19,195.42l6.65,10.35h-13.3zM466.97,195.18l6.65,10.35h-13.3zM468.72,195.35l6.65,10.35h-13.3zM470.45,195.74l6.65,10.35h-13.3zM472.16,196.31l6.65,10.35h-13.3zM473.85,197.06l6.65,10.35h-13.3zM475.52,197.97l6.65,10.35h-13.3zM477.17,199.03l6.65,10.35h-13.3zM478.8,200.21l6.65,10.35h-13.3zM480.41,201.51l6.65,10.35h-13.3zM482,202.91l6.65,10.35h-13.3zM483.57,204.39l6.65,10.35h-13.3zM485.13,205.94l6.65,10.35h-13.3zM486.66,207.55l6.65,10.35h-13.3zM488.18,209.19l6.65,10.35h-13.3zM489.69,210.86l6.65,10.35h-13.3zM491.18,212.54l6.65,10.35h-13.3zM492.65,214.23l6.65,10.35h-13.3zM494.11,215.9l6.65,10.35h-13.3zM495.55,217.55l6.65,10.35h-13.3zM496.97,219.17l6.65,10.35h-13.3zM498.39,220.74l6.65,10.35h-13.3zM499.78,222.26l6.65,10.35h-13.3zM501.17,223.72l6.65,10.35h-13.3zM502.54,225.11l6.65,10.35h-13.3zM503.89,226.42l6.65,10.35h-13.3zM505.24,227.64l6.65,10.35h-13.3zM506.57,228.78l6.65,10.35h-13.3zM507.89,229.82l6.65,10.35h-13.3zM509.19,230.76l6.65,10.35h-13.3zM510.48,231.59l6.65,10.35h-13.3zM511.76,232.32l6.65,10.35h-13.3zM513.03,232.94l6.65,10.35h-13.3zM514.29,233.45l6.65,10.35h-13.3zM515.54,233.85l6.65,10.35h-13.3zM516.77,234.14l6.65,10.35h-13.3zM518,234.32l6.65,10.35h-13.3zM519.21,234.39l6.65,10.35h-13.3zM520.41,234.36l6.65,10.35h-13.3zM521.6,234.21l6.65,10.35h-13.3zM522.79,233.97l6.65,10.35h-13.3zM523.96,233.63l6.65,10.35h-13.3zM525.12,233.19l6.65,10.35h-13.3zM526.27,232.67l6.65,10.35h-13.3zM527.42,232.06l6.65,10.35h-13.3zM528.55,231.37l6.65,10.35h-13.3zM529.67,230.6l6.65,10.35h-13.3zM530.79,229.77l6.65,10.35h-13.3zM531.9,228.87l6.65,10.35h-13.3zM532.99,227.91l6.65,10.35h-13.3zM534.08,226.91l6.65,10.35h-13.3zM535.16,225.86l6.65,10.35h-13.3zM536.23,224.78l6.65,10.35h-13.3zM537.3,223.66l6.65,10.35h-13.3zM538.35,222.52l6.65,10.35h-13.3zM539.4,221.36l6.65,10.35h-13.3zM540.44,220.19l6.65,10.35h-13.3zM541.47,219.02l6.65,10.35h-13.3zM542.49,217.85l6.65,10.35h-13.3zM543.51,216.69l6.65,10.35h-13.3zM544.52,215.54l6.65,10.35h-13.3zM545.52,214.41l6.65,10.35h-13.3zM546.52,213.31l6.65,10.35h-13.3zM547.5,212.24l6.65,10.35h-13.3zM548.48,211.2l6.65,10.35h-13.3zM549.46,210.21l6.65,10.35h-13.3zM550.42,209.25l6.65,10.35h-13.3zM551.38,208.35l6.65,10.35h-13.3zM552.34,207.5l6.65,10.35h-13.3zM553.28,206.7l6.65,10.35h-13.3zM554.22,205.96l6.65,10.35h-13.3zM555.16,205.28l6.65,10.35h-13.3zM556.09,204.66l6.65,10.35h-13.3zM557.01,204.11l6.65,10.35h-13.3zM557.92,203.62l6.65,10.35h-13.3zM558.83,203.19l6.65,10.35h-13.3zM559.74,202.84l6.65,10.35h-13.3zM560.63,202.55l6.65,10.35h-13.3zM561.52,202.32l6.65,10.35h-13.3zM562.41,202.16l6.65,10.35h-13.3zM563.29,202.06l6.65,10.35h-13.3zM564.16,202.03l6.65,10.35h-13.3zM565.03,202.06l6.65,10.35h-13.3zM565.9,202.14l6.65,10.35h-13.3zM566.76,202.28l6.65,10.35h-13.3zM567.61,202.48l6.65,10.35h-13.3zM568.46,202.73l6.65,10.35h-13.3zM569.3,203.02l6.65,10.35h-13.3zM570.14,203.36l6.65,10.35h-13.3zM570.97,203.74l6.65,10.35h-13.3zM571.8,204.16l6.65,10.35h-13.3zM572.62,204.61l6.65,10.35h-13.3zM573.44,205.1l6.65,10.35h-13.3zM574.25,205.6l6.65,10.35h-13.3zM575.06,206.13l6.65,10.35h-13.3zM575.86,206.68l6.65,10.35h-13.3zM576.66,207.24l6.65,10.35h-13.3zM577.45,207.82l6.65,10.35h-13.3zM578.24,208.39l6.65,10.35h-13.3zM579.03,208.97l6.65,10.35h-13.3zM579.81,209.55l6.65,10.35h-13.3zM580.58,210.12l6.65,10.35h-13.3zM581.36,210.69l6.65,10.35h-13.3zM582.12,211.24l6.65,10.35h-13.3zM582.89,211.77l6.65,10.35h-13.3zM583.65,212.28l6.65,10.35h-13.3zM584.4,212.78l6.65,10.35h-13.3zM585.15,213.24l6.65,10.35h-13.3zM585.9,213.68l6.65,10.35h-13.3zM586.64,214.09l6.65,10.35h-13.3zM587.38,214.46l6.65,10.35h-13.3zM588.12,214.8l6.65,10.35h-13.3zM588.85,215.11l6.65,10.35h-13.3zM589.57,215.37l6.65,10.35h-13.3zM590.3,215.6l6.65,10.35h-13.3zM591.02,215.79l6.65,10.35h-13.3zM591.73,215.94l6.65,10.35h-13.3zM592.44,216.05l6.65,10.35h-13.3zM593.15,216.11l6.65,10.35h-13.3zM593.86,216.14l6.65,10.35h-13.3zM594.56,216.12l6.65,10.35h-13.3zM595.26,216.07l6.65,10.35h-13.3zM595.95,215.98l6.65,10.35h-13.3zM596.64,215.85l6.65,10.35h-13.3zM597.33,215.68l6.65,10.35h-13.3zM598.01,215.47l6.65,10.35h-13.3zM598.69,215.24l6.65,10.35h-13.3zM599.37,214.97l6.65,10.35h-13.3zM600.04,214.67l6.65,10.35h-13.3zM600.71,214.35l6.65,10.35h-13.3zM601.38,214l6.65,10.35h-13.3zM602.04,213.62l6.65,10.35h-13.3zM602.71,213.23l6.65,10.35h-13.3zM603.36,212.81l6.65,10.35h-13.3zM604.02,212.39l6.65,10.35h-13.3zM604.67,211.94l6.65,10.35h-13.3zM605.32,211.49l6.65,10.35h-13.3zM605.96,211.03l6.65,10.35h-13.3zM606.61,210.57l6.65,10.35h-13.3zM607.24,210.11l6.65,10.35h-13.3zM607.88,209.64l6.65,10.35h-13.3zM608.51,209.18l6.65,10.35h-13.3zM609.15,208.72l6.65,10.35h-13.3zM609.77,208.28l6.65,10.35h-13.3zM610.4,207.84l6.65,10.35h-13.3zM611.02,207.42l6.65,10.35h-13.3zM611.64,207.01l6.65,10.35h-13.3zM612.26,206.62l6.65,10.35h-13.3zM612.87,206.25l6.65,10.35h-13.3zM613.48,205.9l6.65,10.35h-13.3zM614.09,205.57l6.65,10.35h-13.3zM614.69,205.26l6.65,10.35h-13.3zM615.3,204.98l6.65,10.35h-13.3zM615.9,204.73l6.65,10.35h-13.3zM616.5,204.51l6.65,10.35h-13.3zM617.09,204.31l6.65,10.35h-13.3zM617.68,204.14l6.65,10.35h-13.3zM618.27,204l6.65,10.35h-13.3zM618.86,203.89l6.65,10.35h-13.3zM619.45,203.81l6.65,10.35h-13.3zM620.03,203.76l6.65,10.35h-13.3zM620.61,203.74l6.65,10.35h-13.3zM621.19,203.75l6.65,10.35h-13.3zM621.76,203.78l6.65,10.35h-13.3zM622.34,203.84l6.65,10.35h-13.3zM622.91,203.93l6.65,10.35h-13.3zM623.47,204.04l6.65,10.35h-13.3zM624.04,204.18l6.65,10.35h-13.3zM624.6,204.34l6.65,10.35h-13.3zM625.17,204.52l6.65,10.35h-13.3zM625.72,204.72l6.65,10.35h-13.3zM626.28,204.94l6.65,10.35h-13.3zM626.84,205.18l6.65,10.35h-13.3zM627.39,205.43l6.65,10.35h-13.3zM627.94,205.69l6.65,10.35h-13.3zM628.49,205.97l6.65,10.35h-13.3zM629.03,206.25l6.65,10.35h-13.3zM629.58,206.54l6.65,10.35h-13.3zM630.12,206.83l6.65,10.35h-13.3zM630.66,207.13l6.65,10.35h-13.3zM631.19,207.43l6.65,10.35h-13.3zM631.73,207.72l6.65,10.35h-13.3zM632.26,208.02l6.65,10.35h-13.3zM632.79,208.31l6.65,10.35h-13.3zM633.32,208.59l6.65,10.35h-13.3zM633.85,208.86l6.65,10.35h-13.3zM634.37,209.13l6.65,10.35h-13.3zM634.9,209.38l6.65,10.35h-13.3zM635.42,209.62l6.65,10.35h-13.3zM635.94,209.85l6.65,10.35h-13.3zM636.45,210.06l6.65,10.35h-13.3zM636.97,210.25l6.65,10.35h-13.3zM637.48,210.43l6.65,10.35h-13.3zM637.99,210.58l6.65,10.35h-13.3zM638.5,210.72l6.65,10.35h-13.3zM639.01,210.84l6.65,10.35h-13.3zM639.52,210.93l6.65,10.35h-13.3zM640.02,211.01l6.65,10.35h-13.3zM640.52,211.06l6.65,10.35h-13.3zM641.02,211.09l6.65,10.35h-13.3zM641.52,211.1l6.65,10.35h-13.3zM642.02,211.09l6.65,10.35h-13.3zM642.51,211.06l6.65,10.35h-13.3zM643.01,211.01l6.65,10.35h-13.3zM643.5,210.93l6.65,10.35h-13.3zM643.99,210.84l6.65,10.35h-13.3zM644.47,210.73l6.65,10.35h-13.3zM644.96,210.6l6.65,10.35h-13.3zM645.45,210.45l6.65,10.35h-13.3zM645.93,210.29l6.65,10.35h-13.3zM646.41,210.11l6.65,10.35h-13.3zM646.89,209.92l6.65,10.35h-13.3zM647.37,209.71l6.65,10.35h-13.3zM647.84,209.5l6.65,10.35h-13.3zM648.32,209.27l6.65,10.35h-13.3zM648.79,209.04l6.65,10.35h-13.3zM649.26,208.8l6.65,10.35h-13.3zM649.73,208.55l6.65,10.35h-13.3zM650.2,208.3l6.65,10.35h-13.3zM650.66,208.05l6.65,10.35h-13.3zM651.13,207.79l6.65,10.35h-13.3zM651.59,207.54l6.65,10.35h-13.3zM652.05,207.29l6.65,10.35h-13.3zM652.51,207.04l6.65,10.35h-13.3zM652.97,206.8l6.65,10.35h-13.3zM653.43,206.56l6.65,10.35h-13.3zM653.89,206.33l6.65,10.35h-13.3zM654.34,206.11l6.65,10.35h-13.3zM654.79,205.9l6.65,10.35h-13.3zM655.24,205.7l6.65,10.35h-13.3zM655.69,205.51l6.65,10.35h-13.3zM656.14,205.34l6.65,10.35h-13.3zM656.59,205.18l6.65,10.35h-13.3zM657.03,205.03l6.65,10.35h-13.3zM657.48,204.9l6.65,10.35h-13.3zM657.92,204.78l6.65,10.35h-13.3zM658.36,204.68l6.65,10.35h-13.3zM658.8,204.6l6.65,10.35h-13.3zM659.24,204.53l6.65,10.35h-13.3zM659.68,204.49l6.65,10.35h-13.3zM660.11,204.45l6.65,10.35h-13.3zM660.55,204.44l6.65,10.35h-13.3zM660.98,204.44l6.65,10.35h-13.3zM661.41,204.46l6.65,10.35h-13.3zM661.84,204.49l6.65,10.35h-13.3zM662.27,204.54l6.65,10.35h-13.3zM662.7,204.61l6.65,10.35h-13.3zM663.12,204.69l6.65,10.35h-13.3zM663.55,204.78l6.65,10.35h-13.3zM663.97,204.89l6.65,10.35h-13.3zM664.39,205l6.65,10.35h-13.3zM664.81,205.13l6.65,10.35h-13.3zM665.23,205.27l6.65,10.35h-13.3zM665.65,205.42l6.65,10.35h-13.3zM666.07,205.58l6.65,10.35h-13.3zM666.48,205.75l6.65,10.35h-13.3zM666.9,205.92l6.65,10.35h-13.3zM667.31,206.09l6.65,10.35h-13.3zM667.72,206.27l6.65,10.35h-13.3zM668.13,206.45l6.65,10.35h-13.3zM668.54,206.64l6.65,10.35h-13.3zM668.95,206.82l6.65,10.35h-13.3zM669.36,207l6.65,10.35h-13.3zM669.76,207.18l6.65,10.35h-13.3zM670.17,207.36l6.65,10.35h-13.3zM670.57,207.53l6.65,10.35h-13.3zM670.98,207.7l6.65,10.35h-13.3zM671.38,207.86l6.65,10.35h-13.3zM671.78,208.01l6.65,10.35h-13.3zM672.18,208.15l6.65,10.35h-13.3zM672.57,208.29l6.65,10.35h-13.3zM672.97,208.41l6.65,10.35h-13.3zM673.37,208.53l6.65,10.35h-13.3zM673.76,208.63l6.65,10.35h-13.3zM674.15,208.72l6.65,10.35h-13.3zM674.55,208.8l6.65,10.35h-13.3zM674.94,208.87l6.65,10.35h-13.3zM675.33,208.92l6.65,10.35h-13.3zM675.72,208.96l6.65,10.35h-13.3zM676.1,208.98l6.65,10.35h-13.3zM676.49,209l6.65,10.35h-13.3zM676.88,209l6.65,10.35h-13.3zM677.26,208.98l6.65,10.35h-13.3zM677.64,208.96l6.65,10.35h-13.3zM678.03,208.92l6.65,10.35h-13.3zM678.41,208.86l6.65,10.35h-13.3zM678.79,208.8l6.65,10.35h-13.3zM679.17,208.72l6.65,10.35h-13.3zM679.54,208.63l6.65,10.35h-13.3zM679.92,208.54l6.65,10.35h-13.3zM680.3,208.43l6.65,10.35h-13.3zM680.67,208.31l6.65,10.35h-13.3zM681.05,208.18l6.65,10.35h-13.3zM681.42,208.05l6.65,10.35h-13.3zM681.79,207.91l6.65,10.35h-13.3zM682.16,207.77l6.65,10.35h-13.3zM682.53,207.61l6.65,10.35h-13.3zM682.9,207.46l6.65,10.35h-13.3zM683.27,207.3l6.65,10.35h-13.3zM683.64,207.14l6.65,10.35h-13.3zM684,206.98l6.65,10.35h-13.3zM684.37,206.82l6.65,10.35h-13.3zM684.73,206.66l6.65,10.35h-13.3zM685.1,206.5l6.65,10.35h-13.3zM685.46,206.35l6.65,10.35h-13.3zM685.82,206.19l6.65,10.35h-13.3zM686.18,206.04l6.65,10.35h-13.3zM686.54,205.9l6.65,10.35h-13.3zM686.9,205.76l6.65,10.35h-13.3zM687.25,205.63l6.65,10.35h-13.3zM687.61,205.51l6.65,10.35h-13.3zM687.97,205.4l6.65,10.35h-13.3zM688.32,205.29l6.65,10.35h-13.3zM688.68,205.19l6.65,10.35h-13.3zM689.03,205.11l6.65,10.35h-13.3zM689.38,205.03l6.65,10.35h-13.3zM689.73,204.96l6.65,10.35h-13.3zM690.08,204.91l6.65,10.35h-13.3zM690.43,204.86l6.65,10.35h-13.3zM690.78,204.83l6.65,10.35h-13.3zM691.13,204.81l6.65,10.35h-13.3zM691.47,204.8l6.65,10.35h-13.3zM691.82,204.8l6.65,10.35h-13.3zM692.17,204.81l6.65,10.35h-13.3zM692.51,204.83l6.65,10.35h-13.3zM692.85,204.86l6.65,10.35h-13.3zM693.19,204.9l6.65,10.35h-13.3zM693.54,204.95l6.65,10.35h-13.3zM693.88,205.02l6.65,10.35h-13.3zM694.22,205.09l6.65,10.35h-13.3zM694.56,205.16l6.65,10.35h-13.3zM694.89,205.25l6.65,10.35h-13.3zM695.23,205.34l6.65,10.35h-13.3zM695.57,205.44l6.65,10.35h-13.3zM695.9,205.55l6.65,10.35h-13.3zM696.24,205.66l6.65,10.35h-13.3zM696.57,205.77l6.65,10.35h-13.3zM696.91,205.89l6.65,10.35h-13.3zM697.24,206.01l6.65,10.35h-13.3zM697.57,206.14l6.65,10.35h-13.3zM697.9,206.26l6.65,10.35h-13.3zM698.23,206.39l6.65,10.35h-13.3zM698.56,206.51l6.65,10.35h-13.3zM698.89,206.63l6.65,10.35h-13.3zM699.22,206.75l6.65,10.35h-13.3zM699.54,206.87l6.65,10.35h-13.3zM699.87,206.99l6.65,10.35h-13.3zM700.2,207.1l6.65,10.35h-13.3zM700.52,207.2l6.65,10.35h-13.3zM700.85,207.3l6.65,10.35h-13.3zM701.17,207.4l6.65,10.35h-13.3zM701.49,207.49l6.65,10.35h-13.3zM701.81,207.57l6.65,10.35h-13.3zM702.13,207.64l6.65,10.35h-13.3zM702.45,207.71l6.65,10.35h-13.3zM702.77,207.76l6.65,10.35h-13.3zM703.09,207.81l6.65,10.35h-13.3zM703.41,207.85l6.65,10.35h-13.3zM703.73,207.88l6.65,10.35h-13.3zM704.04,207.9l6.65,10.35h-13.3zM704.36,207.91l6.65,10.35h-13.3zM704.67,207.92l6.65,10.35h-13.3zM704.99,207.91l6.65,10.35h-13.3zM705.3,207.89l6.65,10.35h-13.3zM705.62,207.87l6.65,10.35h-13.3zM705.93,207.83l6.65,10.35h-13.3zM706.24,207.79l6.65,10.35h-13.3zM706.55,207.74l6.65,10.35h-13.3zM706.86,207.68l6.65,10.35h-13.3zM707.17,207.62l6.65,10.35h-13.3zM707.48,207.55l6.65,10.35h-13.3zM707.79,207.47l6.65,10.35h-13.3zM708.09,207.38l6.65,10.35h-13.3zM708.4,207.29l6.65,10.35h-13.3zM708.71,207.19l6.65,10.35h-13.3zM709.01,207.09l6.65,10.35h-13.3zM709.32,206.99l6.65,10.35h-13.3zM709.62,206.88l6.65,10.35h-13.3zM709.92,206.78l6.65,10.35h-13.3zM710.23,206.66l6.65,10.35h-13.3zM710.53,206.55l6.65,10.35h-13.3zM710.83,206.44l6.65,10.35h-13.3zM711.13,206.33l6.65,10.35h-13.3zM711.43,206.22l6.65,10.35h-13.3zM711.73,206.11l6.65,10.35h-13.3zM712.03,206l6.65,10.35h-13.3zM712.33,205.9l6.65,10.35h-13.3zM712.62,205.8l6.65,10.35h-13.3zM712.92,205.7l6.65,10.35h-13.3zM713.22,205.61l6.65,10.35h-13.3zM713.51,205.52l6.65,10.35h-13.3zM713.81,205.44l6.65,10.35h-13.3zM714.1,205.36l6.65,10.35h-13.3zM714.39,205.3l6.65,10.35h-13.3zM714.69,205.23l6.65,10.35h-13.3zM714.98,205.18l6.65,10.35h-13.3zM715.27,205.13l6.65,10.35h-13.3zM715.56,205.09l6.65,10.35h-13.3zM715.85,205.06l6.65,10.35h-13.3zM716.14,205.03l6.65,10.35h-13.3zM716.43,205.02l6.65,10.35h-13.3zM716.72,205.01l6.65,10.35h-13.3zM717.01,205.01l6.65,10.35h-13.3zM717.3,205.01l6.65,10.35h-13.3zM717.58,205.03l6.65,10.35h-13.3zM717.87,205.05l6.65,10.35h-13.3zM718.16,205.08l6.65,10.35h-13.3zM718.44,205.12l6.65,10.35h-13.3zM718.72,205.16l6.65,10.35h-13.3zM719.01,205.21l6.65,10.35h-13.3zM719.29,205.26l6.65,10.35h-13.3zM719.57,205.33l6.65,10.35h-13.3zM719.86,205.39l6.65,10.35h-13.3zM720.14,205.46l6.65,10.35h-13.3zM720.42,205.54l6.65,10.35h-13.3zM720.7,205.62l6.65,10.35h-13.3zM720.98,205.7l6.65,10.35h-13.3zM721.26,205.79l6.65,10.35h-13.3zM721.54,205.88l6.65,10.35h-13.3zM721.82,205.96l6.65,10.35h-13.3zM722.09,206.06l6.65,10.35h-13.3zM722.37,206.15l6.65,10.35h-13.3zM722.65,206.24l6.65,10.35h-13.3zM722.92,206.33l6.65,10.35h-13.3zM723.2,206.41l6.65,10.35h-13.3zM723.47,206.5l6.65,10.35h-13.3zM723.75,206.59l6.65,10.35h-13.3zM724.02,206.67l6.65,10.35h-13.3zM724.3,206.75l6.65,10.35h-13.3zM724.57,206.82l6.65,10.35h-13.3zM724.84,206.89l6.65,10.35h-13.3zM725.11,206.95l6.65,10.35h-13.3zM725.38,207.02l6.65,10.35h-13.3zM725.65,207.07l6.65,10.35h-13.3zM725.92,207.12l6.65,10.35h-13.3zM726.19,207.16l6.65,10.35h-13.3zM726.46,207.2l6.65,10.35h-13.3zM726.73,207.23l6.65,10.35h-13.3zM727,207.25l6.65,10.35h-13.3zM727.27,207.27l6.65,10.35h-13.3zM727.53,207.28l6.65,10.35h-13.3zM727.8,207.28l6.65,10.35h-13.3zM728.06,207.28l6.65,10.35h-13.3zM728.33,207.27l6.65,10.35h-13.3zM728.59,207.25l6.65,10.35h-13.3zM728.86,207.23l6.65,10.35h-13.3zM729.12,207.2l6.65,10.35h-13.3zM729.39,207.17l6.65,10.35h-13.3zM729.65,207.12l6.65,10.35h-13.3zM729.91,207.08l6.65,10.35h-13.3zM730.17,207.03l6.65,10.35h-13.3zM730.43,206.97l6.65,10.35h-13.3zM730.7,206.91l6.65,10.35h-13.3zM730.96,206.84l6.65,10.35h-13.3zM731.22,206.77l6.65,10.35h-13.3zM731.47,206.7l6.65,10.35h-13.3zM731.73,206.62l6.65,10.35h-13.3zM731.99,206.54l6.65,10.35h-13.3zM732.25,206.46l6.65,10.35h-13.3zM732.51,206.38l6.65,10.35h-13.3zM732.76,206.3l6.65,10.35h-13.3zM733.02,206.22l6.65,10.35h-13.3zM733.28,206.13l6.65,10.35h-13.3zM733.53,206.05l6.65,10.35h-13.3zM733.79,205.97l6.65,10.35h-13.3zM734.04,205.89l6.65,10.35h-13.3zM734.3,205.81l6.65,10.35h-13.3zM734.55,205.74l6.65,10.35h-13.3zM734.8,205.67l6.65,10.35h-13.3zM735.06,205.6l6.65,10.35h-13.3zM735.31,205.53l6.65,10.35h-13.3zM735.56,205.47l6.65,10.35h-13.3zM735.81,205.41l6.65,10.35h-13.3zM736.06,205.36l6.65,10.35h-13.3zM736.31,205.32l6.65,10.35h-13.3zM736.56,205.27l6.65,10.35h-13.3zM736.81,205.24l6.65,10.35h-13.3zM737.06,205.21l6.65,10.35h-13.3zM737.31,205.18l6.65,10.35h-13.3zM737.56,205.16l6.65,10.35h-13.3zM737.81,205.15l6.65,10.35h-13.3zM738.05,205.14l6.65,10.35h-13.3zM738.3,205.14l6.65,10.35h-13.3zM738.55,205.15l6.65,10.35h-13.3zM738.79,205.16l6.65,10.35h-13.3zM739.04,205.17l6.65,10.35h-13.3zM739.28,205.19l6.65,10.35h-13.3zM739.53,205.22l6.65,10.35h-13.3zM739.77,205.25l6.65,10.35h-13.3zM740.01,205.29l6.65,10.35h-13.3zM740.26,205.33l6.65,10.35h-13.3zM740.5,205.38l6.65,10.35h-13.3zM740.74,205.43l6.65,10.35h-13.3zM740.99,205.48l6.65,10.35h-13.3zM741.23,205.54l6.65,10.35h-13.3zM741.47,205.6l6.65,10.35h-13.3zM741.71,205.66l6.65,10.35h-13.3zM741.95,205.73l6.65,10.35h-13.3zM742.19,205.79l6.65,10.35h-13.3zM742.43,205.86l6.65,10.35h-13.3zM742.67,205.93l6.65,10.35h-13.3zM742.91,206l6.65,10.35h-13.3zM743.15,206.07l6.65,10.35h-13.3zM743.38,206.14l6.65,10.35h-13.3zM743.62,206.2l6.65,10.35h-13.3zM743.86,206.27l6.65,10.35h-13.3zM744.09,206.34l6.65,10.35h-13.3zM744.33,206.4l6.65,10.35h-13.3zM744.57,206.46l6.65,10.35h-13.3zM744.8,206.52l6.65,10.35h-13.3zM745.04,206.57l6.65,10.35h-13.3zM745.27,206.62l6.65,10.35h-13.3zM745.51,206.67l6.65,10.35h-13.3zM745.74,206.71l6.65,10.35h-13.3zM745.97,206.75l6.65,10.35h-13.3zM746.21,206.78l6.65,10.35h-13.3zM746.44,206.81l6.65,10.35h-13.3zM746.67,206.84l6.65,10.35h-13.3zM746.9,206.86l6.65,10.35h-13.3zM747.13,206.87l6.65,10.35h-13.3zM747.37,206.88l6.65,10.35h-13.3zM747.6,206.88l6.65,10.35h-13.3zM747.83,206.88l6.65,10.35h-13.3zM748.06,206.87l6.65,10.35h-13.3zM748.29,206.86l6.65,10.35h-13.3zM748.52,206.85l6.65,10.35h-13.3zM748.74,206.82l6.65,10.35h-13.3zM748.97,206.8l6.65,10.35h-13.3zM749.2,206.77l6.65,10.35h-13.3zM749.43,206.73l6.65,10.35h-13.3zM749.66,206.69l6.65,10.35h-13.3zM749.88,206.65l6.65,10.35h-13.3zM750.11,206.6l6.65,10.35h-13.3zM750.34,206.55l6.65,10.35h-13.3zM750.56,206.5l6.65,10.35h-13.3zM750.79,206.44l6.65,10.35h-13.3zM751.01,206.38l6.65,10.35h-13.3zM751.24,206.32l6.65,10.35h-13.3zM751.46,206.26l6.65,10.35h-13.3zM751.68,206.2l6.65,10.35h-13.3zM751.91,206.14l6.65,10.35h-13.3zM752.13,206.07l6.65,10.35h-13.3zM752.35,206.01l6.65,10.35h-13.3zM752.58,205.95l6.65,10.35h-13.3zM752.8,205.88l6.65,10.35h-13.3zM753.02,205.82l6.65,10.35h-13.3zM753.24,205.76l6.65,10.35h-13.3zM753.46,205.7l6.65,10.35h-13.3zM753.68,205.65l6.65,10.35h-13.3zM753.9,205.59l6.65,10.35h-13.3zM754.12,205.54l6.65,10.35h-13.3zM754.34,205.49l6.65,10.35h-13.3zM754.56,205.45l6.65,10.35h-13.3zM754.78,205.41l6.65,10.35h-13.3zM755,205.37l6.65,10.35h-13.3zM755.22,205.34l6.65,10.35h-13.3zM755.44,205.31l6.65,10.35h-13.3zM755.65,205.29l6.65,10.35h-13.3zM755.87,205.27l6.65,10.35h-13.3zM756.09,205.25l6.65,10.35h-13.3zM756.31,205.24l6.65,10.35h-13.3zM756.52,205.23l6.65,10.35h-13.3zM756.74,205.23l6.65,10.35h-13.3zM756.95,205.24l6.65,10.35h-13.3zM757.17,205.24l6.65,10.35h-13.3zM757.38,205.26l6.65,10.35h-13.3zM757.6,205.27l6.65,10.35h-13.3zM757.81,205.29l6.65,10.35h-13.3zM758.03,205.32l6.65,10.35h-13.3zM758.24,205.35l6.65,10.35h-13.3zM758.45,205.38l6.65,10.35h-13.3zM758.67,205.42l6.65,10.35h-13.3zM758.88,205.45l6.65,10.35h-13.3zM759.09,205.5l6.65,10.35h-13.3zM759.3,205.54l6.65,10.35h-13.3zM759.51,205.59l6.65,10.35h-13.3zM759.73,205.64l6.65,10.35h-13.3zM759.94,205.69l6.65,10.35h-13.3zM760.15,205.74l6.65,10.35h-13.3zM760.36,205.79l6.65,10.35h-13.3zM760.57,205.85l6.65,10.35h-13.3zM760.78,205.9l6.65,10.35h-13.3zM760.99,205.96l6.65,10.35h-13.3zM761.2,206.01l6.65,10.35h-13.3zM761.4,206.07l6.65,10.35h-13.3zM761.61,206.12l6.65,10.35h-13.3zM761.82,206.17l6.65,10.35h-13.3zM762.03,206.22l6.65,10.35h-13.3zM762.24,206.27l6.65,10.35h-13.3zM762.44,206.31l6.65,10.35h-13.3zM762.65,206.36l6.65,10.35h-13.3zM762.86,206.4l6.65,10.35h-13.3zM763.06,206.43l6.65,10.35h-13.3zM763.27,206.47l6.65,10.35h-13.3zM763.47,206.5l6.65,10.35h-13.3zM763.68,206.53l6.65,10.35h-13.3zM763.88,206.55l6.65,10.35h-13.3zM764.09,206.57l6.65,10.35h-13.3zM764.29,206.59l6.65,10.35h-13.3zM764.5,206.6l6.65,10.35h-13.3zM764.7,206.61l6.65,10.35h-13.3zM764.9,206.61l6.65,10.35h-13.3zM765.11,206.61l6.65,10.35h-13.3zM765.31,206.61l6.65,10.35h-13.3zM765.51,206.6l6.65,10.35h-13.3zM765.72,206.58l6.65,10.35h-13.3zM765.92,206.57l6.65,10.35h-13.3zM766.12,206.55l6.65,10.35h-13.3zM766.32,206.52l6.65,10.35h-13.3zM766.52,206.49l6.65,10.35h-13.3zM766.72,206.46l6.65,10.35h-13.3zM766.92,206.43l6.65,10.35h-13.3zM767.12,206.39l6.65,10.35h-13.3zM767.32,206.35l6.65,10.35h-13.3zM767.52,206.31l6.65,10.35h-13.3zM767.72,206.27l6.65,10.35h-13.3zM767.92,206.22l6.65,10.35h-13.3zM768.12,206.17l6.65,10.35h-13.3zM768.32,206.13l6.65,10.35h-13.3zM768.52,206.08l6.65,10.35h-13.3zM768.72,206.03l6.65,10.35h-13.3zM768.91,205.97l6.65,10.35h-13.3zM769.11,205.92l6.65,10.35h-13.3zM769.31,205.87l6.65,10.35h-13.3zM769.5,205.82l6.65,10.35h-13.3zM769.7,205.77l6.65,10.35h-13.3zM769.9,205.73l6.65,10.35h-13.3zM770.09,205.68l6.65,10.35h-13.3zM770.29,205.63l6.65,10.35h-13.3zM770.48,205.59l6.65,10.35h-13.3zM770.68,205.55l6.65,10.35h-13.3zM770.87,205.51l6.65,10.35h-13.3zM771.07,205.48l6.65,10.35h-13.3zM771.26,205.44l6.65,10.35h-13.3zM771.46,205.41l6.65,10.35h-13.3zM771.65,205.39l6.65,10.35h-13.3zM771.84,205.36l6.65,10.35h-13.3zM772.04,205.34l6.65,10.35h-13.3zM772.23,205.33l6.65,10.35h-13.3zM772.42,205.31l6.65,10.35h-13.3zM772.62,205.31l6.65,10.35h-13.3zM772.81,205.3l6.65,10.35h-13.3zM773,205.3l6.65,10.35h-13.3zM773.19,205.3l6.65,10.35h-13.3zM773.38,205.31l6.65,10.35h-13.3zM773.57,205.32l6.65,10.35h-13.3zM773.76,205.33l6.65,10.35h-13.3zM773.95,205.35l6.65,10.35h-13.3zM774.14,205.37l6.65,10.35h-13.3zM774.33,205.39l6.65,10.35h-13.3zM774.52,205.42l6.65,10.35h-13.3zM774.71,205.44l6.65,10.35h-13.3zM774.9,205.48l6.65,10.35h-13.3zM775.09,205.51l6.65,10.35h-13.3zM775.28,205.55l6.65,10.35h-13.3zM775.47,205.58l6.65,10.35h-13.3zM775.66,205.62l6.65,10.35h-13.3zM775.85,205.66l6.65,10.35h-13.3zM776.03,205.71l6.65,10.35h-13.3zM776.22,205.75l6.65,10.35h-13.3zM776.41,205.79l6.65,10.35h-13.3zM776.59,205.84l6.65,10.35h-13.3zM776.78,205.88l6.65,10.35h-13.3zM776.97,205.93l6.65,10.35h-13.3zM777.15,205.97l6.65,10.35h-13.3zM777.34,206.01l6.65,10.35h-13.3zM777.53,206.05l6.65,10.35h-13.3zM777.71,206.09l6.65,10.35h-13.3zM777.9,206.13l6.65,10.35h-13.3zM778.08,206.17l6.65,10.35h-13.3zM778.27,206.21l6.65,10.35h-13.3zM778.45,206.24l6.65,10.35h-13.3zM778.63,206.27l6.65,10.35h-13.3zM778.82,206.3l6.65,10.35h-13.3zM779,206.32l6.65,10.35h-13.3zM779.19,206.35l6.65,10.35h-13.3zM779.37,206.37l6.65,10.35h-13.3zM779.55,206.38l6.65,10.35h-13.3zM779.73,206.4l6.65,10.35h-13.3zM779.92,206.41l6.65,10.35h-13.3zM780.1,206.41l6.65,10.35h-13.3zM780.28,206.42l6.65,10.35h-13.3zM780.46,206.42l6.65,10.35h-13.3zM780.64,206.41l6.65,10.35h-13.3zM780.83,206.41l6.65,10.35h-13.3zM781.01,206.4l6.65,10.35h-13.3zM781.19,206.38l6.65,10.35h-13.3zM781.37,206.37l6.65,10.35h-13.3zM781.55,206.35l6.65,10.35h-13.3zM781.73,206.33l6.65,10.35h-13.3zM781.91,206.3l6.65,10.35h-13.3zM782.09,206.27l6.65,10.35h-13.3zM782.27,206.25l6.65,10.35h-13.3zM782.45,206.21l6.65,10.35h-13.3zM782.63,206.18l6.65,10.35h-13.3zM782.8,206.14l6.65,10.35h-13.3zM782.98,206.11l6.65,10.35h-13.3zM783.16,206.07l6.65,10.35h-13.3zM783.34,206.03l6.65,10.35h-13.3zM783.52,205.99l6.65,10.35h-13.3zM783.69,205.95l6.65,10.35h-13.3zM783.87,205.9l6.65,10.35h-13.3zM784.05,205.86l6.65,10.35h-13.3zM784.23,205.82l6.65,10.35h-13.3zM784.4,205.78l6.65,10.35h-13.3zM784.58,205.74l6.65,10.35h-13.3zM784.75,205.7l6.65,10.35h-13.3zM784.93,205.66l6.65,10.35h-13.3zM785.11,205.63l6.65,10.35h-13.3zM785.28,205.59l6.65,10.35h-13.3zM785.46,205.56l6.65,10.35h-13.3zM785.63,205.53l6.65,10.35h-13.3zM785.81,205.5l6.65,10.35h-13.3zM785.98,205.47l6.65,10.35h-13.3zM786.16,205.44l6.65,10.35h-13.3zM786.33,205.42l6.65,10.35h-13.3zM786.5,205.4l6.65,10.35h-13.3zM786.68,205.39l6.65,10.35h-13.3zM786.85,205.37l6.65,10.35h-13.3zM787.02,205.36l6.65,10.35h-13.3zM787.2,205.35l6.65,10.35h-13.3zM787.37,205.35l6.65,10.35h-13.3zM787.54,205.35l6.65,10.35h-13.3zM787.72,205.35l6.65,10.35h-13.3zM787.89,205.35l6.65,10.35h-13.3zM788.06,205.36l6.65,10.35h-13.3zM788.23,205.37l6.65,10.35h-13.3zM788.4,205.39l6.65,10.35h-13.3zM788.57,205.4l6.65,10.35h-13.3zM788.75,205.42l6.65,10.35h-13.3zM788.92,205.44l6.65,10.35h-13.3zM789.09,205.47l6.65,10.35h-13.3zM789.26,205.49l6.65,10.35h-13.3zM789.43,205.52l6.65,10.35h-13.3zM789.6,205.55l6.65,10.35h-13.3zM789.77,205.58l6.65,10.35h-13.3zM789.94,205.61l6.65,10.35h-13.3zM790.11,205.65l6.65,10.35h-13.3zM790.28,205.68l6.65,10.35h-13.3zM790.45,205.72l6.65,10.35h-13.3zM790.61,205.75l6.65,10.35h-13.3zM790.78,205.79l6.65,10.35h-13.3zM790.95,205.83l6.65,10.35h-13.3zM791.12,205.86l6.65,10.35h-13.3zM791.29,205.9l6.65,10.35h-13.3zM791.46,205.94l6.65,10.35h-13.3zM791.62,205.97l6.65,10.35h-13.3zM791.79,206l6.65,10.35h-13.3zM791.96,206.04l6.65,10.35h-13.3zM792.13,206.07l6.65,10.35h-13.3zM792.29,206.1l6.65,10.35h-13.3zM792.46,206.13l6.65,10.35h-13.3zM792.62,206.15l6.65,10.35h-13.3zM792.79,206.18l6.65,10.35h-13.3zM792.96,206.2l6.65,10.35h-13.3zM793.12,206.22l6.65,10.35h-13.3zM793.29,206.23l6.65,10.35h-13.3zM793.45,206.25l6.65,10.35h-13.3zM793.62,206.26l6.65,10.35h-13.3zM793.78,206.27l6.65,10.35h-13.3zM793.95,206.27l6.65,10.35h-13.3zM794.11,206.28l6.65,10.35h-13.3zM794.28,206.28l6.65,10.35h-13.3zM794.44,206.27l6.65,10.35h-13.3zM794.61,206.27l6.65,10.35h-13.3zM794.77,206.26l6.65,10.35h-13.3zM794.93,206.25l6.65,10.35h-13.3zM795.1,206.24l6.65,10.35h-13.3zM795.26,206.22l6.65,10.35h-13.3zM795.42,206.2l6.65,10.35h-13.3zM795.59,206.18l6.65,10.35h-13.3zM795.75,206.16l6.65,10.35h-13.3zM795.91,206.14l6.65,10.35h-13.3zM796.07,206.11l6.65,10.35h-13.3zM796.24,206.08l6.65,10.35h-13.3zM796.4,206.05l6.65,10.35h-13.3zM796.56,206.02l6.65,10.35h-13.3zM796.72,205.99l6.65,10.35h-13.3zM796.88,205.96l6.65,10.35h-13.3zM797.04,205.92l6.65,10.35h-13.3zM797.2,205.89l6.65,10.35h-13.3zM797.37,205.85l6.65,10.35h-13.3zM797.53,205.82l6.65,10.35h-13.3zM797.69,205.78l6.65,10.35h-13.3zM797.85,205.75l6.65,10.35h-13.3zM798.01,205.72l6.65,10.35h-13.3zM798.17,205.68l6.65,10.35h-13.3zM798.33,205.65l6.65,10.35h-13.3zM798.49,205.62l6.65,10.35h-13.3zM798.64,205.59l6.65,10.35h-13.3zM798.8,205.56l6.65,10.35h-13.3zM798.96,205.54l6.65,10.35h-13.3zM799.12,205.51l6.65,10.35h-13.3zM799.28,205.49l6.65,10.35h-13.3zM799.44,205.47l6.65,10.35h-13.3zM799.6,205.45l6.65,10.35h-13.3zM799.75,205.43l6.65,10.35h-13.3zM799.91,205.42l6.65,10.35h-13.3zM800.07,205.41l6.65,10.35h-13.3zM800.23,205.4l6.65,10.35h-13.3zM800.38,205.39l6.65,10.35h-13.3zM800.54,205.39l6.65,10.35h-13.3zM800.7,205.39l6.65,10.35h-13.3zM800.86,205.39l6.65,10.35h-13.3zM801.01,205.39l6.65,10.35h-13.3zM801.17,205.4l6.65,10.35h-13.3zM801.32,205.41l6.65,10.35h-13.3zM801.48,205.42l6.65,10.35h-13.3zM801.64,205.43l6.65,10.35h-13.3zM801.79,205.45l6.65,10.35h-13.3zM801.95,205.46l6.65,10.35h-13.3zM802.1,205.48l6.65,10.35h-13.3zM802.26,205.5l6.65,10.35h-13.3zM802.41,205.53l6.65,10.35h-13.3zM802.57,205.55l6.65,10.35h-13.3zM802.72,205.58l6.65,10.35h-13.3zM802.88,205.61l6.65,10.35h-13.3zM803.03,205.63l6.65,10.35h-13.3zM803.19,205.66l6.65,10.35h-13.3zM803.34,205.69l6.65,10.35h-13.3zM803.49,205.72l6.65,10.35h-13.3zM803.65,205.76l6.65,10.35h-13.3zM803.8,205.79l6.65,10.35h-13.3zM803.95,205.82l6.65,10.35h-13.3zM804.11,205.85l6.65,10.35h-13.3zM804.26,205.88l6.65,10.35h-13.3zM804.41,205.91l6.65,10.35h-13.3zM804.57,205.94l6.65,10.35h-13.3zM804.72,205.96l6.65,10.35h-13.3zM804.87,205.99l6.65,10.35h-13.3zM805.02,206.02l6.65,10.35h-13.3zM805.17,206.04l6.65,10.35h-13.3zM805.33,206.06l6.65,10.35h-13.3zM805.48,206.08l6.65,10.35h-13.3zM805.63,206.1l6.65,10.35h-13.3zM805.78,206.12l6.65,10.35h-13.3zM805.93,206.13l6.65,10.35h-13.3zM806.08,206.14l6.65,10.35h-13.3zM806.23,206.15l6.65,10.35h-13.3zM806.38,206.16l6.65,10.35h-13.3zM806.53,206.17l6.65,10.35h-13.3zM806.68,206.17l6.65,10.35h-13.3zM806.83,206.17l6.65,10.35h-13.3zM806.98,206.17l6.65,10.35h-13.3zM807.13,206.16l6.65,10.35h-13.3zM807.28,206.16l6.65,10.35h-13.3zM807.43,206.15l6.65,10.35h-13.3zM807.58,206.14l6.65,10.35h-13.3zM807.73,206.12l6.65,10.35h-13.3zM807.88,206.11l6.65,10.35h-13.3zM808.03,206.09l6.65,10.35h-13.3zM808.18,206.07l6.65,10.35h-13.3zM808.33,206.05l6.65,10.35h-13.3zM808.47,206.03l6.65,10.35h-13.3zM808.62,206.01l6.65,10.35h-13.3zM808.77,205.98l6.65,10.35h-13.3zM808.92,205.96l6.65,10.35h-13.3zM809.07,205.93l6.65,10.35h-13.3zM809.21,205.9l6.65,10.35h-13.3zM809.36,205.87l6.65,10.35h-13.3zM809.51,205.84l6.65,10.35h-13.3zM809.66,205.81l6.65,10.35h-13.3zM809.8,205.78l6.65,10.35h-13.3zM809.95,205.76l6.65,10.35h-13.3zM810.1,205.73l6.65,10.35h-13.3zM810.24,205.7l6.65,10.35h-13.3zM810.39,205.67l6.65,10.35h-13.3zM810.53,205.64l6.65,10.35h-13.3zM810.68,205.62l6.65,10.35h-13.3zM810.83,205.59l6.65,10.35h-13.3zM810.97,205.57l6.65,10.35h-13.3zM811.12,205.54l6.65,10.35h-13.3zM811.26,205.52l6.65,10.35h-13.3zM811.41,205.5l6.65,10.35h-13.3zM811.55,205.49l6.65,10.35h-13.3zM811.7,205.47l6.65,10.35h-13.3zM811.84,205.46l6.65,10.35h-13.3zM811.99,205.44l6.65,10.35h-13.3zM812.13,205.43l6.65,10.35h-13.3zM812.28,205.43l6.65,10.35h-13.3zM812.42,205.42l6.65,10.35h-13.3zM812.56,205.42l6.65,10.35h-13.3zM812.71,205.42l6.65,10.35h-13.3zM812.85,205.42l6.65,10.35h-13.3z"/>
</g>
<g fill="none" stroke="#ff0000" stroke-width="1.75" stroke-dasharray="16 15.4 3.6 7.6">
<path d="M113.13,732.76L113.64,732.72L114.14,732.68L114.65,732.64L115.15,732.6L115.66,732.56L116.16,732.52L116.67,732.48L117.17,732.44L117.67,732.4L118.18,732.36L118.68,732.31L119.19,732.27L119.69,732.23L120.2,732.18L120.7,732.14L121.21,732.1L121.71,732.05L122.22,732L122.72,731.96L123.23,731.91L123.73,731.86L124.24,731.82L124.74,731.77L125.25,731.72L125.75,731.67L126.26,731.62L126.76,731.57L127.26,731.52L127.77,731.47L128.27,731.42L128.78,731.37L129.28,731.31L129.79,731.26L130.29,731.21L130.8,731.15L131.3,731.1L131.81,731.04L132.31,730.98L132.82,730.93L133.32,730.87L133.83,730.81L134.33,730.75L134.84,730.69L135.34,730.63L135.85,730.57L136.35,730.51L136.85,730.45L137.36,730.39L137.86,730.33L138.37,730.26L138.87,730.2L139.38,730.13L139.88,730.07L140.39,730L140.89,729.94L141.4,729.87L141.9,729.8L142.41,729.73L142.91,729.66L143.42,729.59L143.92,729.52L144.43,729.45L144.93,729.38L145.44,729.3L145.94,729.23L146.44,729.16L146.95,729.08L147.45,729.01L147.96,728.93L148.46,728.85L148.97,728.77L149.47,728.69L149.98,728.62L150.48,728.53L150.99,728.45L151.49,728.37L152,728.29L152.5,728.21L153.01,728.12L153.51,728.04L154.02,727.95L154.52,727.86L155.03,727.78L155.53,727.69L156.03,727.6L156.54,727.51L157.04,727.42L157.55,727.33L158.05,727.23L158.56,727.14L159.06,727.04L159.57,726.95L160.07,726.85L160.58,726.76L161.08,726.66L161.59,726.56L162.09,726.46L162.6,726.36L163.1,726.26L163.61,726.15L164.11,726.05L164.62,725.95L165.12,725.84L165.62,725.73L166.13,725.63L166.63,725.52L167.14,725.41L167.64,725.3L168.15,725.18L168.65,725.07L169.16,724.96L169.66,724.84L170.17,724.73L170.67,724.61L171.18,724.49L171.68,724.37L172.19,724.25L172.69,724.13L173.2,724.01L173.7,723.89L174.21,723.76L174.71,723.64L175.21,723.51L175.72,723.38L176.22,723.25L176.73,723.12L177.23,722.99L177.74,722.86L178.24,722.72L178.75,722.59L179.25,722.45L179.76,722.31L180.26,722.17L180.77,722.03L181.27,721.89L181.78,721.75L182.28,721.61L182.79,721.46L183.29,721.31L183.8,721.17L184.3,721.02"/>
<path d="M184.3,721.02L184.8,720.87L185.31,720.72L185.81,720.56L186.32,720.41L186.82,720.25L187.32,720.09L187.83,719.94L188.33,719.78L188.84,719.61L189.34,719.45L189.85,719.29L190.35,719.12L190.85,718.95L191.36,718.79L191.86,718.62L192.37,718.44L192.87,718.27L193.37,718.1L193.88,717.92L194.38,717.74L194.89,717.56L195.39,717.38L195.9,717.2L196.4,717.02L196.9,716.83L197.41,716.64L197.91,716.45L198.42,716.26L198.92,716.07L199.42,715.88L199.93,715.68L200.43,715.48L200.94,715.28L201.44,715.08L201.94,714.88L202.45,714.68L202.95,714.47L203.46,714.26L203.96,714.05L204.47,713.84L204.97,713.63L205.47,713.41L205.98,713.2L206.48,712.98L206.99,712.76L207.49,712.53L207.99,712.31L208.5,712.08L209,711.85L209.51,711.62L210.01,711.39L210.52,711.16L211.02,710.92L211.52,710.68L212.03,710.44L212.53,710.2L213.04,709.95L213.54,709.71L214.04,709.46L214.55,709.21L215.05,708.95L215.56,708.7L216.06,708.44L216.56,708.18L217.07,707.92L217.57,707.66L218.08,707.39L218.58,707.12L219.09,706.85L219.59,706.58L220.09,706.3L220.6,706.02L221.1,705.74L221.61,705.46L222.11,705.18L222.61,704.89L223.12,704.6L223.62,704.31L224.13,704.01L224.63,703.72L225.14,703.42L225.64,703.12L226.14,702.81L226.65,702.5L227.15,702.19L227.66,701.88L228.16,701.57L228.66,701.25L229.17,700.93L229.67,700.61L230.18,700.28L230.68,699.95L231.18,699.62L231.69,699.29L232.19,698.95L232.7,698.61L233.2,698.27L233.71,697.92L234.21,697.58L234.71,697.22L235.22,696.87L235.72,696.51L236.23,696.15L236.73,695.79L237.23,695.43L237.74,695.06L238.24,694.69L238.75,694.31L239.25,693.93L239.76,693.55L240.26,693.17L240.76,692.78L241.27,692.39L241.77,692L242.28,691.6L242.78,691.2L243.28,690.79L243.79,690.39L244.29,689.98L244.8,689.56L245.3,689.15L245.8,688.73L246.31,688.3L246.81,687.87L247.32,687.44L247.82,687.01L248.33,686.57L248.83,686.13L249.33,685.68L249.84,685.23L250.34,684.78L250.85,684.33L251.35,683.86L251.85,683.4L252.36,682.93L252.86,682.46L253.37,681.99L253.87,681.51L254.38,681.02L254.88,680.54L255.38,680.05L255.89,679.55L256.39,679.05L256.9,678.55L257.4,678.04"/>
<path d="M257.4,678.04L257.91,677.53L258.41,677.01L258.92,676.49L259.42,675.96L259.93,675.43L260.44,674.9L260.94,674.36L261.45,673.81L261.96,673.27L262.46,672.71L262.97,672.16L263.47,671.6L263.98,671.03L264.49,670.46L264.99,669.88L265.5,669.3L266.01,668.72L266.51,668.13L267.02,667.54L267.52,666.94L268.03,666.33L268.54,665.72L269.04,665.11L269.55,664.49L270.06,663.87L270.56,663.24L271.07,662.61L271.57,661.97L272.08,661.32L272.59,660.67L273.09,660.02L273.6,659.36L274.1,658.69L274.61,658.02L275.12,657.35L275.62,656.67L276.13,655.98L276.64,655.29L277.14,654.59L277.65,653.89L278.15,653.18L278.66,652.46L279.17,651.74L279.67,651.02L280.18,650.28L280.69,649.54L281.19,648.8L281.7,648.05L282.2,647.29L282.71,646.53L283.22,645.76L283.72,644.99L284.23,644.21L284.74,643.42L285.24,642.63L285.75,641.83L286.25,641.02L286.76,640.21L287.27,639.39L287.77,638.57L288.28,637.74L288.78,636.9L289.29,636.05L289.8,635.2L290.3,634.34L290.81,633.48L291.32,632.6L291.82,631.73L292.33,630.84L292.83,629.95L293.34,629.05L293.85,628.14L294.35,627.22L294.86,626.3L295.37,625.37L295.87,624.43L296.38,623.49L296.88,622.54L297.39,621.58L297.9,620.61L298.4,619.64L298.91,618.65L299.42,617.66L299.92,616.67L300.43,615.66L300.93,614.65L301.44,613.62L301.95,612.59L302.45,611.55L302.96,610.51L303.46,609.45L303.97,608.39L304.48,607.32L304.98,606.24L305.49,605.15L306,604.05L306.5,602.95L307.01,601.83L307.51,600.71L308.02,599.58L308.53,598.44L309.03,597.29L309.54,596.13L310.05,594.96L310.55,593.78L311.06,592.59L311.56,591.4L312.07,590.19L312.58,588.98L313.08,587.75L313.59,586.52L314.1,585.27L314.6,584.02L315.11,582.76L315.61,581.48L316.12,580.2L316.63,578.91L317.13,577.6L317.64,576.29L318.14,574.96L318.65,573.63L319.16,572.28L319.66,570.93L320.17,569.56L320.68,568.19L321.18,566.8L321.69,565.4L322.19,563.99L322.7,562.57L323.21,561.14L323.71,559.69L324.22,558.24L324.73,556.77L325.23,555.3L325.74,553.81L326.24,552.31L326.75,550.79L327.26,549.27L327.76,547.73L328.27,546.19L328.78,544.63L329.28,543.05L329.79,541.47L330.29,539.87L330.8,538.26"/>
<path d="M330.8,538.26L331.31,536.63L331.82,534.98L332.33,533.32L332.84,531.64L333.35,529.95L333.86,528.25L334.38,526.54L334.89,524.81L335.4,523.06L335.91,521.31L336.42,519.54L336.93,517.76L337.44,515.96L337.95,514.15L338.46,512.32L338.97,510.48L339.48,508.63L339.99,506.76L340.5,504.87L341.01,502.97L341.53,501.06L342.04,499.13L342.55,497.19L343.06,495.23L343.57,493.26L344.08,491.27L344.59,489.26L345.1,487.24L345.61,485.2L346.12,483.15L346.63,481.08L347.14,479L347.65,476.9L348.16,474.78L348.68,472.64L349.19,470.49L349.7,468.33L350.21,466.14L350.72,463.94L351.23,461.72L351.74,459.48L352.25,457.23L352.76,454.96L353.27,452.67L353.78,450.36L354.29,448.04L354.8,445.7L355.32,443.34L355.83,440.96L356.34,438.56L356.85,436.14L357.36,433.71L357.87,431.25L358.38,428.78L358.89,426.29L359.4,423.77L359.91,421.24L360.42,418.69L360.93,416.12L361.44,413.53L361.95,410.92L362.47,408.29L362.98,405.63L363.49,402.96L364,400.27L364.51,397.55L365.02,394.82L365.53,392.06L366.04,389.28L366.55,386.48L367.06,383.66L367.57,380.82L368.08,377.95L368.59,375.06L369.1,372.15L369.62,369.22L370.13,366.26L370.64,363.29L371.15,360.28L371.66,357.26L372.17,354.21L372.68,351.14L373.19,348.04L373.7,344.92L374.21,341.78L374.72,338.61"/>
</g>
<g fill="none" stroke="#000000" stroke-width="1.75" stroke-dasharray="16 15.5">
<path d="M113.13,725.7L113.64,725.63L114.14,725.56L114.65,725.49L115.15,725.41L115.66,725.34L116.16,725.27L116.67,725.2L117.17,725.12L117.67,725.05L118.18,724.97L118.68,724.9L119.19,724.82L119.69,724.75L120.2,724.67L120.7,724.59L121.21,724.51L121.71,724.43L122.22,724.36L122.72,724.28L123.23,724.2L123.73,724.11L124.24,724.03L124.74,723.95L125.25,723.87L125.75,723.79L126.26,723.7L126.76,723.62L127.26,723.53L127.77,723.45L128.27,723.36L128.78,723.27L129.28,723.19L129.79,723.1L130.29,723.01L130.8,722.92L131.3,722.83L131.81,722.74L132.31,722.65L132.82,722.55L133.32,722.46L133.83,722.37L134.33,722.27L134.84,722.18L135.34,722.08L135.85,721.99L136.35,721.89L136.85,721.79L137.36,721.7L137.86,721.6L138.37,721.5L138.87,721.4L139.38,721.3L139.88,721.19L140.39,721.09L140.89,720.99L141.4,720.88L141.9,720.78L142.41,720.67L142.91,720.57L143.42,720.46L143.92,720.35L144.43,720.24L144.93,720.13L145.44,720.02L145.94,719.91L146.44,719.8L146.95,719.69L147.45,719.58L147.96,719.46L148.46,719.35L148.97,719.23L149.47,719.11L149.98,719L150.48,718.88L150.99,718.76L151.49,718.64L152,718.52L152.5,718.4L153.01,718.28L153.51,718.15L154.02,718.03L154.52,717.9L155.03,717.78L155.53,717.65L156.03,717.52L156.54,717.39L157.04,717.26L157.55,717.13L158.05,717L158.56,716.87L159.06,716.73L159.57,716.6L160.07,716.46L160.58,716.33L161.08,716.19L161.59,716.05L162.09,715.91L162.6,715.77L163.1,715.63L163.61,715.49L164.11,715.35L164.62,715.2L165.12,715.06L165.62,714.91L166.13,714.76L166.63,714.61L167.14,714.46L167.64,714.31L168.15,714.16L168.65,714.01L169.16,713.86L169.66,713.7L170.17,713.54L170.67,713.39L171.18,713.23L171.68,713.07L172.19,712.91L172.69,712.75L173.2,712.58L173.7,712.42L174.21,712.26L174.71,712.09L175.21,711.92L175.72,711.75L176.22,711.58L176.73,711.41L177.23,711.24L177.74,711.07L178.24,710.89L178.75,710.72L179.25,710.54L179.76,710.36L180.26,710.18L180.77,710L181.27,709.82L181.78,709.63L182.28,709.45L182.79,709.26L183.29,709.08L183.8,708.89L184.3,708.7"/>
<path d="M184.3,708.7L184.8,708.51L185.31,708.31L185.81,708.12L186.32,707.92L186.82,707.73L187.32,707.53L187.83,707.33L188.33,707.13L188.84,706.93L189.34,706.72L189.85,706.52L190.35,706.31L190.85,706.11L191.36,705.9L191.86,705.69L192.37,705.47L192.87,705.26L193.37,705.04L193.88,704.83L194.38,704.61L194.89,704.39L195.39,704.17L195.9,703.94L196.4,703.72L196.9,703.49L197.41,703.27L197.91,703.04L198.42,702.81L198.92,702.57L199.42,702.34L199.93,702.1L200.43,701.87L200.94,701.63L201.44,701.39L201.94,701.15L202.45,700.9L202.95,700.66L203.46,700.41L203.96,700.16L204.47,699.91L204.97,699.66L205.47,699.4L205.98,699.15L206.48,698.89L206.99,698.63L207.49,698.37L207.99,698.11L208.5,697.84L209,697.57L209.51,697.3L210.01,697.03L210.52,696.76L211.02,696.49L211.52,696.21L212.03,695.93L212.53,695.65L213.04,695.37L213.54,695.09L214.04,694.8L214.55,694.51L215.05,694.23L215.56,693.93L216.06,693.64L216.56,693.34L217.07,693.05L217.57,692.75L218.08,692.45L218.58,692.14L219.09,691.84L219.59,691.53L220.09,691.22L220.6,690.91L221.1,690.59L221.61,690.27L222.11,689.96L222.61,689.64L223.12,689.31L223.62,688.99L224.13,688.66L224.63,688.33L225.14,688L225.64,687.66L226.14,687.33L226.65,686.99L227.15,686.65L227.66,686.31L228.16,685.96L228.66,685.61L229.17,685.26L229.67,684.91L230.18,684.55L230.68,684.2L231.18,683.84L231.69,683.48L232.19,683.11L232.7,682.74L233.2,682.37L233.71,682L234.21,681.63L234.71,681.25L235.22,680.87L235.72,680.49L236.23,680.11L236.73,679.72L237.23,679.33L237.74,678.94L238.24,678.54L238.75,678.14L239.25,677.74L239.76,677.34L240.26,676.93L240.76,676.53L241.27,676.12L241.77,675.7L242.28,675.29L242.78,674.87L243.28,674.44L243.79,674.02L244.29,673.59L244.8,673.16L245.3,672.73L245.8,672.29L246.31,671.85L246.81,671.41L247.32,670.97L247.82,670.52L248.33,670.07L248.83,669.62L249.33,669.16L249.84,668.7L250.34,668.24L250.85,667.77L251.35,667.3L251.85,666.83L252.36,666.36L252.86,665.88L253.37,665.4L253.87,664.92L254.38,664.43L254.88,663.94L255.38,663.44L255.89,662.95L256.39,662.45L256.9,661.95L257.4,661.44"/>
<path d="M257.4,661.44L257.91,660.93L258.41,660.41L258.92,659.89L259.42,659.37L259.93,658.85L260.44,658.32L260.94,657.79L261.45,657.25L261.96,656.71L262.46,656.17L262.97,655.63L263.47,655.08L263.98,654.53L264.49,653.97L264.99,653.41L265.5,652.85L266.01,652.28L266.51,651.71L267.02,651.14L267.52,650.56L268.03,649.98L268.54,649.39L269.04,648.81L269.55,648.21L270.06,647.62L270.56,647.02L271.07,646.42L271.57,645.81L272.08,645.2L272.59,644.58L273.09,643.96L273.6,643.34L274.1,642.72L274.61,642.09L275.12,641.45L275.62,640.81L276.13,640.17L276.64,639.53L277.14,638.88L277.65,638.22L278.15,637.57L278.66,636.9L279.17,636.24L279.67,635.57L280.18,634.89L280.69,634.22L281.19,633.53L281.7,632.85L282.2,632.16L282.71,631.46L283.22,630.76L283.72,630.06L284.23,629.35L284.74,628.64L285.24,627.93L285.75,627.21L286.25,626.48L286.76,625.75L287.27,625.02L287.77,624.28L288.28,623.54L288.78,622.79L289.29,622.04L289.8,621.29L290.3,620.53L290.81,619.76L291.32,618.99L291.82,618.22L292.33,617.44L292.83,616.66L293.34,615.88L293.85,615.08L294.35,614.29L294.86,613.49L295.37,612.68L295.87,611.87L296.38,611.06L296.88,610.24L297.39,609.42L297.9,608.59L298.4,607.75L298.91,606.92L299.42,606.07L299.92,605.23L300.43,604.37L300.93,603.52L301.44,602.66L301.95,601.79L302.45,600.92L302.96,600.04L303.46,599.16L303.97,598.27L304.48,597.38L304.98,596.49L305.49,595.59L306,594.68L306.5,593.77L307.01,592.85L307.51,591.93L308.02,591.01L308.53,590.08L309.03,589.14L309.54,588.2L310.05,587.25L310.55,586.3L311.06,585.35L311.56,584.38L312.07,583.42L312.58,582.45L313.08,581.47L313.59,580.49L314.1,579.5L314.6,578.51L315.11,577.51L315.61,576.51L316.12,575.5L316.63,574.49L317.13,573.47L317.64,572.45L318.14,571.42L318.65,570.39L319.16,569.35L319.66,568.3L320.17,567.25L320.68,566.2L321.18,565.14L321.69,564.07L322.19,563L322.7,561.93L323.21,560.85L323.71,559.76L324.22,558.67L324.73,557.57L325.23,556.47L325.74,555.36L326.24,554.25L326.75,553.13L327.26,552L327.76,550.88L328.27,549.74L328.78,548.6L329.28,547.46L329.79,546.31L330.29,545.15L330.8,543.99"/>
<path d="M330.8,543.99L331.3,542.83L331.81,541.66L332.31,540.49L332.81,539.32L333.32,538.13L333.82,536.95L334.32,535.76L334.83,534.56L335.33,533.36L335.83,532.15L336.34,530.94L336.84,529.72L337.35,528.49L337.85,527.27L338.35,526.03L338.86,524.79L339.36,523.55L339.86,522.3L340.37,521.04L340.87,519.78L341.37,518.52L341.88,517.25L342.38,515.97L342.88,514.69L343.39,513.41L343.89,512.12L344.39,510.82L344.9,509.52L345.4,508.21L345.9,506.9L346.41,505.59L346.91,504.27L347.41,502.94L347.92,501.61L348.42,500.27L348.93,498.93L349.43,497.59L349.93,496.24L350.44,494.88L350.94,493.52L351.44,492.15L351.95,490.78L352.45,489.41L352.95,488.03L353.46,486.65L353.96,485.26L354.46,483.86L354.97,482.47L355.47,481.06L355.97,479.66L356.48,478.24L356.98,476.83L357.48,475.41L357.99,473.98L358.49,472.55L358.99,471.12L359.5,469.68L360,468.24L360.5,466.79L361.01,465.34L361.51,463.89L362.02,462.43L362.52,460.96L363.02,459.5L363.53,458.02L364.03,456.55L364.53,455.07L365.04,453.59L365.54,452.1L366.04,450.61L366.55,449.12L367.05,447.62L367.55,446.12L368.06,444.61L368.56,443.1L369.06,441.59L369.57,440.08L370.07,438.56L370.57,437.04L371.08,435.51L371.58,433.98L372.08,432.45L372.59,430.92L373.09,429.38L373.6,427.84L374.1,426.3L374.6,424.75L375.11,423.21L375.61,421.66L376.11,420.1L376.62,418.55L377.12,416.99L377.62,415.43L378.13,413.87L378.63,412.3L379.13,410.74L379.64,409.17L380.14,407.6L380.64,406.02L381.15,404.45L381.65,402.87L382.15,401.3L382.66,399.72L383.16,398.14L383.66,396.56L384.17,394.97L384.67,393.39L385.18,391.81L385.68,390.22L386.18,388.63L386.69,387.05L387.19,385.46L387.69,383.87L388.2,382.28L388.7,380.69L389.2,379.1L389.71,377.51L390.21,375.92L390.71,374.33L391.22,372.74L391.72,371.15L392.22,369.57L392.73,367.98L393.23,366.39L393.73,364.8L394.24,363.22L394.74,361.63L395.24,360.05L395.75,358.47L396.25,356.88L396.75,355.3L397.26,353.73L397.76,352.15L398.27,350.57L398.77,349L399.27,347.43L399.78,345.86L400.28,344.3L400.78,342.73L401.29,341.17L401.79,339.61L402.29,338.06L402.8,336.5L403.3,334.95"/>
<path d="M403.3,334.95L403.8,333.41L404.31,331.86L404.81,330.32L405.31,328.79L405.82,327.26L406.32,325.73L406.82,324.2L407.33,322.68L407.83,321.17L408.33,319.66L408.84,318.15L409.34,316.65L409.84,315.15L410.35,313.66L410.85,312.18L411.36,310.7L411.86,309.22L412.36,307.75L412.87,306.29L413.37,304.83L413.87,303.38L414.38,301.93L414.88,300.49L415.38,299.06L415.89,297.63L416.39,296.22L416.89,294.8L417.4,293.4L417.9,292L418.4,290.61L418.91,289.23L419.41,287.86L419.91,286.49L420.42,285.13L420.92,283.78L421.42,282.44L421.93,281.11L422.43,279.79L422.93,278.47L423.44,277.16L423.94,275.87L424.44,274.58L424.95,273.3L425.45,272.03L425.96,270.78L426.46,269.53L426.96,268.29L427.47,267.06L427.97,265.84L428.47,264.64L428.98,263.44L429.48,262.26L429.98,261.08L430.49,259.92L430.99,258.77L431.49,257.63L432,256.5L432.5,255.38L433,254.28L433.51,253.19L434.01,252.11L434.51,251.04L435.02,249.98L435.52,248.94L436.02,247.91L436.53,246.89L437.03,245.89L437.53,244.89L438.04,243.92L438.54,242.95L439.04,242L439.55,241.06L440.05,240.14L440.56,239.23L441.06,238.33L441.56,237.45L442.07,236.58L442.57,235.73L443.07,234.89L443.58,234.07L444.08,233.26L444.58,232.46L445.09,231.68L445.59,230.92L446.09,230.17L446.6,229.43L447.1,228.71L447.6,228.01L448.11,227.32L448.61,226.64L449.11,225.98L449.62,225.34L450.12,224.71L450.62,224.1L451.13,223.5L451.63,222.92L452.13,222.36L452.64,221.81L453.14,221.27L453.64,220.76L454.15,220.25L454.65,219.77L455.16,219.3L455.66,218.84L456.16,218.41L456.67,217.98L457.17,217.58L457.67,217.19L458.18,216.81L458.68,216.46L459.18,216.11L459.69,215.79L460.19,215.48L460.69,215.18L461.2,214.9L461.7,214.64L462.2,214.39L462.71,214.16L463.21,213.94L463.71,213.74L464.22,213.56L464.72,213.39L465.22,213.23L465.73,213.09L466.23,212.97L466.73,212.86L467.24,212.76L467.74,212.68L468.24,212.62L468.75,212.57L469.25,212.53L469.76,212.51L470.26,212.5L470.76,212.51L471.27,212.53L471.77,212.56L472.27,212.61L472.78,212.67L473.28,212.74L473.78,212.82L474.29,212.92L474.79,213.03L475.29,213.16L475.8,213.29L476.3,213.44"/>
<path d="M476.3,213.44L476.81,213.6L477.31,213.77L477.82,213.96L478.33,214.15L478.83,214.36L479.34,214.57L479.85,214.8L480.36,215.04L480.86,215.28L481.37,215.54L481.88,215.81L482.38,216.08L482.89,216.36L483.4,216.65L483.9,216.95L484.41,217.26L484.92,217.58L485.43,217.9L485.93,218.23L486.44,218.56L486.95,218.9L487.45,219.25L487.96,219.6L488.47,219.96L488.97,220.32L489.48,220.69L489.99,221.06L490.49,221.43L491,221.81L491.51,222.19L492.02,222.58L492.52,222.96L493.03,223.35L493.54,223.74L494.04,224.13L494.55,224.52L495.06,224.91L495.56,225.3L496.07,225.7L496.58,226.09L497.08,226.48L497.59,226.86L498.1,227.25L498.61,227.63L499.11,228.01L499.62,228.39L500.13,228.76L500.63,229.14L501.14,229.5L501.65,229.86L502.15,230.22L502.66,230.57L503.17,230.92L503.68,231.26L504.18,231.59L504.69,231.92L505.2,232.24L505.7,232.55L506.21,232.86L506.72,233.15L507.22,233.44L507.73,233.72L508.24,233.99L508.74,234.26L509.25,234.51L509.76,234.75L510.27,234.98L510.77,235.2L511.28,235.41L511.79,235.61L512.29,235.8L512.8,235.98L513.31,236.15L513.81,236.3L514.32,236.44L514.83,236.57L515.33,236.69L515.84,236.8L516.35,236.89L516.86,236.97L517.36,237.04L517.87,237.09L518.38,237.13L518.88,237.16L519.39,237.17L519.9,237.17L520.4,237.16L520.91,237.13L521.42,237.09L521.92,237.03L522.43,236.97L522.94,236.89L523.45,236.79L523.95,236.68L524.46,236.56L524.97,236.43L525.47,236.28L525.98,236.12L526.49,235.95L526.99,235.76L527.5,235.56L528.01,235.35L528.52,235.12L529.02,234.89L529.53,234.64L530.04,234.38L530.54,234.11L531.05,233.83L531.56,233.54L532.06,233.23L532.57,232.92L533.08,232.6L533.58,232.27L534.09,231.93L534.6,231.58L535.11,231.22L535.61,230.85L536.12,230.48L536.63,230.1L537.13,229.71L537.64,229.32L538.15,228.92L538.65,228.51L539.16,228.1L539.67,227.69L540.17,227.27L540.68,226.85L541.19,226.42L541.7,226L542.2,225.57L542.71,225.14L543.22,224.71L543.72,224.28L544.23,223.85L544.74,223.42L545.24,222.99L545.75,222.57L546.26,222.14L546.77,221.72L547.27,221.31L547.78,220.89L548.29,220.48L548.79,220.08L549.3,219.68"/>
<path d="M549.3,219.68L549.8,219.3L550.31,218.92L550.81,218.54L551.31,218.17L551.82,217.82L552.32,217.46L552.82,217.12L553.33,216.79L553.83,216.47L554.33,216.16L554.84,215.86L555.34,215.57L555.84,215.29L556.35,215.02L556.85,214.77L557.36,214.53L557.86,214.3L558.36,214.08L558.87,213.88L559.37,213.69L559.87,213.51L560.38,213.35L560.88,213.2L561.38,213.07L561.89,212.95L562.39,212.84L562.89,212.75L563.4,212.67L563.9,212.61L564.4,212.56L564.91,212.53L565.41,212.51L565.91,212.5L566.42,212.51L566.92,212.53L567.42,212.56L567.93,212.61L568.43,212.68L568.93,212.75L569.44,212.84L569.94,212.94L570.44,213.05L570.95,213.17L571.45,213.3L571.96,213.45L572.46,213.6L572.96,213.76L573.47,213.94L573.97,214.12L574.47,214.31L574.98,214.5L575.48,214.71L575.98,214.92L576.49,215.13L576.99,215.35L577.49,215.58L578,215.81L578.5,216.04L579,216.27L579.51,216.51L580.01,216.75L580.51,216.98L581.02,217.22L581.52,217.45L582.02,217.69L582.53,217.92L583.03,218.15L583.53,218.37L584.04,218.59L584.54,218.8L585.04,219.01L585.55,219.21L586.05,219.41L586.56,219.59L587.06,219.77L587.56,219.94L588.07,220.1L588.57,220.25L589.07,220.39L589.58,220.52L590.08,220.63L590.58,220.74L591.09,220.83L591.59,220.91L592.09,220.98L592.6,221.03L593.1,221.07L593.6,221.1L594.11,221.11L594.61,221.11L595.11,221.1L595.62,221.07L596.12,221.03L596.62,220.98L597.13,220.91L597.63,220.83L598.13,220.73L598.64,220.63L599.14,220.51L599.64,220.37L600.15,220.23L600.65,220.08L601.16,219.91L601.66,219.73L602.16,219.55L602.67,219.35L603.17,219.15L603.67,218.93L604.18,218.72L604.68,218.49L605.18,218.26L605.69,218.02L606.19,217.78L606.69,217.53L607.2,217.29L607.7,217.04L608.2,216.79L608.71,216.54L609.21,216.29L609.71,216.04L610.22,215.79L610.72,215.55L611.22,215.31L611.73,215.08L612.23,214.85L612.73,214.63L613.24,214.42L613.74,214.21L614.24,214.02L614.75,213.83L615.25,213.66L615.76,213.49L616.26,213.34L616.76,213.19L617.27,213.06L617.77,212.95L618.27,212.84L618.78,212.75L619.28,212.67L619.78,212.61L620.29,212.56L620.79,212.53L621.29,212.51L621.8,212.5L622.3,212.51"/>
<path d="M622.3,212.51L622.8,212.53L623.31,212.56L623.81,212.61L624.31,212.67L624.82,212.74L625.32,212.83L625.82,212.92L626.33,213.03L626.83,213.15L627.33,213.27L627.84,213.41L628.34,213.55L628.84,213.7L629.35,213.85L629.85,214.01L630.36,214.18L630.86,214.35L631.36,214.51L631.87,214.68L632.37,214.85L632.87,215.02L633.38,215.19L633.88,215.36L634.38,215.52L634.89,215.67L635.39,215.82L635.89,215.96L636.4,216.1L636.9,216.22L637.4,216.34L637.91,216.45L638.41,216.54L638.91,216.62L639.42,216.7L639.92,216.76L640.42,216.8L640.93,216.84L641.43,216.85L641.93,216.86L642.44,216.85L642.94,216.83L643.44,216.79L643.95,216.75L644.45,216.68L644.96,216.61L645.46,216.52L645.96,216.42L646.47,216.31L646.97,216.19L647.47,216.05L647.98,215.91L648.48,215.76L648.98,215.61L649.49,215.45L649.99,215.28L650.49,215.11L651,214.93L651.5,214.75L652,214.58L652.51,214.4L653.01,214.23L653.51,214.05L654.02,213.89L654.52,213.72L655.02,213.57L655.53,213.42L656.03,213.28L656.53,213.15L657.04,213.03L657.54,212.92L658.04,212.82L658.55,212.73L659.05,212.66L659.56,212.6L660.06,212.55L660.56,212.52L661.07,212.5L661.57,212.5L662.07,212.51L662.58,212.53L663.08,212.57L663.58,212.62L664.09,212.68L664.59,212.76L665.09,212.84L665.6,212.94L666.1,213.04L666.6,213.15L667.11,213.27L667.61,213.39L668.11,213.52L668.62,213.65L669.12,213.78L669.62,213.92L670.13,214.05L670.63,214.18L671.13,214.3L671.64,214.43L672.14,214.54L672.64,214.65L673.15,214.75L673.65,214.84L674.16,214.92L674.66,214.98L675.16,215.04L675.67,215.08L676.17,215.11L676.67,215.13L677.18,215.13L677.68,215.12L678.18,215.09L678.69,215.05L679.19,215L679.69,214.93L680.2,214.86L680.7,214.77L681.2,214.67L681.71,214.56L682.21,214.45L682.71,214.32L683.22,214.19L683.72,214.06L684.22,213.93L684.73,213.79L685.23,213.65L685.73,213.52L686.24,213.38L686.74,213.26L687.24,213.14L687.75,213.02L688.25,212.92L688.76,212.82L689.26,212.74L689.76,212.67L690.27,212.61L690.77,212.56L691.27,212.52L691.78,212.51L692.28,212.5L692.78,212.51L693.29,212.53L693.79,212.57L694.29,212.61L694.8,212.67L695.3,212.74"/>
<path d="M695.3,212.74L695.8,212.82L696.31,212.91L696.81,213.01L697.31,213.11L697.82,213.22L698.32,213.32L698.82,213.43L699.33,213.54L699.83,213.65L700.33,213.75L700.84,213.85L701.34,213.93L701.84,214.01L702.35,214.09L702.85,214.14L703.36,214.19L703.86,214.23L704.36,214.25L704.87,214.26L705.37,214.25L705.87,214.23L706.38,214.2L706.88,214.15L707.38,214.09L707.89,214.02L708.39,213.94L708.89,213.85L709.4,213.75L709.9,213.65L710.4,213.54L710.91,213.43L711.41,213.32L711.91,213.21L712.42,213.1L712.92,213L713.42,212.9L713.93,212.81L714.43,212.73L714.93,212.66L715.44,212.6L715.94,212.56L716.44,212.52L716.95,212.5L717.45,212.5L717.96,212.51L718.46,212.53L718.96,212.57L719.47,212.62L719.97,212.68L720.47,212.74L720.98,212.82L721.48,212.91L721.98,212.99L722.49,213.09L722.99,213.18L723.49,213.27L724,213.36L724.5,213.44L725,213.52L725.51,213.59L726.01,213.64L726.51,213.69L727.02,213.73L727.52,213.75L728.02,213.76L728.53,213.75L729.03,213.73L729.53,213.7L730.04,213.65L730.54,213.6L731.04,213.53L731.55,213.45L732.05,213.37L732.56,213.28L733.06,213.18L733.56,213.09L734.07,213L734.57,212.9L735.07,212.82L735.58,212.74L736.08,212.67L736.58,212.61L737.09,212.56L737.59,212.53L738.09,212.51L738.6,212.5L739.1,212.51L739.6,212.53L740.11,212.56L740.61,212.6L741.11,212.66L741.62,212.72L742.12,212.8L742.62,212.87L743.13,212.95L743.63,213.03L744.13,213.11L744.64,213.18L745.14,213.25L745.64,213.31L746.15,213.36L746.65,213.4L747.16,213.43L747.66,213.44L748.16,213.44L748.67,213.43L749.17,213.4L749.67,213.36L750.18,213.31L750.68,213.24L751.18,213.17L751.69,213.1L752.19,213.02L752.69,212.93L753.2,212.85L753.7,212.78L754.2,212.71L754.71,212.64L755.21,212.59L755.71,212.55L756.22,212.52L756.72,212.5L757.22,212.5L757.73,212.51L758.23,212.54L758.73,212.58L759.24,212.62L759.74,212.68L760.24,212.75L760.75,212.82L761.25,212.89L761.76,212.96L762.26,213.02L762.76,213.08L763.27,213.14L763.77,213.18L764.27,213.21L764.78,213.23L765.28,213.23L765.78,213.22L766.29,213.2L766.79,213.17L767.29,213.12L767.8,213.06L768.3,213"/>
<path d="M768.3,213L768.81,212.93L769.31,212.86L769.82,212.78L770.33,212.72L770.84,212.65L771.34,212.6L771.85,212.55L772.36,212.52L772.87,212.5L773.37,212.5L773.88,212.51L774.39,212.53L774.89,212.57L775.4,212.62L775.91,212.67L776.42,212.73L776.92,212.79L777.43,212.86L777.94,212.92L778.45,212.97L778.95,213.02L779.46,213.05L779.97,213.08L780.47,213.09L780.98,213.08L781.49,213.06L782,213.03L782.5,212.99L783.01,212.94L783.52,212.88L784.03,212.81L784.53,212.75L785.04,212.69L785.55,212.63L786.05,212.58L786.56,212.54L787.07,212.51L787.58,212.5L788.08,212.5L788.59,212.52L789.1,212.54L789.61,212.58L790.11,212.63L790.62,212.69L791.13,212.74L791.63,212.8L792.14,212.85L792.65,212.9L793.16,212.94L793.66,212.97L794.17,212.98L794.68,212.98L795.19,212.96L795.69,212.94L796.2,212.9L796.71,212.85L797.21,212.79L797.72,212.74L798.23,212.68L798.74,212.62L799.24,212.58L799.75,212.54L800.26,212.51L800.77,212.5L801.27,212.5L801.78,212.52L802.29,212.55L802.79,212.59L803.3,212.63L803.81,212.69L804.32,212.74L804.82,212.79L805.33,212.83L805.84,212.87L806.35,212.89L806.85,212.9L807.36,212.9L807.87,212.88L808.37,212.85L808.88,212.81L809.39,212.76L809.9,212.71L810.4,212.65L810.91,212.6L811.42,212.56L811.93,212.53L812.43,212.51L812.94,212.5"/>
</g>
<path fill="none" stroke="#ffa500" stroke-width="1.7" d="M376.8,51.5H459.9M376.8,48v7M459.9,48v7"/>
<path fill="none" stroke="#00ff00" stroke-width="1.7" d="M376.8,83.7H459.9M376.8,80.2v7M459.9,80.2v7"/>
<path fill="none" stroke="#0000ff" stroke-width="1.7" d="M376.8,114.8H459.9M376.8,111.3v7M459.9,111.3v7"/>
<path fill="#ffa500" d="M411.75,44.85h13.3v13.3h-13.3z"/>
<path fill="#00ff00" d="M411.8,83.7a6.6,6.6 0 1,0 13.2,0a6.6,6.6 0 1,0 -13.2,0z"/>
<path fill="#0000ff" d="M418.4,107.9l6.65,10.35h-13.3z"/>
<path fill="none" stroke="#ff0000" stroke-width="2" stroke-dasharray="16 15.4 3.6 7.6" d="M377,146.2H460"/>
<path fill="none" stroke="#000000" stroke-width="2" stroke-dasharray="16 15.5" d="M377,177.8H460"/>
<rect x="113.2" y="29.5" width="699.6" height="705.8" fill="none" stroke="#000" stroke-width="1.4"/>
<clipPath id="ic"><rect x="516" y="351.9" width="275.8" height="315.1"/></clipPath>
<path fill="none" stroke="#000" stroke-width="0.9" d="M573.45,667v-3.5M573.45,351.9v3.5M630.9,667v-6.5M630.9,351.9v6.5M688.35,667v-3.5M688.35,351.9v3.5M745.8,667v-6.5M745.8,351.9v6.5M516,635.49h3.5M791.8,635.49h-3.5M516,603.98h6.5M791.8,603.98h-6.5M516,572.47h3.5M791.8,572.47h-3.5M516,540.96h6.5M791.8,540.96h-6.5M516,509.45h3.5M791.8,509.45h-3.5M516,477.94h6.5M791.8,477.94h-6.5M516,446.43h3.5M791.8,446.43h-3.5M516,414.92h6.5M791.8,414.92h-6.5M516,383.41h3.5M791.8,383.41h-3.5"/>
<g fill="none" stroke-width="1.7" clip-path="url(#ic)">
<path stroke="#00ff00" d="M517.61,667L526.92,620.82L536.45,616.14L545.99,606.88L555.53,595.88L565.06,582.62L574.6,566.26L584.14,549.74L593.67,531.37L603.21,513.8L612.75,493.48L622.28,471L631.82,447.26L641.36,422.75L650.89,396.89L660.43,370.25L669.97,344.85L679.5,319.67L689.04,292.8L698.58,262.6L708.11,229.23L717.65,194.27L727.19,158.05L736.72,120.25L746.26,81.98L755.8,42.95L765.33,2.56L774.87,-39.02L784.41,-81.64L793.94,-125.19L803.48,-169.59L813.02,-214.76L822.55,-260.65L832.09,-307.2L841.63,-354.39L851.16,-402.17L860.7,-450.53L870.24,-499.76L879.77,-550.16L889.31,-601.72"/>
<path stroke="#0000ff" d="M520.37,667L534.72,667L549.07,666.98L563.42,666.89L577.77,666.59L592.12,665.86L606.47,663.68L620.82,657.88L635.17,649.13L649.53,638.12L663.88,624.72L678.23,608.1L692.58,587.58L706.93,563.03L721.28,534.68L735.63,502.76L749.98,467.38L764.33,428.63L778.68,386.52L793.04,341.09L807.39,292.37L821.74,240.38L836.09,185.18L850.44,126.78L864.79,65.23L879.14,0.57L893.49,-67.15L907.84,-137.9L922.19,-211.62L936.55,-288.28"/>
</g>
<path fill="#00ff00" d="M511.01,667a6.6,6.6 0 1,0 13.2,0a6.6,6.6 0 1,0 -13.2,0zM520.32,620.82a6.6,6.6 0 1,0 13.2,0a6.6,6.6 0 1,0 -13.2,0zM529.85,616.14a6.6,6.6 0 1,0 13.2,0a6.6,6.6 0 1,0 -13.2,0zM539.39,606.88a6.6,6.6 0 1,0 13.2,0a6.6,6.6 0 1,0 -13.2,0zM548.93,595.88a6.6,6.6 0 1,0 13.2,0a6.6,6.6 0 1,0 -13.2,0zM558.46,582.62a6.6,6.6 0 1,0 13.2,0a6.6,6.6 0 1,0 -13.2,0zM568,566.26a6.6,6.6 0 1,0 13.2,0a6.6,6.6 0 1,0 -13.2,0zM577.54,549.74a6.6,6.6 0 1,0 13.2,0a6.6,6.6 0 1,0 -13.2,0zM587.07,531.37a6.6,6.6 0 1,0 13.2,0a6.6,6.6 0 1,0 -13.2,0zM596.61,513.8a6.6,6.6 0 1,0 13.2,0a6.6,6.6 0 1,0 -13.2,0zM606.15,493.48a6.6,6.6 0 1,0 13.2,0a6.6,6.6 0 1,0 -13.2,0zM615.68,471a6.6,6.6 0 1,0 13.2,0a6.6,6.6 0 1,0 -13.2,0zM625.22,447.26a6.6,6.6 0 1,0 13.2,0a6.6,6.6 0 1,0 -13.2,0zM634.76,422.75a6.6,6.6 0 1,0 13.2,0a6.6,6.6 0 1,0 -13.2,0zM644.29,396.89a6.6,6.6 0 1,0 13.2,0a6.6,6.6 0 1,0 -13.2,0zM653.83,370.25a6.6,6.6 0 1,0 13.2,0a6.6,6.6 0 1,0 -13.2,0z"/>
<path fill="#0000ff" d="M520.37,660.1l6.65,10.35h-13.3zM534.72,660.1l6.65,10.35h-13.3zM549.07,660.08l6.65,10.35h-13.3zM563.42,659.99l6.65,10.35h-13.3zM577.77,659.69l6.65,10.35h-13.3zM592.12,658.96l6.65,10.35h-13.3zM606.47,656.78l6.65,10.35h-13.3zM620.82,650.98l6.65,10.35h-13.3zM635.17,642.23l6.65,10.35h-13.3zM649.53,631.22l6.65,10.35h-13.3zM663.88,617.82l6.65,10.35h-13.3zM678.23,601.2l6.65,10.35h-13.3zM692.58,580.68l6.65,10.35h-13.3zM706.93,556.13l6.65,10.35h-13.3zM721.28,527.78l6.65,10.35h-13.3zM735.63,495.86l6.65,10.35h-13.3zM749.98,460.48l6.65,10.35h-13.3zM764.33,421.73l6.65,10.35h-13.3zM778.68,379.62l6.65,10.35h-13.3z"/>
<g fill="none" stroke-width="2.6" clip-path="url(#ic)">
<path stroke="#ff0000" stroke-width="2.05" stroke-dasharray="21.3 20.5 4.8 10.1" d="M516,667L516.92,667L517.84,667L518.77,667L519.69,667L520.61,667L521.53,667L522.46,667L523.38,667L524.3,667L525.22,667L526.15,667L527.07,667L527.99,667L528.91,667L529.83,667L530.76,667L531.68,667L532.6,667L533.52,667L534.45,667L535.37,667L536.29,667L537.21,667L538.13,667L539.06,667L539.98,667L540.9,667L541.82,667L542.75,667L543.67,667L544.59,667L545.51,667L546.44,667L547.36,667L548.28,667L549.2,667L550.12,667L551.05,667L551.97,667L552.89,667L553.81,667L554.74,667L555.66,667L556.58,667L557.5,667L558.42,667L559.35,667L560.27,667L561.19,667L562.11,667L563.04,667L563.96,667L564.88,667L565.8,667L566.73,667L567.65,667L568.57,667L569.49,667L570.41,667L571.34,667L572.26,667L573.18,667L574.1,667L575.03,667L575.95,667L576.87,667L577.79,667L578.71,667L579.64,667L580.56,667L581.48,667L582.4,667L583.33,667L584.25,667L585.17,667L586.09,667L587.02,667L587.94,667L588.86,667L589.78,667L590.7,667L591.63,667L592.55,667L593.47,667L594.39,667L595.32,667L596.24,667L597.16,667L598.08,667L599,667L599.93,667L600.85,667L601.77,667L602.69,667L603.62,667L604.54,666.99L605.46,666.96L606.38,666.92L607.31,666.87L608.23,666.8L609.15,666.71L610.07,666.61L610.99,666.5L611.92,666.37L612.84,666.23L613.76,666.08L614.68,665.91L615.61,665.72L616.53,665.52L617.45,665.31L618.37,665.08L619.29,664.84L620.22,664.58L621.14,664.31L622.06,664.02L622.98,663.72L623.91,663.41L624.83,663.08L625.75,662.73L626.67,662.37L627.6,662L628.52,661.61L629.44,661.21L630.36,660.8L631.28,660.37L632.21,659.92L633.13,659.46L634.05,658.99L634.97,658.5L635.9,658L636.82,657.48L637.74,656.95L638.66,656.4L639.58,655.84L640.51,655.27L641.43,654.68L642.35,654.08L643.27,653.46L644.2,652.83L645.12,652.18L646.04,651.52L646.96,650.84L647.89,650.15L648.81,649.45L649.73,648.73L650.65,647.99L651.57,647.25L652.5,646.48L653.42,645.71L654.34,644.92L655.26,644.11L656.19,643.29L657.11,642.46L658.03,641.61L658.95,640.74L659.87,639.87L660.8,638.97L661.72,638.07L662.64,637.15L663.56,636.21L664.49,635.26L665.41,634.3L666.33,633.32L667.25,632.32L668.18,631.32L669.1,630.29L670.02,629.26L670.94,628.21L671.86,627.14L672.79,626.06L673.71,624.97L674.63,623.86L675.55,622.73L676.48,621.6L677.4,620.44L678.32,619.28L679.24,618.1L680.16,616.9L681.09,615.69L682.01,614.47L682.93,613.23L683.85,611.98L684.78,610.71L685.7,609.43L686.62,608.13L687.54,606.82L688.47,605.49L689.39,604.15L690.31,602.8L691.23,601.43L692.15,600.05L693.08,598.65L694,597.24L694.92,595.81L695.84,594.37L696.77,592.92L697.69,591.45L698.61,589.96L699.53,588.46L700.45,586.95L701.38,585.42L702.3,583.88L703.22,582.33L704.14,580.76L705.07,579.17L705.99,577.57L706.91,575.96L707.83,574.33L708.76,572.69L709.68,571.03L710.6,569.36L711.52,567.67L712.44,565.97L713.37,564.26L714.29,562.53L715.21,560.78L716.13,559.02L717.06,557.25L717.98,555.46L718.9,553.66L719.82,551.85L720.74,550.02L721.67,548.17L722.59,546.31L723.51,544.44L724.43,542.55L725.36,540.65L726.28,538.73L727.2,536.8L728.12,534.85L729.05,532.89L729.97,530.92L730.89,528.93L731.81,526.92L732.73,524.91L733.66,522.87L734.58,520.83L735.5,518.77L736.42,516.69L737.35,514.6L738.27,512.49L739.19,510.38L740.11,508.24L741.03,506.09L741.96,503.93L742.88,501.75L743.8,499.56L744.72,497.36L745.65,495.14L746.57,492.9L747.49,490.65L748.41,488.39L749.34,486.11L750.26,483.82L751.18,481.51L752.1,479.19L753.02,476.86L753.95,474.51L754.87,472.14L755.79,469.76L756.71,467.37L757.64,464.96L758.56,462.54L759.48,460.1L760.4,457.65L761.32,455.19L762.25,452.71L763.17,450.21L764.09,447.7L765.01,445.18L765.94,442.64L766.86,440.09L767.78,437.52L768.7,434.94L769.63,432.35L770.55,429.74L771.47,427.11L772.39,424.47L773.31,421.82L774.24,419.15L775.16,416.47L776.08,413.77L777,411.06L777.93,408.34L778.85,405.6L779.77,402.84L780.69,400.07L781.61,397.29L782.54,394.49L783.46,391.68L784.38,388.86L785.3,386.01L786.23,383.16L787.15,380.29L788.07,377.41L788.99,374.51L789.92,371.59L790.84,368.67L791.76,365.72"/>
<path stroke="#000000" stroke-dasharray="21 20.77" stroke-dashoffset="-2.2" d="M516,667L516.92,666.99L517.84,666.97L518.77,666.94L519.69,666.89L520.61,666.83L521.53,666.76L522.46,666.67L523.38,666.57L524.3,666.46L525.22,666.33L526.15,666.19L527.07,666.04L527.99,665.87L528.91,665.69L529.83,665.5L530.76,665.29L531.68,665.07L532.6,664.84L533.52,664.59L534.45,664.33L535.37,664.05L536.29,663.77L537.21,663.47L538.13,663.15L539.06,662.83L539.98,662.49L540.9,662.13L541.82,661.76L542.75,661.38L543.67,660.99L544.59,660.58L545.51,660.16L546.44,659.73L547.36,659.28L548.28,658.82L549.2,658.35L550.12,657.86L551.05,657.36L551.97,656.84L552.89,656.32L553.81,655.78L554.74,655.22L555.66,654.66L556.58,654.07L557.5,653.48L558.42,652.87L559.35,652.25L560.27,651.62L561.19,650.97L562.11,650.31L563.04,649.64L563.96,648.95L564.88,648.25L565.8,647.54L566.73,646.81L567.65,646.07L568.57,645.32L569.49,644.55L570.41,643.77L571.34,642.97L572.26,642.17L573.18,641.35L574.1,640.51L575.03,639.67L575.95,638.81L576.87,637.93L577.79,637.05L578.71,636.15L579.64,635.23L580.56,634.31L581.48,633.37L582.4,632.41L583.33,631.45L584.25,630.47L585.17,629.48L586.09,628.47L587.02,627.45L587.94,626.42L588.86,625.37L589.78,624.31L590.7,623.24L591.63,622.15L592.55,621.06L593.47,619.94L594.39,618.82L595.32,617.68L596.24,616.53L597.16,615.36L598.08,614.18L599,612.99L599.93,611.79L600.85,610.57L601.77,609.34L602.69,608.1L603.62,606.84L604.54,605.57L605.46,604.28L606.38,602.99L607.31,601.68L608.23,600.35L609.15,599.02L610.07,597.67L610.99,596.3L611.92,594.93L612.84,593.54L613.76,592.13L614.68,590.72L615.61,589.29L616.53,587.85L617.45,586.39L618.37,584.92L619.29,583.44L620.22,581.95L621.14,580.44L622.06,578.92L622.98,577.38L623.91,575.84L624.83,574.28L625.75,572.7L626.67,571.12L627.6,569.52L628.52,567.9L629.44,566.28L630.36,564.64L631.28,562.99L632.21,561.32L633.13,559.64L634.05,557.95L634.97,556.25L635.9,554.53L636.82,552.8L637.74,551.06L638.66,549.3L639.58,547.53L640.51,545.75L641.43,543.95L642.35,542.14L643.27,540.32L644.2,538.48L645.12,536.64L646.04,534.77L646.96,532.9L647.89,531.01L648.81,529.11L649.73,527.2L650.65,525.27L651.57,523.33L652.5,521.38L653.42,519.42L654.34,517.44L655.26,515.45L656.19,513.44L657.11,511.43L658.03,509.4L658.95,507.35L659.87,505.3L660.8,503.23L661.72,501.15L662.64,499.05L663.56,496.94L664.49,494.82L665.41,492.69L666.33,490.54L667.25,488.38L668.18,486.21L669.1,484.03L670.02,481.83L670.94,479.62L671.86,477.39L672.79,475.16L673.71,472.91L674.63,470.65L675.55,468.37L676.48,466.08L677.4,463.78L678.32,461.47L679.24,459.14L680.16,456.8L681.09,454.45L682.01,452.08L682.93,449.71L683.85,447.31L684.78,444.91L685.7,442.49L686.62,440.07L687.54,437.62L688.47,435.17L689.39,432.7L690.31,430.22L691.23,427.73L692.15,425.22L693.08,422.7L694,420.17L694.92,417.63L695.84,415.07L696.77,412.5L697.69,409.92L698.61,407.33L699.53,404.72L700.45,402.1L701.38,399.46L702.3,396.82L703.22,394.16L704.14,391.49L705.07,388.81L705.99,386.11L706.91,383.4L707.83,380.68L708.76,377.95L709.68,375.2L710.6,372.44L711.52,369.67L712.44,366.88L713.37,364.09L714.29,361.28L715.21,358.45L716.13,355.62L717.06,352.77L717.98,349.91L718.9,347.04L719.82,344.15L720.74,341.25L721.67,338.34L722.59,335.42L723.51,332.49L724.43,329.54L725.36,326.58L726.28,323.61L727.2,320.62L728.12,317.62L729.05,314.61L729.97,311.59L730.89,308.55L731.81,305.51L732.73,302.45L733.66,299.37L734.58,296.29L735.5,293.19L736.42,290.08L737.35,286.96L738.27,283.83L739.19,280.68L740.11,277.52L741.03,274.35L741.96,271.16L742.88,267.97L743.8,264.76L744.72,261.54L745.65,258.3L746.57,255.06L747.49,251.8L748.41,248.53L749.34,245.25L750.26,241.95L751.18,238.64L752.1,235.32L753.02,231.99L753.95,228.65L754.87,225.29L755.79,221.92L756.71,218.54L757.64,215.15L758.56,211.75L759.48,208.33L760.4,204.9L761.32,201.46L762.25,198L763.17,194.54L764.09,191.06L765.01,187.57L765.94,184.06L766.86,180.55L767.78,177.02L768.7,173.48L769.63,169.93L770.55,166.37L771.47,162.79L772.39,159.21L773.31,155.61L774.24,152L775.16,148.37L776.08,144.74L777,141.09L777.93,137.43L778.85,133.76L779.77,130.07L780.69,126.38L781.61,122.67L782.54,118.95L783.46,115.22L784.38,111.48L785.3,107.72L786.23,103.95L787.15,100.17L788.07,96.38L788.99,92.58L789.92,88.76L790.84,84.94L791.76,81.1"/>
</g>
<rect x="516" y="351.9" width="275.8" height="315.1" fill="none" stroke="#000" stroke-width="1.6"/>
<g font-family='"Liberation Sans", sans-serif' font-size="31.4" fill="#000" style="font-kerning:none" filter="url(#gf)">
<text x="218.97" y="62.1">SPIGS LL</text>
<text x="210.86" y="93.6">SPIGS TG</text>
<text x="208.54" y="124.9">SPIGS HR</text>
<text x="161.37" y="156.2">HR expansion</text>
<text x="306.27" y="187.7">IFG</text>
<text x="50.95" y="746.09">0.0</text>
<text x="50.95" y="641.53">0.2</text>
<text x="50.95" y="536.97">0.4</text>
<text x="50.95" y="432.41">0.6</text>
<text x="50.95" y="327.85">0.8</text>
<path d="M62.63,223.29L59.87,223.29L59.87,207.43L54.15,207.43L54.15,205.46C57.98,205.46 59.43,204.45 60.24,201.03L62.63,201.03Z"/>
<text x="68.41" y="223.29">.0</text>
<path d="M62.63,118.73L59.87,118.73L59.87,102.87L54.15,102.87L54.15,100.9C57.98,100.9 59.43,99.89 60.24,96.47L62.63,96.47Z"/>
<text x="68.41" y="118.73">.2</text>
<text x="135.97" y="778">0.</text>
<path d="M173.84,778L171.08,778L171.08,762.14L165.36,762.14L165.36,760.16C169.2,760.16 170.64,759.16 171.46,755.74L173.84,755.74Z"/>
<path d="M477.85,778L475.09,778L475.09,762.14L469.37,762.14L469.37,760.16C473.2,760.16 474.65,759.16 475.46,755.74L477.85,755.74Z"/>
<path d="M786.52,778L783.75,778L783.75,762.14L778.04,762.14L778.04,760.16C781.87,760.16 783.31,759.16 784.13,755.74L786.52,755.74Z"/>
<text x="792.3" y="778">0</text>
<text x="366.15" y="815.2">r (units of </text>
<path d="M517.43,815.2L514.66,815.2L514.66,799.34L508.95,799.34L508.95,797.36C512.78,797.36 514.22,796.36 515.04,792.94L517.43,792.94Z"/>
<text x="523.21" y="815.2">/n)</text>
<text x="8.3" y="50.2">(a)</text>
<text transform="translate(29.6,382.7) rotate(-90)" text-anchor="middle">g<tspan font-size="25.12" dy="9.4">2</tspan><tspan dy="-9.4">(r)</tspan></text>
<text x="418.62" y="678.24">0.000</text>
<text x="418.62" y="615.22">0.005</text>
<text x="418.62" y="552.2">0.0</text>
<path d="M473.95,552.2L471.19,552.2L471.19,536.34L465.48,536.34L465.48,534.37C469.31,534.37 470.75,533.36 471.57,529.94L473.95,529.94Z"/>
<text x="479.74" y="552.2">0</text>
<text x="418.62" y="489.18">0.0</text>
<path d="M473.95,489.18L471.19,489.18L471.19,473.32L465.48,473.32L465.48,471.35C469.31,471.35 470.75,470.34 471.57,466.92L473.95,466.92Z"/>
<text x="479.74" y="489.18">5</text>
<text x="418.62" y="426.16">0.020</text>
<text x="418.62" y="363.14">0.025</text>
<text x="511.47" y="709">0</text>
<text x="604.54" y="709">0.05</text>
<text x="728.17" y="709">0.</text>
<path d="M766.04,709L763.28,709L763.28,693.14L757.56,693.14L757.56,691.16C761.4,691.16 762.84,690.16 763.66,686.74L766.04,686.74Z"/>
</g>
</svg></body></html>
